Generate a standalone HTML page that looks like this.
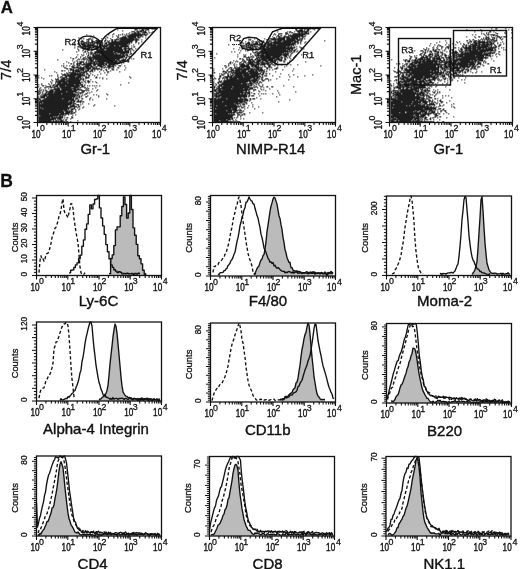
<!DOCTYPE html>
<html><head><meta charset="utf-8"><title>Figure</title>
<style>html,body{margin:0;padding:0;background:#fff;width:520px;height:569px;overflow:hidden}svg{display:block}svg text{stroke:#111;stroke-width:.3px}svg text.b{stroke-width:.4px}svg text.t{stroke-width:.4px}</style>
</head><body>
<svg width="520" height="569" viewBox="0 0 520 569" font-family="'Liberation Sans', Arial, Helvetica, sans-serif" fill="#111" stroke-linecap="butt"><text x="0.7" y="13.3" font-size="16.8" text-anchor="start" font-weight="bold">A</text>
<text x="0.2" y="187" font-size="17.5" text-anchor="start" font-weight="bold">B</text>
<path d="M135 28h1m1 0h1m4 0h1m1 0h1m2 0h1m0 0h1m2 0h1m0 0h1m0 0h1m0 0h1m1 0h1m-40 1h1m16 0h1m0 0h1m0 0h1m2 0h1m1 0h1m0 0h1m0 0h1m1 0h1m0 0h1m0 0h1m0 0h1m-27 1h1m14 0h1m2 0h1m0 0h1m0 0h1m0 0h1m1 0h1m-15 1h1m0 0h1m0 0h1m0 0h1m1 0h1m0 0h1m0 0h1m0 0h1m0 0h1m0 0h1m1 0h1m0 0h1m0 0h1m2 0h1m3 0h1m-24 1h1m4 0h1m0 0h1m1 0h1m0 0h1m3 0h1m0 0h1m0 0h1m0 0h1m0 0h1m2 0h1m1 0h1m-44 1h1m4 0h1m8 0h1m3 0h1m1 0h1m2 0h1m0 0h1m0 0h1m0 0h1m0 0h1m0 0h1m0 0h1m0 0h1m0 0h1m0 0h1m1 0h1m1 0h1m2 0h1m-62 1h1m21 0h1m3 0h1m5 0h1m1 0h1m1 0h1m1 0h1m1 0h1m2 0h1m0 0h1m0 0h1m0 0h1m0 0h1m0 0h1m0 0h1m0 0h1m0 0h1m0 0h1m0 0h1m0 0h1m0 0h1m0 0h1m0 0h1m0 0h1m0 0h1m0 0h1m-54 1h1m22 0h1m1 0h1m6 0h1m1 0h1m0 0h1m0 0h1m0 0h1m0 0h1m0 0h1m0 0h1m0 0h1m0 0h1m0 0h1m0 0h1m0 0h1m0 0h1m0 0h1m0 0h1m3 0h1m-56 1h1m13 0h1m1 0h1m5 0h1m4 0h1m4 0h1m0 0h1m0 0h1m0 0h1m1 0h1m0 0h1m0 0h1m0 0h1m0 0h1m0 0h1m0 0h1m0 0h1m0 0h1m1 0h1m0 0h1m1 0h1m1 0h1m-65 1h1m25 0h1m2 0h1m9 0h1m0 0h1m1 0h1m0 0h1m0 0h1m0 0h1m0 0h1m0 0h1m0 0h1m1 0h1m0 0h1m0 0h1m0 0h1m0 0h1m0 0h1m0 0h1m0 0h1m1 0h1m0 0h1m0 0h1m5 0h1m-65 1h1m1 0h1m4 0h1m0 0h1m0 0h1m1 0h1m8 0h1m3 0h1m4 0h1m5 0h1m2 0h1m0 0h1m0 0h1m0 0h1m0 0h1m0 0h1m0 0h1m0 0h1m0 0h1m0 0h1m0 0h1m0 0h1m0 0h1m0 0h1m0 0h1m1 0h1m0 0h1m-51 1h1m0 0h1m0 0h1m2 0h1m4 0h1m8 0h1m5 0h1m0 0h1m1 0h1m0 0h1m0 0h1m0 0h1m0 0h1m1 0h1m0 0h1m0 0h1m0 0h1m0 0h1m0 0h1m0 0h1m0 0h1m0 0h1m0 0h1m0 0h1m0 0h1m0 0h1m0 0h1m0 0h1m0 0h1m0 0h1m0 0h1m0 0h1m2 0h1m-65 1h1m3 0h1m0 0h1m5 0h1m2 0h1m0 0h1m2 0h1m0 0h1m0 0h1m0 0h1m0 0h1m0 0h1m0 0h1m2 0h1m0 0h1m1 0h1m1 0h1m1 0h1m0 0h1m1 0h1m0 0h1m3 0h1m0 0h1m0 0h1m0 0h1m0 0h1m0 0h1m0 0h1m0 0h1m0 0h1m0 0h1m0 0h1m0 0h1m0 0h1m0 0h1m2 0h1m0 0h1m-57 1h1m0 0h1m0 0h1m0 0h1m2 0h1m0 0h1m0 0h1m2 0h1m0 0h1m0 0h1m0 0h1m1 0h1m0 0h1m0 0h1m0 0h1m1 0h1m2 0h1m2 0h1m0 0h1m2 0h1m0 0h1m0 0h1m0 0h1m0 0h1m0 0h1m0 0h1m0 0h1m0 0h1m0 0h1m0 0h1m0 0h1m0 0h1m0 0h1m0 0h1m0 0h1m0 0h1m0 0h1m0 0h1m0 0h1m0 0h1m3 0h1m0 0h1m4 0h1m-68 1h1m3 0h1m2 0h1m1 0h1m0 0h1m0 0h1m0 0h1m1 0h1m0 0h1m0 0h1m0 0h1m0 0h1m1 0h1m0 0h1m0 0h1m0 0h1m0 0h1m1 0h1m0 0h1m0 0h1m2 0h1m0 0h1m1 0h1m0 0h1m0 0h1m0 0h1m0 0h1m0 0h1m0 0h1m0 0h1m0 0h1m0 0h1m0 0h1m0 0h1m0 0h1m0 0h1m0 0h1m0 0h1m0 0h1m0 0h1m0 0h1m0 0h1m0 0h1m0 0h1m1 0h1m3 0h1m2 0h1m-65 1h1m2 0h1m0 0h1m1 0h1m0 0h1m0 0h1m0 0h1m0 0h1m1 0h1m0 0h1m0 0h1m1 0h1m1 0h1m0 0h1m0 0h1m1 0h1m0 0h1m0 0h1m0 0h1m2 0h1m1 0h1m0 0h1m0 0h1m1 0h1m0 0h1m0 0h1m0 0h1m0 0h1m0 0h1m0 0h1m0 0h1m0 0h1m0 0h1m0 0h1m0 0h1m0 0h1m0 0h1m0 0h1m0 0h1m0 0h1m0 0h1m0 0h1m0 0h1m1 0h1m8 0h1m-61 1h1m2 0h1m0 0h1m0 0h1m0 0h1m0 0h1m1 0h1m0 0h1m0 0h1m0 0h1m0 0h1m0 0h1m0 0h1m3 0h1m1 0h1m0 0h1m0 0h1m0 0h1m1 0h1m1 0h1m0 0h1m0 0h1m0 0h1m0 0h1m0 0h1m0 0h1m0 0h1m0 0h1m0 0h1m0 0h1m0 0h1m0 0h1m0 0h1m0 0h1m0 0h1m0 0h1m0 0h1m0 0h1m0 0h1m0 0h1m1 0h1m4 0h1m-60 1h1m7 0h1m0 0h1m0 0h1m0 0h1m0 0h1m0 0h1m0 0h1m0 0h1m0 0h1m0 0h1m0 0h1m0 0h1m0 0h1m0 0h1m0 0h1m0 0h1m1 0h1m0 0h1m0 0h1m0 0h1m0 0h1m0 0h1m0 0h1m0 0h1m0 0h1m1 0h1m0 0h1m0 0h1m0 0h1m0 0h1m1 0h1m0 0h1m0 0h1m0 0h1m1 0h1m0 0h1m0 0h1m0 0h1m0 0h1m0 0h1m0 0h1m0 0h1m3 0h1m-55 1h1m0 0h1m0 0h1m2 0h1m0 0h1m0 0h1m0 0h1m0 0h1m0 0h1m0 0h1m0 0h1m0 0h1m1 0h1m0 0h1m0 0h1m0 0h1m0 0h1m0 0h1m0 0h1m0 0h1m0 0h1m1 0h1m0 0h1m0 0h1m0 0h1m0 0h1m1 0h1m0 0h1m0 0h1m0 0h1m0 0h1m0 0h1m0 0h1m0 0h1m0 0h1m0 0h1m0 0h1m0 0h1m0 0h1m0 0h1m0 0h1m0 0h1m0 0h1m0 0h1m0 0h1m0 0h1m0 0h1m4 0h1m0 0h1m-61 1h1m5 0h1m0 0h1m0 0h1m1 0h1m0 0h1m1 0h1m0 0h1m0 0h1m0 0h1m0 0h1m0 0h1m0 0h1m1 0h1m0 0h1m0 0h1m1 0h1m0 0h1m0 0h1m1 0h1m0 0h1m1 0h1m0 0h1m0 0h1m0 0h1m0 0h1m0 0h1m0 0h1m0 0h1m0 0h1m0 0h1m0 0h1m0 0h1m0 0h1m0 0h1m0 0h1m0 0h1m2 0h1m0 0h1m2 0h1m2 0h1m-55 1h1m4 0h1m0 0h1m0 0h1m0 0h1m0 0h1m0 0h1m0 0h1m0 0h1m1 0h1m2 0h1m0 0h1m0 0h1m0 0h1m1 0h1m0 0h1m0 0h1m0 0h1m0 0h1m0 0h1m0 0h1m0 0h1m0 0h1m0 0h1m0 0h1m0 0h1m0 0h1m0 0h1m0 0h1m0 0h1m0 0h1m0 0h1m0 0h1m0 0h1m0 0h1m0 0h1m0 0h1m1 0h1m0 0h1m0 0h1m0 0h1m0 0h1m0 0h1m0 0h1m0 0h1m0 0h1m3 0h1m-74 1h1m15 0h1m4 0h1m3 0h1m0 0h1m2 0h1m0 0h1m3 0h1m0 0h1m0 0h1m0 0h1m1 0h1m0 0h1m0 0h1m2 0h1m0 0h1m0 0h1m0 0h1m0 0h1m0 0h1m0 0h1m0 0h1m0 0h1m0 0h1m0 0h1m0 0h1m0 0h1m0 0h1m0 0h1m0 0h1m0 0h1m1 0h1m0 0h1m2 0h1m0 0h1m2 0h1m-55 1h1m3 0h1m2 0h1m1 0h1m3 0h1m4 0h1m0 0h1m0 0h1m0 0h1m0 0h1m0 0h1m0 0h1m0 0h1m0 0h1m0 0h1m0 0h1m0 0h1m0 0h1m0 0h1m0 0h1m0 0h1m0 0h1m0 0h1m0 0h1m0 0h1m0 0h1m0 0h1m0 0h1m0 0h1m0 0h1m0 0h1m0 0h1m1 0h1m0 0h1m0 0h1m0 0h1m0 0h1m1 0h1m2 0h1m-58 1h1m7 0h1m0 0h1m1 0h1m2 0h1m3 0h1m0 0h1m0 0h1m0 0h1m0 0h1m0 0h1m0 0h1m0 0h1m0 0h1m0 0h1m0 0h1m0 0h1m0 0h1m0 0h1m0 0h1m0 0h1m0 0h1m0 0h1m0 0h1m1 0h1m0 0h1m0 0h1m0 0h1m0 0h1m0 0h1m0 0h1m0 0h1m0 0h1m0 0h1m0 0h1m0 0h1m0 0h1m0 0h1m0 0h1m1 0h1m-48 1h1m4 0h1m1 0h1m0 0h1m0 0h1m1 0h1m0 0h1m0 0h1m0 0h1m0 0h1m0 0h1m0 0h1m0 0h1m0 0h1m0 0h1m0 0h1m0 0h1m0 0h1m0 0h1m0 0h1m0 0h1m0 0h1m0 0h1m0 0h1m0 0h1m0 0h1m0 0h1m1 0h1m0 0h1m0 0h1m0 0h1m0 0h1m0 0h1m0 0h1m0 0h1m0 0h1m0 0h1m0 0h1m0 0h1m1 0h1m3 0h1m-49 1h1m1 0h1m1 0h1m0 0h1m1 0h1m0 0h1m0 0h1m1 0h1m1 0h1m0 0h1m0 0h1m0 0h1m0 0h1m0 0h1m0 0h1m0 0h1m0 0h1m0 0h1m0 0h1m0 0h1m0 0h1m0 0h1m0 0h1m1 0h1m0 0h1m3 0h1m0 0h1m0 0h1m0 0h1m0 0h1m1 0h1m3 0h1m0 0h1m1 0h1m-57 1h1m3 0h1m1 0h1m4 0h1m1 0h1m1 0h1m0 0h1m1 0h1m0 0h1m0 0h1m0 0h1m0 0h1m1 0h1m0 0h1m0 0h1m0 0h1m0 0h1m0 0h1m0 0h1m0 0h1m0 0h1m0 0h1m0 0h1m0 0h1m0 0h1m0 0h1m0 0h1m0 0h1m0 0h1m0 0h1m0 0h1m0 0h1m1 0h1m0 0h1m1 0h1m0 0h1m0 0h1m1 0h1m-48 1h1m4 0h1m0 0h1m3 0h1m0 0h1m0 0h1m0 0h1m0 0h1m0 0h1m0 0h1m0 0h1m0 0h1m0 0h1m0 0h1m0 0h1m0 0h1m0 0h1m0 0h1m0 0h1m0 0h1m0 0h1m0 0h1m0 0h1m0 0h1m0 0h1m0 0h1m0 0h1m0 0h1m0 0h1m0 0h1m0 0h1m0 0h1m0 0h1m0 0h1m0 0h1m0 0h1m1 0h1m0 0h1m-52 1h1m3 0h1m4 0h1m1 0h1m1 0h1m0 0h1m1 0h1m0 0h1m0 0h1m0 0h1m0 0h1m0 0h1m0 0h1m0 0h1m0 0h1m0 0h1m0 0h1m0 0h1m0 0h1m0 0h1m0 0h1m0 0h1m0 0h1m0 0h1m0 0h1m0 0h1m0 0h1m0 0h1m0 0h1m0 0h1m0 0h1m0 0h1m0 0h1m0 0h1m0 0h1m0 0h1m0 0h1m0 0h1m0 0h1m1 0h1m1 0h1m0 0h1m0 0h1m-61 1h1m4 0h1m4 0h1m2 0h1m0 0h1m2 0h1m0 0h1m0 0h1m0 0h1m0 0h1m0 0h1m0 0h1m0 0h1m0 0h1m0 0h1m0 0h1m0 0h1m0 0h1m0 0h1m0 0h1m0 0h1m0 0h1m0 0h1m0 0h1m0 0h1m0 0h1m0 0h1m0 0h1m0 0h1m0 0h1m0 0h1m0 0h1m0 0h1m0 0h1m0 0h1m0 0h1m0 0h1m0 0h1m0 0h1m0 0h1m0 0h1m2 0h1m0 0h1m-55 1h1m0 0h1m4 0h1m3 0h1m0 0h1m1 0h1m0 0h1m1 0h1m0 0h1m0 0h1m0 0h1m1 0h1m0 0h1m0 0h1m0 0h1m0 0h1m0 0h1m0 0h1m0 0h1m0 0h1m0 0h1m0 0h1m0 0h1m0 0h1m0 0h1m0 0h1m0 0h1m0 0h1m0 0h1m0 0h1m0 0h1m0 0h1m0 0h1m0 0h1m0 0h1m0 0h1m0 0h1m0 0h1m3 0h1m1 0h1m5 0h1m1 0h1m-77 1h1m19 0h1m1 0h1m1 0h1m1 0h1m0 0h1m2 0h1m1 0h1m0 0h1m0 0h1m0 0h1m0 0h1m1 0h1m0 0h1m0 0h1m0 0h1m0 0h1m0 0h1m0 0h1m0 0h1m0 0h1m0 0h1m0 0h1m0 0h1m0 0h1m0 0h1m0 0h1m0 0h1m0 0h1m0 0h1m0 0h1m0 0h1m1 0h1m0 0h1m0 0h1m2 0h1m0 0h1m0 0h1m0 0h1m0 0h1m1 0h1m-56 1h1m3 0h1m9 0h1m1 0h1m0 0h1m0 0h1m0 0h1m0 0h1m2 0h1m1 0h1m0 0h1m0 0h1m0 0h1m0 0h1m0 0h1m0 0h1m0 0h1m0 0h1m0 0h1m0 0h1m0 0h1m0 0h1m0 0h1m0 0h1m0 0h1m0 0h1m0 0h1m0 0h1m0 0h1m1 0h1m0 0h1m0 0h1m0 0h1m0 0h1m0 0h1m0 0h1m3 0h1m-63 1h1m7 0h1m2 0h1m1 0h1m0 0h1m0 0h1m0 0h1m0 0h1m2 0h1m1 0h1m1 0h1m0 0h1m0 0h1m0 0h1m0 0h1m0 0h1m0 0h1m0 0h1m0 0h1m0 0h1m0 0h1m0 0h1m0 0h1m0 0h1m0 0h1m0 0h1m0 0h1m0 0h1m0 0h1m0 0h1m0 0h1m0 0h1m0 0h1m1 0h1m0 0h1m0 0h1m0 0h1m1 0h1m0 0h1m6 0h1m0 0h1m-61 1h1m4 0h1m3 0h1m1 0h1m0 0h1m0 0h1m1 0h1m1 0h1m0 0h1m1 0h1m0 0h1m0 0h1m0 0h1m1 0h1m0 0h1m1 0h1m1 0h1m0 0h1m0 0h1m0 0h1m0 0h1m0 0h1m2 0h1m0 0h1m0 0h1m0 0h1m0 0h1m0 0h1m0 0h1m0 0h1m0 0h1m0 0h1m0 0h1m1 0h1m0 0h1m3 0h1m-61 1h1m6 0h1m0 0h1m1 0h1m2 0h1m0 0h1m0 0h1m0 0h1m0 0h1m2 0h1m0 0h1m1 0h1m0 0h1m0 0h1m0 0h1m0 0h1m0 0h1m0 0h1m0 0h1m0 0h1m0 0h1m0 0h1m0 0h1m0 0h1m0 0h1m0 0h1m0 0h1m0 0h1m0 0h1m0 0h1m0 0h1m0 0h1m1 0h1m0 0h1m0 0h1m0 0h1m0 0h1m0 0h1m0 0h1m0 0h1m0 0h1m0 0h1m3 0h1m-49 1h1m2 0h1m0 0h1m1 0h1m1 0h1m0 0h1m0 0h1m0 0h1m0 0h1m0 0h1m0 0h1m0 0h1m0 0h1m0 0h1m2 0h1m0 0h1m0 0h1m1 0h1m0 0h1m0 0h1m0 0h1m0 0h1m0 0h1m0 0h1m1 0h1m0 0h1m1 0h1m0 0h1m0 0h1m0 0h1m0 0h1m0 0h1m0 0h1m-54 1h1m1 0h1m2 0h1m2 0h1m2 0h1m1 0h1m2 0h1m0 0h1m0 0h1m5 0h1m0 0h1m0 0h1m0 0h1m0 0h1m0 0h1m0 0h1m1 0h1m0 0h1m2 0h1m0 0h1m0 0h1m0 0h1m0 0h1m1 0h1m0 0h1m2 0h1m0 0h1m0 0h1m0 0h1m1 0h1m0 0h1m1 0h1m2 0h1m0 0h1m0 0h1m3 0h1m-62 1h1m7 0h1m0 0h1m0 0h1m2 0h1m0 0h1m2 0h1m2 0h1m0 0h1m0 0h1m0 0h1m0 0h1m0 0h1m1 0h1m0 0h1m0 0h1m2 0h1m0 0h1m2 0h1m0 0h1m0 0h1m0 0h1m2 0h1m1 0h1m0 0h1m0 0h1m0 0h1m0 0h1m0 0h1m0 0h1m-50 1h1m0 0h1m6 0h1m0 0h1m0 0h1m0 0h1m0 0h1m0 0h1m0 0h1m0 0h1m0 0h1m0 0h1m0 0h1m0 0h1m1 0h1m0 0h1m0 0h1m0 0h1m0 0h1m0 0h1m1 0h1m0 0h1m0 0h1m1 0h1m4 0h1m1 0h1m0 0h1m1 0h1m1 0h1m0 0h1m3 0h1m3 0h1m0 0h1m6 0h1m-60 1h1m0 0h1m1 0h1m0 0h1m0 0h1m1 0h1m4 0h1m0 0h1m0 0h1m0 0h1m0 0h1m0 0h1m0 0h1m1 0h1m0 0h1m0 0h1m0 0h1m0 0h1m1 0h1m0 0h1m0 0h1m0 0h1m0 0h1m0 0h1m0 0h1m0 0h1m1 0h1m6 0h1m2 0h1m0 0h1m-69 1h1m25 0h1m0 0h1m0 0h1m0 0h1m1 0h1m0 0h1m0 0h1m0 0h1m1 0h1m0 0h1m0 0h1m0 0h1m1 0h1m1 0h1m0 0h1m2 0h1m0 0h1m1 0h1m2 0h1m2 0h1m0 0h1m3 0h1m0 0h1m5 0h1m0 0h1m2 0h1m7 0h1m-64 1h1m0 0h1m1 0h1m3 0h1m1 0h1m1 0h1m0 0h1m0 0h1m0 0h1m0 0h1m0 0h1m0 0h1m0 0h1m0 0h1m1 0h1m0 0h1m1 0h1m0 0h1m0 0h1m0 0h1m1 0h1m0 0h1m0 0h1m1 0h1m8 0h1m2 0h1m3 0h1m-57 1h1m17 0h1m0 0h1m1 0h1m0 0h1m0 0h1m0 0h1m0 0h1m1 0h1m1 0h1m0 0h1m0 0h1m0 0h1m2 0h1m0 0h1m1 0h1m6 0h1m7 0h1m0 0h1m10 0h1m-64 1h1m9 0h1m1 0h1m0 0h1m0 0h1m0 0h1m0 0h1m0 0h1m0 0h1m0 0h1m1 0h1m1 0h1m0 0h1m0 0h1m0 0h1m0 0h1m0 0h1m1 0h1m17 0h1m2 0h1m-47 1h1m2 0h1m1 0h1m0 0h1m2 0h1m0 0h1m0 0h1m0 0h1m0 0h1m0 0h1m0 0h1m0 0h1m0 0h1m0 0h1m0 0h1m1 0h1m0 0h1m2 0h1m0 0h1m2 0h1m9 0h1m-44 1h1m4 0h1m0 0h1m0 0h1m0 0h1m1 0h1m0 0h1m0 0h1m0 0h1m0 0h1m0 0h1m0 0h1m0 0h1m0 0h1m0 0h1m0 0h1m0 0h1m0 0h1m0 0h1m0 0h1m0 0h1m1 0h1m1 0h1m1 0h1m3 0h1m4 0h1m8 0h1m-69 1h1m10 0h1m1 0h1m5 0h1m4 0h1m1 0h1m0 0h1m0 0h1m0 0h1m0 0h1m0 0h1m0 0h1m0 0h1m0 0h1m0 0h1m0 0h1m0 0h1m1 0h1m0 0h1m0 0h1m0 0h1m0 0h1m0 0h1m0 0h1m0 0h1m3 0h1m0 0h1m4 0h1m-38 1h1m2 0h1m0 0h1m3 0h1m0 0h1m1 0h1m0 0h1m0 0h1m0 0h1m0 0h1m0 0h1m0 0h1m1 0h1m0 0h1m0 0h1m0 0h1m0 0h1m4 0h1m0 0h1m1 0h1m7 0h1m32 0h1m-92 1h1m2 0h1m16 0h1m1 0h1m1 0h1m0 0h1m0 0h1m0 0h1m0 0h1m2 0h1m0 0h1m0 0h1m0 0h1m0 0h1m0 0h1m0 0h1m0 0h1m0 0h1m0 0h1m0 0h1m0 0h1m1 0h1m2 0h1m0 0h1m0 0h1m0 0h1m6 0h1m0 0h1m2 0h1m2 0h1m27 0h1m-88 1h1m11 0h1m1 0h1m3 0h1m0 0h1m0 0h1m0 0h1m1 0h1m0 0h1m0 0h1m0 0h1m0 0h1m0 0h1m0 0h1m0 0h1m0 0h1m0 0h1m0 0h1m0 0h1m0 0h1m1 0h1m0 0h1m1 0h1m1 0h1m16 0h1m3 0h1m-56 1h1m3 0h1m0 0h1m0 0h1m0 0h1m1 0h1m0 0h1m0 0h1m0 0h1m0 0h1m0 0h1m0 0h1m1 0h1m0 0h1m0 0h1m0 0h1m0 0h1m0 0h1m0 0h1m0 0h1m0 0h1m0 0h1m0 0h1m0 0h1m0 0h1m1 0h1m0 0h1m6 0h1m-39 1h1m3 0h1m1 0h1m0 0h1m0 0h1m0 0h1m0 0h1m0 0h1m0 0h1m1 0h1m0 0h1m0 0h1m0 0h1m0 0h1m0 0h1m0 0h1m0 0h1m0 0h1m0 0h1m0 0h1m0 0h1m0 0h1m0 0h1m3 0h1m1 0h1m1 0h1m0 0h1m-39 1h1m4 0h1m0 0h1m0 0h1m0 0h1m0 0h1m0 0h1m0 0h1m0 0h1m0 0h1m0 0h1m0 0h1m0 0h1m0 0h1m0 0h1m0 0h1m0 0h1m0 0h1m0 0h1m0 0h1m0 0h1m0 0h1m0 0h1m0 0h1m0 0h1m0 0h1m1 0h1m2 0h1m2 0h1m0 0h1m0 0h1m2 0h1m2 0h1m-45 1h1m3 0h1m1 0h1m0 0h1m0 0h1m0 0h1m1 0h1m0 0h1m0 0h1m0 0h1m0 0h1m1 0h1m0 0h1m0 0h1m0 0h1m0 0h1m0 0h1m0 0h1m0 0h1m0 0h1m0 0h1m0 0h1m0 0h1m0 0h1m1 0h1m2 0h1m2 0h1m7 0h1m31 0h1m-88 1h1m6 0h1m2 0h1m3 0h1m1 0h1m0 0h1m0 0h1m0 0h1m0 0h1m0 0h1m0 0h1m0 0h1m0 0h1m0 0h1m0 0h1m0 0h1m0 0h1m0 0h1m0 0h1m0 0h1m0 0h1m0 0h1m0 0h1m0 0h1m0 0h1m0 0h1m0 0h1m0 0h1m-43 1h1m2 0h1m7 0h1m3 0h1m0 0h1m1 0h1m0 0h1m0 0h1m0 0h1m0 0h1m0 0h1m0 0h1m0 0h1m0 0h1m0 0h1m0 0h1m0 0h1m0 0h1m0 0h1m0 0h1m0 0h1m0 0h1m0 0h1m1 0h1m0 0h1m0 0h1m0 0h1m1 0h1m0 0h1m0 0h1m1 0h1m35 0h1m-79 1h1m0 0h1m1 0h1m4 0h1m1 0h1m0 0h1m1 0h1m0 0h1m0 0h1m1 0h1m0 0h1m0 0h1m0 0h1m0 0h1m0 0h1m1 0h1m0 0h1m0 0h1m0 0h1m0 0h1m0 0h1m0 0h1m0 0h1m0 0h1m0 0h1m0 0h1m0 0h1m0 0h1m0 0h1m1 0h1m0 0h1m1 0h1m2 0h1m1 0h1m2 0h1m1 0h1m1 0h1m2 0h1m-62 1h1m7 0h1m0 0h1m0 0h1m0 0h1m0 0h1m1 0h1m1 0h1m0 0h1m0 0h1m0 0h1m1 0h1m0 0h1m0 0h1m0 0h1m0 0h1m0 0h1m0 0h1m0 0h1m0 0h1m0 0h1m0 0h1m0 0h1m0 0h1m0 0h1m0 0h1m0 0h1m0 0h1m0 0h1m0 0h1m0 0h1m2 0h1m0 0h1m0 0h1m-44 1h1m3 0h1m0 0h1m4 0h1m0 0h1m1 0h1m0 0h1m2 0h1m0 0h1m1 0h1m0 0h1m0 0h1m0 0h1m0 0h1m0 0h1m0 0h1m0 0h1m0 0h1m0 0h1m0 0h1m2 0h1m0 0h1m0 0h1m0 0h1m0 0h1m1 0h1m0 0h1m3 0h1m0 0h1m1 0h1m7 0h1m-57 1h1m8 0h1m5 0h1m0 0h1m0 0h1m0 0h1m0 0h1m0 0h1m1 0h1m0 0h1m0 0h1m0 0h1m0 0h1m0 0h1m0 0h1m0 0h1m0 0h1m0 0h1m0 0h1m0 0h1m0 0h1m0 0h1m0 0h1m1 0h1m0 0h1m7 0h1m1 0h1m3 0h1m-54 1h1m1 0h1m1 0h1m1 0h1m4 0h1m0 0h1m0 0h1m0 0h1m0 0h1m0 0h1m0 0h1m0 0h1m0 0h1m0 0h1m1 0h1m0 0h1m0 0h1m0 0h1m0 0h1m0 0h1m0 0h1m0 0h1m0 0h1m0 0h1m0 0h1m1 0h1m0 0h1m0 0h1m0 0h1m0 0h1m0 0h1m0 0h1m0 0h1m0 0h1m3 0h1m1 0h1m9 0h1m-60 1h1m1 0h1m2 0h1m1 0h1m0 0h1m2 0h1m0 0h1m0 0h1m0 0h1m2 0h1m0 0h1m0 0h1m0 0h1m0 0h1m0 0h1m0 0h1m0 0h1m0 0h1m0 0h1m0 0h1m0 0h1m0 0h1m0 0h1m0 0h1m0 0h1m0 0h1m0 0h1m0 0h1m0 0h1m0 0h1m0 0h1m4 0h1m0 0h1m0 0h1m0 0h1m1 0h1m1 0h1m7 0h1m-59 1h1m0 0h1m2 0h1m3 0h1m0 0h1m0 0h1m0 0h1m0 0h1m0 0h1m0 0h1m0 0h1m0 0h1m0 0h1m0 0h1m0 0h1m0 0h1m0 0h1m0 0h1m0 0h1m0 0h1m0 0h1m0 0h1m0 0h1m1 0h1m0 0h1m0 0h1m0 0h1m0 0h1m0 0h1m0 0h1m0 0h1m0 0h1m2 0h1m3 0h1m0 0h1m7 0h1m-54 1h1m1 0h1m1 0h1m2 0h1m0 0h1m1 0h1m0 0h1m0 0h1m0 0h1m0 0h1m1 0h1m0 0h1m0 0h1m0 0h1m0 0h1m0 0h1m0 0h1m0 0h1m0 0h1m0 0h1m0 0h1m0 0h1m0 0h1m0 0h1m0 0h1m0 0h1m0 0h1m0 0h1m0 0h1m2 0h1m0 0h1m0 0h1m1 0h1m0 0h1m0 0h1m0 0h1m4 0h1m1 0h1m-52 1h1m0 0h1m2 0h1m1 0h1m0 0h1m1 0h1m0 0h1m0 0h1m0 0h1m0 0h1m0 0h1m0 0h1m0 0h1m0 0h1m0 0h1m0 0h1m0 0h1m0 0h1m0 0h1m1 0h1m0 0h1m0 0h1m0 0h1m0 0h1m0 0h1m0 0h1m0 0h1m0 0h1m0 0h1m0 0h1m0 0h1m0 0h1m3 0h1m1 0h1m4 0h1m0 0h1m19 0h1m-69 1h1m2 0h1m1 0h1m0 0h1m0 0h1m0 0h1m0 0h1m0 0h1m0 0h1m0 0h1m0 0h1m0 0h1m0 0h1m0 0h1m0 0h1m0 0h1m0 0h1m0 0h1m0 0h1m0 0h1m0 0h1m0 0h1m0 0h1m0 0h1m0 0h1m0 0h1m0 0h1m0 0h1m0 0h1m0 0h1m0 0h1m0 0h1m0 0h1m0 0h1m0 0h1m0 0h1m0 0h1m0 0h1m3 0h1m1 0h1m8 0h1m2 0h1m10 0h1m-68 1h1m1 0h1m0 0h1m0 0h1m0 0h1m0 0h1m1 0h1m0 0h1m0 0h1m0 0h1m0 0h1m0 0h1m0 0h1m0 0h1m0 0h1m0 0h1m0 0h1m0 0h1m0 0h1m0 0h1m0 0h1m0 0h1m0 0h1m0 0h1m0 0h1m0 0h1m0 0h1m0 0h1m0 0h1m0 0h1m0 0h1m0 0h1m0 0h1m0 0h1m1 0h1m1 0h1m1 0h1m5 0h1m10 0h1m-61 1h1m1 0h1m0 0h1m0 0h1m0 0h1m0 0h1m1 0h1m0 0h1m0 0h1m0 0h1m0 0h1m0 0h1m0 0h1m0 0h1m0 0h1m0 0h1m0 0h1m0 0h1m0 0h1m0 0h1m0 0h1m0 0h1m0 0h1m0 0h1m0 0h1m0 0h1m0 0h1m0 0h1m0 0h1m0 0h1m0 0h1m0 0h1m0 0h1m0 0h1m0 0h1m1 0h1m1 0h1m0 0h1m1 0h1m3 0h1m0 0h1m11 0h1m-61 1h1m1 0h1m0 0h1m0 0h1m0 0h1m0 0h1m1 0h1m0 0h1m0 0h1m0 0h1m0 0h1m0 0h1m0 0h1m0 0h1m0 0h1m0 0h1m0 0h1m0 0h1m0 0h1m0 0h1m0 0h1m0 0h1m0 0h1m0 0h1m0 0h1m0 0h1m0 0h1m0 0h1m0 0h1m0 0h1m0 0h1m0 0h1m1 0h1m1 0h1m1 0h1m1 0h1m10 0h1m-53 1h1m0 0h1m4 0h1m0 0h1m0 0h1m0 0h1m0 0h1m0 0h1m0 0h1m0 0h1m0 0h1m0 0h1m0 0h1m0 0h1m0 0h1m0 0h1m0 0h1m0 0h1m0 0h1m0 0h1m1 0h1m0 0h1m0 0h1m0 0h1m0 0h1m0 0h1m0 0h1m0 0h1m0 0h1m0 0h1m0 0h1m1 0h1m0 0h1m0 0h1m3 0h1m0 0h1m6 0h1m16 0h1m-69 1h1m0 0h1m0 0h1m1 0h1m0 0h1m0 0h1m0 0h1m0 0h1m0 0h1m0 0h1m0 0h1m0 0h1m0 0h1m0 0h1m0 0h1m0 0h1m0 0h1m0 0h1m0 0h1m0 0h1m0 0h1m0 0h1m0 0h1m0 0h1m0 0h1m0 0h1m0 0h1m0 0h1m0 0h1m0 0h1m0 0h1m0 0h1m0 0h1m0 0h1m0 0h1m1 0h1m2 0h1m10 0h1m2 0h1m-55 1h1m1 0h1m0 0h1m0 0h1m0 0h1m0 0h1m0 0h1m0 0h1m0 0h1m0 0h1m0 0h1m0 0h1m0 0h1m0 0h1m0 0h1m0 0h1m0 0h1m0 0h1m0 0h1m0 0h1m0 0h1m0 0h1m0 0h1m0 0h1m0 0h1m0 0h1m0 0h1m0 0h1m0 0h1m0 0h1m1 0h1m0 0h1m0 0h1m0 0h1m0 0h1m2 0h1m0 0h1m1 0h1m0 0h1m-44 1h1m0 0h1m0 0h1m0 0h1m0 0h1m0 0h1m0 0h1m0 0h1m0 0h1m0 0h1m0 0h1m0 0h1m0 0h1m0 0h1m0 0h1m0 0h1m0 0h1m0 0h1m0 0h1m0 0h1m0 0h1m0 0h1m0 0h1m0 0h1m0 0h1m0 0h1m0 0h1m0 0h1m0 0h1m0 0h1m1 0h1m0 0h1m0 0h1m1 0h1m0 0h1m1 0h1m0 0h1m0 0h1m0 0h1m0 0h1m1 0h1m0 0h1m-46 1h1m0 0h1m0 0h1m0 0h1m1 0h1m0 0h1m0 0h1m0 0h1m0 0h1m0 0h1m0 0h1m0 0h1m0 0h1m0 0h1m0 0h1m0 0h1m0 0h1m0 0h1m0 0h1m0 0h1m0 0h1m0 0h1m0 0h1m0 0h1m0 0h1m0 0h1m0 0h1m0 0h1m0 0h1m0 0h1m0 0h1m0 0h1m0 0h1m0 0h1m0 0h1m6 0h1m-43 1h1m0 0h1m1 0h1m0 0h1m0 0h1m0 0h1m0 0h1m0 0h1m0 0h1m0 0h1m0 0h1m0 0h1m0 0h1m0 0h1m0 0h1m0 0h1m0 0h1m0 0h1m0 0h1m0 0h1m0 0h1m0 0h1m0 0h1m0 0h1m0 0h1m0 0h1m0 0h1m0 0h1m0 0h1m0 0h1m0 0h1m0 0h1m0 0h1m1 0h1m0 0h1m0 0h1m6 0h1m5 0h1m-51 1h1m0 0h1m0 0h1m0 0h1m0 0h1m0 0h1m0 0h1m0 0h1m0 0h1m0 0h1m0 0h1m0 0h1m0 0h1m0 0h1m0 0h1m0 0h1m0 0h1m0 0h1m0 0h1m0 0h1m0 0h1m0 0h1m0 0h1m0 0h1m0 0h1m0 0h1m0 0h1m0 0h1m0 0h1m0 0h1m0 0h1m0 0h1m0 0h1m1 0h1m0 0h1m2 0h1m0 0h1m0 0h1m1 0h1m13 0h1m-57 1h1m0 0h1m0 0h1m0 0h1m0 0h1m0 0h1m0 0h1m0 0h1m0 0h1m0 0h1m0 0h1m0 0h1m0 0h1m0 0h1m0 0h1m0 0h1m0 0h1m0 0h1m0 0h1m0 0h1m0 0h1m0 0h1m0 0h1m0 0h1m0 0h1m0 0h1m0 0h1m0 0h1m0 0h1m0 0h1m2 0h1m0 0h1m0 0h1m0 0h1m0 0h1m3 0h1m14 0h1m20 0h1m-77 1h1m0 0h1m0 0h1m0 0h1m0 0h1m0 0h1m0 0h1m0 0h1m0 0h1m0 0h1m0 0h1m0 0h1m0 0h1m0 0h1m0 0h1m0 0h1m0 0h1m0 0h1m0 0h1m0 0h1m0 0h1m0 0h1m0 0h1m0 0h1m0 0h1m0 0h1m0 0h1m0 0h1m0 0h1m0 0h1m1 0h1m0 0h1m0 0h1m0 0h1m0 0h1m0 0h1m0 0h1m0 0h1m1 0h1m0 0h1m3 0h1m-46 1h1m0 0h1m1 0h1m0 0h1m0 0h1m0 0h1m0 0h1m0 0h1m0 0h1m0 0h1m0 0h1m0 0h1m0 0h1m0 0h1m0 0h1m0 0h1m0 0h1m0 0h1m0 0h1m0 0h1m0 0h1m0 0h1m0 0h1m0 0h1m0 0h1m0 0h1m0 0h1m0 0h1m0 0h1m0 0h1m0 0h1m0 0h1m3 0h1m2 0h1m4 0h1m-45 1h1m0 0h1m0 0h1m0 0h1m1 0h1m0 0h1m0 0h1m0 0h1m0 0h1m0 0h1m0 0h1m0 0h1m0 0h1m0 0h1m0 0h1m0 0h1m0 0h1m0 0h1m0 0h1m0 0h1m0 0h1m0 0h1m0 0h1m0 0h1m0 0h1m0 0h1m0 0h1m0 0h1m0 0h1m0 0h1m2 0h1m0 0h1m0 0h1m0 0h1m4 0h1m-42 1h1m0 0h1m0 0h1m0 0h1m0 0h1m0 0h1m0 0h1m0 0h1m0 0h1m0 0h1m0 0h1m0 0h1m0 0h1m0 0h1m0 0h1m0 0h1m0 0h1m0 0h1m0 0h1m0 0h1m0 0h1m0 0h1m0 0h1m0 0h1m0 0h1m0 0h1m0 0h1m0 0h1m0 0h1m1 0h1m1 0h1m0 0h1m0 0h1m2 0h1m2 0h1m-41 1h1m0 0h1m0 0h1m0 0h1m0 0h1m0 0h1m0 0h1m0 0h1m0 0h1m0 0h1m0 0h1m0 0h1m0 0h1m0 0h1m0 0h1m0 0h1m0 0h1m0 0h1m0 0h1m0 0h1m0 0h1m0 0h1m0 0h1m0 0h1m0 0h1m1 0h1m0 0h1m0 0h1m0 0h1m1 0h1m1 0h1m3 0h1m-38 1h1m0 0h1m0 0h1m0 0h1m0 0h1m0 0h1m0 0h1m0 0h1m0 0h1m0 0h1m0 0h1m0 0h1m0 0h1m0 0h1m0 0h1m0 0h1m0 0h1m0 0h1m0 0h1m0 0h1m0 0h1m0 0h1m0 0h1m0 0h1m0 0h1m0 0h1m1 0h1m0 0h1m0 0h1m0 0h1m0 0h1m0 0h1m0 0h1m0 0h1m2 0h1m-38 1h1m0 0h1m0 0h1m0 0h1m0 0h1m0 0h1m0 0h1m0 0h1m0 0h1m0 0h1m0 0h1m0 0h1m0 0h1m0 0h1m0 0h1m0 0h1m0 0h1m0 0h1m0 0h1m0 0h1m0 0h1m0 0h1m0 0h1m0 0h1m0 0h1m0 0h1m1 0h1m0 0h1m0 0h1m0 0h1m0 0h1m1 0h1m1 0h1m0 0h1m-37 1h1m0 0h1m0 0h1m0 0h1m0 0h1m0 0h1m0 0h1m0 0h1m0 0h1m0 0h1m0 0h1m1 0h1m0 0h1m0 0h1m0 0h1m0 0h1m0 0h1m0 0h1m0 0h1m0 0h1m1 0h1m0 0h1m0 0h1m0 0h1m0 0h1m0 0h1m0 0h1m0 0h1m0 0h1m1 0h1m0 0h1m0 0h1m-35 1h1m0 0h1m0 0h1m0 0h1m0 0h1m0 0h1m0 0h1m0 0h1m0 0h1m0 0h1m0 0h1m0 0h1m0 0h1m0 0h1m0 0h1m0 0h1m0 0h1m0 0h1m0 0h1m0 0h1m0 0h1m0 0h1m0 0h1m0 0h1m0 0h1m0 0h1m1 0h1m2 0h1m6 0h1m-38 1h1m1 0h1m0 0h1m0 0h1m0 0h1m0 0h1m0 0h1m0 0h1m0 0h1m0 0h1m0 0h1m0 0h1m0 0h1m0 0h1m0 0h1m0 0h1m0 0h1m0 0h1m0 0h1m1 0h1m0 0h1m1 0h1m1 0h1m7 0h1m-35 1h1m0 0h1m0 0h1m0 0h1m0 0h1m0 0h1m0 0h1m0 0h1m0 0h1m0 0h1m0 0h1m0 0h1m0 0h1m0 0h1m0 0h1m1 0h1m1 0h1m1 0h1m0 0h1m0 0h1m0 0h1m0 0h1m8 0h1m-34 1h1m0 0h1m0 0h1m0 0h1m0 0h1m0 0h1m0 0h1m0 0h1m0 0h1m0 0h1m0 0h1m0 0h1m1 0h1m0 0h1m0 0h1m0 0h1m0 0h1m0 0h1m0 0h1m0 0h1m0 0h1m0 0h1m0 0h1m0 0h1m1 0h1m1 0h1m0 0h1m3 0h1m0 0h1m-35 1h1m0 0h1m0 0h1m0 0h1m0 0h1m0 0h1m0 0h1m0 0h1m0 0h1m0 0h1m0 0h1m0 0h1m0 0h1m0 0h1m0 0h1m0 0h1m0 0h1m0 0h1m1 0h1m0 0h1m0 0h1m0 0h1m9 0h1m-33 1h1m0 0h1m0 0h1m0 0h1m0 0h1m0 0h1m0 0h1m0 0h1m0 0h1m0 0h1m0 0h1m0 0h1m0 0h1m0 0h1m0 0h1m0 0h1m1 0h1m1 0h1m1 0h1m0 0h1m0 0h1m1 0h1m1 0h1m0 0h1m-29 1h1m0 0h1m0 0h1m0 0h1m0 0h1m0 0h1m0 0h1m0 0h1m0 0h1m0 0h1m0 0h1m0 0h1m0 0h1m2 0h1m1 0h1m0 0h1m1 0h1m1 0h1m0 0h1m0 0h1m2 0h1m11 0h1m-40 1h1m0 0h1m0 0h1m0 0h1m0 0h1m0 0h1m0 0h1m0 0h1m0 0h1m0 0h1m0 0h1m0 0h1m0 0h1m0 0h1m0 0h1m0 0h1m0 0h1m0 0h1m0 0h1m0 0h1m0 0h1m0 0h1m0 0h1m0 0h1m0 0h1m0 0h1m0 0h1m1 0h1m0 0h1m2 0h1" stroke="#1e1e1e" stroke-width="1.3" transform="translate(.3 .8)" fill="none"/>
<rect x="37.5" y="27.5" width="123" height="95" fill="none" stroke="#111" stroke-width="1.3"/>
<path d="M37.5 122.5v4M46.8 122.5v2.6M52.2 122.5v2.6M56 122.5v2.6M59 122.5v2.6M61.4 122.5v2.6M63.5 122.5v2.6M65.3 122.5v2.6M66.8 122.5v2.6M68.2 122.5v4M77.5 122.5v2.6M82.9 122.5v2.6M86.8 122.5v2.6M89.7 122.5v2.6M92.2 122.5v2.6M94.2 122.5v2.6M96 122.5v2.6M97.6 122.5v2.6M99 122.5v4M108.3 122.5v2.6M113.7 122.5v2.6M117.5 122.5v2.6M120.5 122.5v2.6M122.9 122.5v2.6M125 122.5v2.6M126.8 122.5v2.6M128.3 122.5v2.6M129.8 122.5v4M139 122.5v2.6M144.4 122.5v2.6M148.3 122.5v2.6M151.2 122.5v2.6M153.7 122.5v2.6M155.7 122.5v2.6M157.5 122.5v2.6M159.1 122.5v2.6M160.5 122.5v4" stroke="#111" stroke-width="1.1" fill="none"/>
<path d="M37.5 122.5h-4M37.5 115.4h-2.6M37.5 111.2h-2.6M37.5 108.2h-2.6M37.5 105.9h-2.6M37.5 104h-2.6M37.5 102.4h-2.6M37.5 101.1h-2.6M37.5 99.8h-2.6M37.5 98.8h-4M37.5 91.6h-2.6M37.5 87.4h-2.6M37.5 84.5h-2.6M37.5 82.1h-2.6M37.5 80.3h-2.6M37.5 78.7h-2.6M37.5 77.3h-2.6M37.5 76.1h-2.6M37.5 75h-4M37.5 67.9h-2.6M37.5 63.7h-2.6M37.5 60.7h-2.6M37.5 58.4h-2.6M37.5 56.5h-2.6M37.5 54.9h-2.6M37.5 53.6h-2.6M37.5 52.3h-2.6M37.5 51.2h-4M37.5 44.1h-2.6M37.5 39.9h-2.6M37.5 37h-2.6M37.5 34.6h-2.6M37.5 32.8h-2.6M37.5 31.2h-2.6M37.5 29.8h-2.6M37.5 28.6h-2.6M37.5 27.5h-4" stroke="#111" stroke-width="1.1" fill="none"/>
<text transform="translate(31.4 137.7) scale(.8 1)" font-size="10.2" class="t">10</text>
<text transform="translate(40 131.4) scale(.95 1)" font-size="9.3">0</text>
<text transform="translate(62.1 137.7) scale(.8 1)" font-size="10.2" class="t">10</text>
<text transform="translate(70.8 131.4) scale(.95 1)" font-size="9.3">1</text>
<text transform="translate(92.9 137.7) scale(.8 1)" font-size="10.2" class="t">10</text>
<text transform="translate(101.5 131.4) scale(.95 1)" font-size="9.3">2</text>
<text transform="translate(123.7 137.7) scale(.8 1)" font-size="10.2" class="t">10</text>
<text transform="translate(132.2 131.4) scale(.95 1)" font-size="9.3">3</text>
<text transform="translate(152.1 137.7) scale(.8 1)" font-size="10.2" class="t">10</text>
<text transform="translate(161.8 131.4) scale(.95 1)" font-size="9.3">4</text>
<text transform="translate(29.6 129.4) rotate(-90) scale(.8 1)" font-size="10.2" class="t">10</text>
<text transform="translate(22.7 120.5) rotate(-90) scale(.95 1)" font-size="9.3">0</text>
<text transform="translate(29.6 105.7) rotate(-90) scale(.8 1)" font-size="10.2" class="t">10</text>
<text transform="translate(22.7 96.8) rotate(-90) scale(.95 1)" font-size="9.3">1</text>
<text transform="translate(29.6 81.9) rotate(-90) scale(.8 1)" font-size="10.2" class="t">10</text>
<text transform="translate(22.7 73) rotate(-90) scale(.95 1)" font-size="9.3">2</text>
<text transform="translate(29.6 58.1) rotate(-90) scale(.8 1)" font-size="10.2" class="t">10</text>
<text transform="translate(22.7 49.2) rotate(-90) scale(.95 1)" font-size="9.3">3</text>
<text transform="translate(29.6 35.4) rotate(-90) scale(.8 1)" font-size="10.2" class="t">10</text>
<text transform="translate(22.7 26.5) rotate(-90) scale(.95 1)" font-size="9.3">4</text>
<path d="M280 28h1m14 0h1m0 0h1m4 0h1m2 0h1m0 0h1m0 0h1m0 0h1m0 0h1m0 0h1m0 0h1m1 0h1m0 0h1m3 0h1m-23 1h1m0 0h1m2 0h1m0 0h1m0 0h1m0 0h1m1 0h1m2 0h1m0 0h1m5 0h1m-19 1h1m0 0h1m0 0h1m0 0h1m0 0h1m0 0h1m0 0h1m1 0h1m1 0h1m0 0h1m0 0h1m-32 1h1m9 0h1m1 0h1m0 0h1m3 0h1m2 0h1m0 0h1m0 0h1m0 0h1m0 0h1m0 0h1m0 0h1m0 0h1m0 0h1m0 0h1m0 0h1m2 0h1m-26 1h1m0 0h1m2 0h1m1 0h1m0 0h1m5 0h1m0 0h1m1 0h1m0 0h1m1 0h1m0 0h1m0 0h1m1 0h1m-35 1h1m3 0h1m0 0h1m0 0h1m0 0h1m3 0h1m0 0h1m0 0h1m5 0h1m0 0h1m0 0h1m0 0h1m0 0h1m0 0h1m0 0h1m0 0h1m0 0h1m0 0h1m0 0h1m0 0h1m0 0h1m0 0h1m0 0h1m0 0h1m-36 1h1m1 0h1m2 0h1m6 0h1m2 0h1m1 0h1m1 0h1m0 0h1m0 0h1m0 0h1m0 0h1m0 0h1m0 0h1m0 0h1m0 0h1m0 0h1m0 0h1m0 0h1m0 0h1m-28 1h1m0 0h1m1 0h1m0 0h1m2 0h1m3 0h1m0 0h1m0 0h1m0 0h1m0 0h1m0 0h1m0 0h1m0 0h1m0 0h1m0 0h1m0 0h1m0 0h1m0 0h1m0 0h1m0 0h1m2 0h1m-37 1h1m2 0h1m3 0h1m1 0h1m0 0h1m3 0h1m0 0h1m0 0h1m0 0h1m0 0h1m0 0h1m1 0h1m0 0h1m0 0h1m0 0h1m0 0h1m0 0h1m0 0h1m0 0h1m0 0h1m0 0h1m1 0h1m0 0h1m0 0h1m0 0h1m-57 1h1m24 0h1m0 0h1m1 0h1m1 0h1m0 0h1m0 0h1m0 0h1m0 0h1m0 0h1m0 0h1m1 0h1m0 0h1m0 0h1m0 0h1m1 0h1m0 0h1m0 0h1m0 0h1m0 0h1m0 0h1m0 0h1m1 0h1m2 0h1m-49 1h1m9 0h1m4 0h1m0 0h1m0 0h1m0 0h1m0 0h1m0 0h1m0 0h1m1 0h1m0 0h1m0 0h1m0 0h1m0 0h1m0 0h1m0 0h1m0 0h1m1 0h1m0 0h1m0 0h1m0 0h1m0 0h1m0 0h1m0 0h1m0 0h1m0 0h1m0 0h1m0 0h1m0 0h1m1 0h1m0 0h1m0 0h1m0 0h1m1 0h1m-57 1h1m0 0h1m0 0h1m6 0h1m8 0h1m0 0h1m0 0h1m2 0h1m0 0h1m0 0h1m0 0h1m0 0h1m0 0h1m0 0h1m0 0h1m0 0h1m0 0h1m0 0h1m0 0h1m0 0h1m0 0h1m1 0h1m0 0h1m0 0h1m0 0h1m0 0h1m0 0h1m0 0h1m0 0h1m0 0h1m1 0h1m0 0h1m0 0h1m0 0h1m1 0h1m-50 1h1m4 0h1m3 0h1m1 0h1m5 0h1m0 0h1m3 0h1m0 0h1m1 0h1m0 0h1m0 0h1m0 0h1m0 0h1m1 0h1m0 0h1m0 0h1m0 0h1m0 0h1m0 0h1m0 0h1m0 0h1m0 0h1m0 0h1m0 0h1m0 0h1m0 0h1m1 0h1m0 0h1m1 0h1m0 0h1m22 0h1m-86 1h1m5 0h1m2 0h1m2 0h1m1 0h1m1 0h1m0 0h1m1 0h1m0 0h1m1 0h1m0 0h1m0 0h1m3 0h1m0 0h1m0 0h1m1 0h1m1 0h1m0 0h1m0 0h1m0 0h1m0 0h1m0 0h1m0 0h1m0 0h1m1 0h1m0 0h1m0 0h1m0 0h1m0 0h1m0 0h1m0 0h1m0 0h1m0 0h1m0 0h1m0 0h1m1 0h1m0 0h1m0 0h1m0 0h1m2 0h1m4 0h1m-66 1h1m0 0h1m0 0h1m4 0h1m0 0h1m0 0h1m2 0h1m2 0h1m0 0h1m0 0h1m1 0h1m2 0h1m1 0h1m1 0h1m0 0h1m0 0h1m1 0h1m0 0h1m0 0h1m0 0h1m0 0h1m0 0h1m0 0h1m0 0h1m0 0h1m0 0h1m0 0h1m0 0h1m0 0h1m0 0h1m0 0h1m0 0h1m0 0h1m0 0h1m0 0h1m0 0h1m0 0h1m1 0h1m0 0h1m0 0h1m0 0h1m1 0h1m0 0h1m1 0h1m3 0h1m-62 1h1m1 0h1m0 0h1m0 0h1m0 0h1m0 0h1m1 0h1m1 0h1m0 0h1m0 0h1m0 0h1m0 0h1m1 0h1m0 0h1m0 0h1m0 0h1m1 0h1m0 0h1m1 0h1m0 0h1m0 0h1m0 0h1m0 0h1m1 0h1m0 0h1m0 0h1m0 0h1m0 0h1m0 0h1m0 0h1m0 0h1m0 0h1m0 0h1m0 0h1m0 0h1m0 0h1m0 0h1m0 0h1m0 0h1m0 0h1m0 0h1m0 0h1m0 0h1m0 0h1m0 0h1m2 0h1m2 0h1m-73 1h1m4 0h1m7 0h1m3 0h1m0 0h1m1 0h1m0 0h1m0 0h1m0 0h1m0 0h1m0 0h1m0 0h1m0 0h1m0 0h1m0 0h1m0 0h1m0 0h1m0 0h1m0 0h1m1 0h1m0 0h1m1 0h1m0 0h1m0 0h1m0 0h1m0 0h1m0 0h1m0 0h1m0 0h1m0 0h1m0 0h1m1 0h1m0 0h1m0 0h1m0 0h1m0 0h1m0 0h1m0 0h1m0 0h1m0 0h1m0 0h1m0 0h1m0 0h1m0 0h1m0 0h1m0 0h1m0 0h1m0 0h1m1 0h1m-55 1h1m0 0h1m0 0h1m0 0h1m1 0h1m0 0h1m0 0h1m1 0h1m0 0h1m0 0h1m1 0h1m4 0h1m1 0h1m0 0h1m0 0h1m0 0h1m0 0h1m1 0h1m0 0h1m0 0h1m0 0h1m0 0h1m0 0h1m0 0h1m0 0h1m0 0h1m0 0h1m0 0h1m0 0h1m0 0h1m0 0h1m0 0h1m0 0h1m0 0h1m0 0h1m0 0h1m0 0h1m0 0h1m0 0h1m0 0h1m1 0h1m1 0h1m-53 1h1m1 0h1m1 0h1m0 0h1m1 0h1m0 0h1m0 0h1m1 0h1m0 0h1m0 0h1m0 0h1m0 0h1m0 0h1m2 0h1m0 0h1m0 0h1m0 0h1m1 0h1m0 0h1m0 0h1m0 0h1m1 0h1m0 0h1m0 0h1m0 0h1m0 0h1m0 0h1m0 0h1m0 0h1m0 0h1m0 0h1m0 0h1m0 0h1m0 0h1m0 0h1m0 0h1m0 0h1m1 0h1m0 0h1m1 0h1m0 0h1m2 0h1m1 0h1m2 0h1m-61 1h1m2 0h1m1 0h1m1 0h1m0 0h1m0 0h1m0 0h1m0 0h1m0 0h1m0 0h1m2 0h1m2 0h1m0 0h1m1 0h1m0 0h1m0 0h1m0 0h1m1 0h1m0 0h1m0 0h1m0 0h1m0 0h1m0 0h1m0 0h1m0 0h1m0 0h1m0 0h1m0 0h1m0 0h1m0 0h1m0 0h1m0 0h1m0 0h1m0 0h1m0 0h1m0 0h1m0 0h1m0 0h1m0 0h1m0 0h1m0 0h1m0 0h1m0 0h1m0 0h1m0 0h1m0 0h1m5 0h1m0 0h1m-69 1h1m7 0h1m0 0h1m3 0h1m2 0h1m0 0h1m0 0h1m0 0h1m0 0h1m1 0h1m0 0h1m2 0h1m0 0h1m0 0h1m0 0h1m0 0h1m0 0h1m0 0h1m0 0h1m0 0h1m0 0h1m0 0h1m0 0h1m0 0h1m0 0h1m0 0h1m0 0h1m0 0h1m0 0h1m0 0h1m0 0h1m0 0h1m0 0h1m0 0h1m0 0h1m0 0h1m0 0h1m0 0h1m0 0h1m0 0h1m0 0h1m0 0h1m0 0h1m0 0h1m0 0h1m3 0h1m4 0h1m1 0h1m-66 1h1m8 0h1m0 0h1m2 0h1m1 0h1m1 0h1m0 0h1m0 0h1m0 0h1m2 0h1m0 0h1m0 0h1m0 0h1m0 0h1m0 0h1m0 0h1m0 0h1m0 0h1m0 0h1m0 0h1m0 0h1m0 0h1m0 0h1m0 0h1m0 0h1m0 0h1m0 0h1m0 0h1m0 0h1m0 0h1m0 0h1m0 0h1m0 0h1m0 0h1m1 0h1m0 0h1m0 0h1m1 0h1m0 0h1m1 0h1m0 0h1m5 0h1m-62 1h1m4 0h1m1 0h1m4 0h1m7 0h1m0 0h1m0 0h1m0 0h1m0 0h1m1 0h1m0 0h1m0 0h1m0 0h1m0 0h1m0 0h1m0 0h1m0 0h1m0 0h1m0 0h1m0 0h1m0 0h1m0 0h1m0 0h1m0 0h1m0 0h1m0 0h1m0 0h1m0 0h1m0 0h1m0 0h1m0 0h1m1 0h1m0 0h1m0 0h1m1 0h1m0 0h1m2 0h1m-67 1h1m2 0h1m17 0h1m2 0h1m0 0h1m0 0h1m1 0h1m0 0h1m0 0h1m0 0h1m0 0h1m0 0h1m0 0h1m0 0h1m0 0h1m0 0h1m0 0h1m0 0h1m0 0h1m0 0h1m0 0h1m0 0h1m0 0h1m0 0h1m0 0h1m0 0h1m0 0h1m0 0h1m0 0h1m0 0h1m0 0h1m0 0h1m0 0h1m0 0h1m0 0h1m0 0h1m0 0h1m1 0h1m1 0h1m0 0h1m1 0h1m-58 1h1m13 0h1m0 0h1m0 0h1m1 0h1m0 0h1m0 0h1m0 0h1m0 0h1m0 0h1m0 0h1m0 0h1m0 0h1m0 0h1m0 0h1m0 0h1m0 0h1m0 0h1m0 0h1m0 0h1m0 0h1m0 0h1m0 0h1m0 0h1m0 0h1m0 0h1m0 0h1m0 0h1m0 0h1m0 0h1m0 0h1m1 0h1m1 0h1m2 0h1m1 0h1m-77 1h1m33 0h1m5 0h1m0 0h1m0 0h1m0 0h1m1 0h1m0 0h1m0 0h1m0 0h1m0 0h1m0 0h1m0 0h1m0 0h1m0 0h1m0 0h1m0 0h1m0 0h1m0 0h1m0 0h1m0 0h1m0 0h1m0 0h1m0 0h1m0 0h1m0 0h1m0 0h1m1 0h1m0 0h1m0 0h1m0 0h1m0 0h1m0 0h1m2 0h1m-55 1h1m5 0h1m1 0h1m4 0h1m3 0h1m0 0h1m1 0h1m0 0h1m1 0h1m0 0h1m0 0h1m0 0h1m1 0h1m0 0h1m0 0h1m0 0h1m0 0h1m0 0h1m0 0h1m0 0h1m0 0h1m0 0h1m0 0h1m0 0h1m0 0h1m0 0h1m0 0h1m0 0h1m0 0h1m0 0h1m0 0h1m0 0h1m0 0h1m0 0h1m0 0h1m2 0h1m10 0h1m-58 1h1m7 0h1m2 0h1m0 0h1m0 0h1m0 0h1m0 0h1m0 0h1m0 0h1m0 0h1m0 0h1m0 0h1m0 0h1m0 0h1m0 0h1m0 0h1m0 0h1m0 0h1m0 0h1m0 0h1m0 0h1m0 0h1m0 0h1m0 0h1m0 0h1m0 0h1m0 0h1m0 0h1m2 0h1m0 0h1m0 0h1m0 0h1m1 0h1m1 0h1m4 0h1m-59 1h1m5 0h1m0 0h1m0 0h1m2 0h1m1 0h1m0 0h1m1 0h1m2 0h1m1 0h1m1 0h1m0 0h1m0 0h1m0 0h1m0 0h1m0 0h1m0 0h1m0 0h1m0 0h1m0 0h1m0 0h1m1 0h1m0 0h1m0 0h1m0 0h1m0 0h1m0 0h1m0 0h1m0 0h1m1 0h1m2 0h1m0 0h1m0 0h1m2 0h1m4 0h1m-81 1h1m31 0h1m0 0h1m0 0h1m0 0h1m2 0h1m3 0h1m0 0h1m0 0h1m0 0h1m0 0h1m0 0h1m0 0h1m0 0h1m0 0h1m0 0h1m0 0h1m0 0h1m0 0h1m0 0h1m0 0h1m0 0h1m0 0h1m0 0h1m0 0h1m0 0h1m0 0h1m0 0h1m0 0h1m1 0h1m0 0h1m0 0h1m1 0h1m2 0h1m1 0h1m3 0h1m11 0h1m3 0h1m-71 1h1m0 0h1m1 0h1m3 0h1m2 0h1m1 0h1m3 0h1m0 0h1m0 0h1m1 0h1m1 0h1m0 0h1m0 0h1m0 0h1m0 0h1m0 0h1m0 0h1m0 0h1m0 0h1m0 0h1m0 0h1m0 0h1m0 0h1m0 0h1m1 0h1m0 0h1m0 0h1m0 0h1m1 0h1m2 0h1m0 0h1m4 0h1m-49 1h1m0 0h1m2 0h1m0 0h1m0 0h1m0 0h1m0 0h1m0 0h1m0 0h1m1 0h1m0 0h1m1 0h1m0 0h1m0 0h1m0 0h1m0 0h1m0 0h1m0 0h1m0 0h1m0 0h1m0 0h1m1 0h1m0 0h1m0 0h1m0 0h1m0 0h1m1 0h1m0 0h1m0 0h1m0 0h1m0 0h1m0 0h1m0 0h1m0 0h1m2 0h1m0 0h1m6 0h1m-60 1h1m2 0h1m5 0h1m1 0h1m3 0h1m0 0h1m0 0h1m1 0h1m0 0h1m2 0h1m0 0h1m0 0h1m0 0h1m0 0h1m1 0h1m0 0h1m0 0h1m0 0h1m0 0h1m0 0h1m0 0h1m0 0h1m0 0h1m0 0h1m0 0h1m0 0h1m0 0h1m0 0h1m3 0h1m0 0h1m0 0h1m1 0h1m5 0h1m-60 1h1m4 0h1m1 0h1m3 0h1m1 0h1m0 0h1m0 0h1m2 0h1m0 0h1m0 0h1m0 0h1m0 0h1m0 0h1m0 0h1m1 0h1m0 0h1m0 0h1m0 0h1m1 0h1m0 0h1m2 0h1m0 0h1m0 0h1m2 0h1m3 0h1m0 0h1m1 0h1m5 0h1m0 0h1m20 0h1m-77 1h1m0 0h1m1 0h1m6 0h1m0 0h1m2 0h1m1 0h1m1 0h1m0 0h1m0 0h1m0 0h1m0 0h1m0 0h1m1 0h1m0 0h1m0 0h1m0 0h1m0 0h1m1 0h1m0 0h1m0 0h1m0 0h1m0 0h1m1 0h1m0 0h1m0 0h1m0 0h1m0 0h1m0 0h1m0 0h1m1 0h1m2 0h1m9 0h1m-60 1h1m1 0h1m3 0h1m4 0h1m1 0h1m0 0h1m0 0h1m2 0h1m1 0h1m0 0h1m0 0h1m0 0h1m0 0h1m0 0h1m2 0h1m0 0h1m0 0h1m0 0h1m1 0h1m0 0h1m0 0h1m0 0h1m0 0h1m0 0h1m0 0h1m0 0h1m2 0h1m2 0h1m0 0h1m0 0h1m11 0h1m-61 1h1m4 0h1m2 0h1m2 0h1m0 0h1m0 0h1m0 0h1m0 0h1m0 0h1m1 0h1m0 0h1m0 0h1m1 0h1m0 0h1m0 0h1m0 0h1m0 0h1m0 0h1m0 0h1m0 0h1m0 0h1m1 0h1m0 0h1m0 0h1m0 0h1m0 0h1m2 0h1m0 0h1m0 0h1m0 0h1m1 0h1m0 0h1m1 0h1m5 0h1m8 0h1m6 0h1m-74 1h1m0 0h1m2 0h1m5 0h1m5 0h1m0 0h1m0 0h1m0 0h1m0 0h1m0 0h1m0 0h1m0 0h1m0 0h1m2 0h1m0 0h1m0 0h1m0 0h1m0 0h1m0 0h1m1 0h1m1 0h1m3 0h1m3 0h1m0 0h1m4 0h1m2 0h1m8 0h1m33 0h1m-95 1h1m7 0h1m1 0h1m2 0h1m0 0h1m0 0h1m0 0h1m0 0h1m0 0h1m0 0h1m0 0h1m0 0h1m0 0h1m0 0h1m1 0h1m0 0h1m1 0h1m0 0h1m0 0h1m0 0h1m0 0h1m3 0h1m1 0h1m0 0h1m2 0h1m0 0h1m0 0h1m13 0h1m-60 1h1m3 0h1m0 0h1m0 0h1m2 0h1m0 0h1m1 0h1m0 0h1m0 0h1m1 0h1m0 0h1m0 0h1m2 0h1m0 0h1m0 0h1m0 0h1m3 0h1m1 0h1m0 0h1m0 0h1m0 0h1m0 0h1m0 0h1m0 0h1m4 0h1m0 0h1m1 0h1m1 0h1m4 0h1m0 0h1m-65 1h1m8 0h1m5 0h1m2 0h1m1 0h1m1 0h1m0 0h1m0 0h1m0 0h1m0 0h1m0 0h1m0 0h1m1 0h1m0 0h1m0 0h1m0 0h1m0 0h1m0 0h1m0 0h1m0 0h1m0 0h1m0 0h1m1 0h1m1 0h1m0 0h1m0 0h1m1 0h1m0 0h1m4 0h1m0 0h1m6 0h1m0 0h1m0 0h1m16 0h1m-67 1h1m2 0h1m0 0h1m0 0h1m2 0h1m0 0h1m0 0h1m0 0h1m0 0h1m0 0h1m0 0h1m0 0h1m0 0h1m0 0h1m0 0h1m0 0h1m0 0h1m0 0h1m1 0h1m0 0h1m0 0h1m0 0h1m0 0h1m0 0h1m0 0h1m0 0h1m0 0h1m0 0h1m0 0h1m0 0h1m0 0h1m1 0h1m4 0h1m2 0h1m9 0h1m-70 1h1m9 0h1m2 0h1m0 0h1m3 0h1m0 0h1m0 0h1m0 0h1m0 0h1m0 0h1m0 0h1m0 0h1m0 0h1m1 0h1m0 0h1m0 0h1m0 0h1m0 0h1m2 0h1m0 0h1m0 0h1m0 0h1m0 0h1m0 0h1m1 0h1m0 0h1m1 0h1m0 0h1m0 0h1m0 0h1m0 0h1m0 0h1m2 0h1m25 0h1m-71 1h1m0 0h1m0 0h1m0 0h1m2 0h1m0 0h1m0 0h1m0 0h1m1 0h1m1 0h1m0 0h1m0 0h1m0 0h1m0 0h1m0 0h1m0 0h1m0 0h1m0 0h1m0 0h1m0 0h1m1 0h1m0 0h1m0 0h1m0 0h1m0 0h1m0 0h1m0 0h1m0 0h1m0 0h1m0 0h1m0 0h1m1 0h1m1 0h1m1 0h1m0 0h1m1 0h1m8 0h1m-63 1h1m0 0h1m10 0h1m0 0h1m1 0h1m2 0h1m0 0h1m0 0h1m0 0h1m0 0h1m0 0h1m0 0h1m0 0h1m0 0h1m0 0h1m0 0h1m0 0h1m0 0h1m0 0h1m0 0h1m0 0h1m0 0h1m1 0h1m0 0h1m0 0h1m0 0h1m0 0h1m0 0h1m0 0h1m0 0h1m0 0h1m2 0h1m1 0h1m0 0h1m-45 1h1m1 0h1m1 0h1m0 0h1m2 0h1m2 0h1m1 0h1m1 0h1m0 0h1m0 0h1m0 0h1m0 0h1m0 0h1m0 0h1m0 0h1m0 0h1m0 0h1m0 0h1m0 0h1m0 0h1m0 0h1m0 0h1m0 0h1m0 0h1m0 0h1m0 0h1m0 0h1m0 0h1m0 0h1m0 0h1m0 0h1m0 0h1m0 0h1m0 0h1m1 0h1m0 0h1m1 0h1m0 0h1m2 0h1m10 0h1m-60 1h1m0 0h1m4 0h1m0 0h1m1 0h1m1 0h1m0 0h1m1 0h1m0 0h1m0 0h1m0 0h1m0 0h1m0 0h1m0 0h1m1 0h1m0 0h1m0 0h1m0 0h1m0 0h1m0 0h1m1 0h1m0 0h1m0 0h1m0 0h1m0 0h1m0 0h1m0 0h1m0 0h1m0 0h1m2 0h1m0 0h1m25 0h1m4 0h1m18 0h1m-100 1h1m5 0h1m0 0h1m2 0h1m3 0h1m0 0h1m1 0h1m0 0h1m0 0h1m1 0h1m0 0h1m0 0h1m0 0h1m0 0h1m0 0h1m0 0h1m0 0h1m0 0h1m0 0h1m0 0h1m0 0h1m0 0h1m0 0h1m0 0h1m0 0h1m0 0h1m0 0h1m0 0h1m0 0h1m0 0h1m0 0h1m0 0h1m0 0h1m1 0h1m2 0h1m1 0h1m0 0h1m0 0h1m5 0h1m31 0h1m-86 1h1m0 0h1m3 0h1m0 0h1m0 0h1m0 0h1m0 0h1m0 0h1m0 0h1m0 0h1m1 0h1m0 0h1m0 0h1m0 0h1m0 0h1m0 0h1m0 0h1m0 0h1m0 0h1m0 0h1m1 0h1m0 0h1m0 0h1m0 0h1m0 0h1m0 0h1m0 0h1m0 0h1m0 0h1m0 0h1m0 0h1m0 0h1m0 0h1m0 0h1m0 0h1m0 0h1m0 0h1m1 0h1m16 0h1m9 0h1m7 0h1m-84 1h1m4 0h1m2 0h1m0 0h1m1 0h1m0 0h1m0 0h1m1 0h1m0 0h1m0 0h1m0 0h1m0 0h1m0 0h1m0 0h1m0 0h1m0 0h1m0 0h1m0 0h1m0 0h1m0 0h1m0 0h1m0 0h1m0 0h1m0 0h1m0 0h1m0 0h1m0 0h1m0 0h1m0 0h1m0 0h1m0 0h1m0 0h1m0 0h1m1 0h1m0 0h1m0 0h1m2 0h1m0 0h1m-50 1h1m1 0h1m2 0h1m0 0h1m2 0h1m1 0h1m1 0h1m0 0h1m1 0h1m0 0h1m0 0h1m0 0h1m0 0h1m0 0h1m0 0h1m0 0h1m1 0h1m0 0h1m0 0h1m0 0h1m0 0h1m0 0h1m0 0h1m0 0h1m0 0h1m0 0h1m0 0h1m0 0h1m0 0h1m2 0h1m0 0h1m0 0h1m0 0h1m0 0h1m1 0h1m1 0h1m3 0h1m0 0h1m0 0h1m8 0h1m-64 1h1m4 0h1m5 0h1m1 0h1m0 0h1m0 0h1m0 0h1m0 0h1m0 0h1m0 0h1m0 0h1m0 0h1m0 0h1m0 0h1m0 0h1m0 0h1m0 0h1m0 0h1m0 0h1m0 0h1m0 0h1m0 0h1m0 0h1m0 0h1m0 0h1m0 0h1m0 0h1m1 0h1m0 0h1m0 0h1m0 0h1m0 0h1m0 0h1m1 0h1m2 0h1m0 0h1m1 0h1m3 0h1m1 0h1m17 0h1m-70 1h1m1 0h1m1 0h1m0 0h1m0 0h1m0 0h1m0 0h1m0 0h1m0 0h1m0 0h1m0 0h1m0 0h1m0 0h1m0 0h1m0 0h1m0 0h1m0 0h1m0 0h1m0 0h1m0 0h1m0 0h1m0 0h1m0 0h1m0 0h1m0 0h1m0 0h1m0 0h1m0 0h1m0 0h1m0 0h1m0 0h1m0 0h1m0 0h1m0 0h1m0 0h1m0 0h1m0 0h1m4 0h1m0 0h1m4 0h1m-56 1h1m4 0h1m0 0h1m0 0h1m0 0h1m1 0h1m0 0h1m0 0h1m0 0h1m0 0h1m0 0h1m0 0h1m0 0h1m0 0h1m0 0h1m0 0h1m0 0h1m0 0h1m0 0h1m0 0h1m0 0h1m0 0h1m0 0h1m0 0h1m0 0h1m0 0h1m0 0h1m0 0h1m0 0h1m0 0h1m1 0h1m0 0h1m1 0h1m0 0h1m0 0h1m0 0h1m1 0h1m1 0h1m0 0h1m-48 1h1m3 0h1m0 0h1m1 0h1m1 0h1m0 0h1m0 0h1m0 0h1m0 0h1m0 0h1m0 0h1m0 0h1m0 0h1m0 0h1m0 0h1m0 0h1m0 0h1m0 0h1m0 0h1m0 0h1m0 0h1m0 0h1m0 0h1m0 0h1m0 0h1m0 0h1m0 0h1m0 0h1m3 0h1m0 0h1m0 0h1m1 0h1m0 0h1m1 0h1m0 0h1m1 0h1m1 0h1m-49 1h1m1 0h1m2 0h1m2 0h1m0 0h1m0 0h1m0 0h1m0 0h1m0 0h1m0 0h1m0 0h1m0 0h1m0 0h1m0 0h1m0 0h1m0 0h1m0 0h1m0 0h1m0 0h1m0 0h1m0 0h1m0 0h1m0 0h1m1 0h1m0 0h1m0 0h1m0 0h1m0 0h1m0 0h1m0 0h1m0 0h1m0 0h1m0 0h1m0 0h1m2 0h1m2 0h1m-46 1h1m2 0h1m2 0h1m0 0h1m0 0h1m0 0h1m0 0h1m0 0h1m0 0h1m0 0h1m0 0h1m0 0h1m0 0h1m0 0h1m0 0h1m0 0h1m0 0h1m0 0h1m0 0h1m0 0h1m0 0h1m0 0h1m0 0h1m0 0h1m0 0h1m0 0h1m0 0h1m0 0h1m0 0h1m0 0h1m1 0h1m1 0h1m0 0h1m1 0h1m2 0h1m1 0h1m3 0h1m-50 1h1m1 0h1m2 0h1m0 0h1m0 0h1m0 0h1m1 0h1m0 0h1m0 0h1m0 0h1m0 0h1m0 0h1m0 0h1m0 0h1m0 0h1m0 0h1m0 0h1m0 0h1m0 0h1m0 0h1m0 0h1m0 0h1m0 0h1m0 0h1m0 0h1m0 0h1m0 0h1m0 0h1m0 0h1m0 0h1m0 0h1m0 0h1m0 0h1m0 0h1m0 0h1m2 0h1m4 0h1m2 0h1m20 0h1m-71 1h1m0 0h1m2 0h1m0 0h1m0 0h1m1 0h1m0 0h1m0 0h1m0 0h1m0 0h1m0 0h1m0 0h1m0 0h1m0 0h1m0 0h1m0 0h1m1 0h1m0 0h1m0 0h1m0 0h1m0 0h1m0 0h1m0 0h1m0 0h1m0 0h1m0 0h1m0 0h1m0 0h1m0 0h1m0 0h1m0 0h1m0 0h1m4 0h1m1 0h1m0 0h1m3 0h1m0 0h1m4 0h1m0 0h1m3 0h1m0 0h1m20 0h1m-81 1h1m0 0h1m1 0h1m1 0h1m0 0h1m1 0h1m0 0h1m0 0h1m0 0h1m0 0h1m0 0h1m0 0h1m0 0h1m0 0h1m0 0h1m0 0h1m0 0h1m0 0h1m0 0h1m0 0h1m0 0h1m0 0h1m0 0h1m0 0h1m0 0h1m0 0h1m0 0h1m0 0h1m0 0h1m0 0h1m0 0h1m0 0h1m0 0h1m0 0h1m0 0h1m0 0h1m0 0h1m1 0h1m2 0h1m5 0h1m-51 1h1m2 0h1m0 0h1m0 0h1m0 0h1m0 0h1m0 0h1m0 0h1m0 0h1m0 0h1m0 0h1m0 0h1m0 0h1m0 0h1m0 0h1m0 0h1m1 0h1m0 0h1m0 0h1m0 0h1m0 0h1m0 0h1m0 0h1m0 0h1m0 0h1m0 0h1m0 0h1m1 0h1m0 0h1m0 0h1m0 0h1m1 0h1m0 0h1m0 0h1m0 0h1m7 0h1m8 0h1m-57 1h1m0 0h1m0 0h1m0 0h1m1 0h1m0 0h1m0 0h1m1 0h1m0 0h1m0 0h1m0 0h1m0 0h1m0 0h1m0 0h1m0 0h1m0 0h1m0 0h1m0 0h1m0 0h1m0 0h1m0 0h1m0 0h1m0 0h1m0 0h1m0 0h1m0 0h1m0 0h1m0 0h1m0 0h1m0 0h1m0 0h1m0 0h1m0 0h1m0 0h1m0 0h1m3 0h1m0 0h1m0 0h1m5 0h1m1 0h1m-51 1h1m0 0h1m0 0h1m1 0h1m0 0h1m0 0h1m0 0h1m0 0h1m0 0h1m0 0h1m0 0h1m0 0h1m0 0h1m0 0h1m0 0h1m0 0h1m0 0h1m0 0h1m0 0h1m0 0h1m0 0h1m0 0h1m0 0h1m0 0h1m0 0h1m0 0h1m0 0h1m0 0h1m0 0h1m0 0h1m0 0h1m0 0h1m0 0h1m1 0h1m4 0h1m4 0h1m6 0h1m11 0h1m-65 1h1m1 0h1m0 0h1m1 0h1m0 0h1m0 0h1m0 0h1m0 0h1m0 0h1m0 0h1m0 0h1m0 0h1m0 0h1m0 0h1m0 0h1m0 0h1m0 0h1m0 0h1m0 0h1m0 0h1m0 0h1m0 0h1m0 0h1m0 0h1m0 0h1m0 0h1m0 0h1m0 0h1m2 0h1m0 0h1m1 0h1m0 0h1m9 0h1m35 0h1m-83 1h1m2 0h1m0 0h1m0 0h1m0 0h1m0 0h1m0 0h1m0 0h1m0 0h1m0 0h1m0 0h1m0 0h1m0 0h1m0 0h1m0 0h1m0 0h1m0 0h1m0 0h1m0 0h1m0 0h1m0 0h1m0 0h1m0 0h1m0 0h1m0 0h1m0 0h1m0 0h1m0 0h1m0 0h1m0 0h1m0 0h1m0 0h1m0 0h1m0 0h1m0 0h1m1 0h1m26 0h1m-66 1h1m0 0h1m0 0h1m0 0h1m0 0h1m0 0h1m1 0h1m0 0h1m0 0h1m0 0h1m0 0h1m0 0h1m0 0h1m0 0h1m0 0h1m0 0h1m0 0h1m0 0h1m0 0h1m0 0h1m0 0h1m0 0h1m0 0h1m0 0h1m0 0h1m0 0h1m1 0h1m0 0h1m1 0h1m0 0h1m1 0h1m0 0h1m0 0h1m3 0h1m0 0h1m3 0h1m2 0h1m1 0h1m1 0h1m6 0h1m-60 1h1m1 0h1m0 0h1m1 0h1m0 0h1m0 0h1m0 0h1m0 0h1m0 0h1m0 0h1m0 0h1m0 0h1m0 0h1m0 0h1m0 0h1m0 0h1m0 0h1m0 0h1m0 0h1m0 0h1m0 0h1m0 0h1m0 0h1m0 0h1m0 0h1m0 0h1m0 0h1m0 0h1m0 0h1m0 0h1m0 0h1m0 0h1m2 0h1m29 0h1m-67 1h1m0 0h1m0 0h1m0 0h1m0 0h1m0 0h1m0 0h1m0 0h1m0 0h1m0 0h1m0 0h1m0 0h1m0 0h1m0 0h1m0 0h1m0 0h1m0 0h1m0 0h1m0 0h1m0 0h1m0 0h1m0 0h1m0 0h1m0 0h1m0 0h1m0 0h1m0 0h1m0 0h1m0 0h1m0 0h1m0 0h1m0 0h1m0 0h1m0 0h1m1 0h1m0 0h1m1 0h1m0 0h1m0 0h1m5 0h1m-47 1h1m1 0h1m0 0h1m0 0h1m0 0h1m0 0h1m1 0h1m0 0h1m0 0h1m0 0h1m0 0h1m0 0h1m0 0h1m0 0h1m0 0h1m0 0h1m0 0h1m0 0h1m0 0h1m0 0h1m0 0h1m0 0h1m0 0h1m0 0h1m0 0h1m0 0h1m0 0h1m0 0h1m0 0h1m0 0h1m0 0h1m0 0h1m1 0h1m27 0h1m-64 1h1m1 0h1m0 0h1m1 0h1m1 0h1m0 0h1m0 0h1m0 0h1m0 0h1m0 0h1m0 0h1m0 0h1m0 0h1m0 0h1m0 0h1m0 0h1m0 0h1m0 0h1m0 0h1m0 0h1m0 0h1m0 0h1m1 0h1m0 0h1m2 0h1m0 0h1m11 0h1m-44 1h1m0 0h1m0 0h1m1 0h1m0 0h1m0 0h1m0 0h1m0 0h1m0 0h1m0 0h1m0 0h1m0 0h1m1 0h1m0 0h1m0 0h1m0 0h1m0 0h1m0 0h1m0 0h1m0 0h1m0 0h1m0 0h1m0 0h1m1 0h1m0 0h1m0 0h1m0 0h1m1 0h1m0 0h1m0 0h1m2 0h1m0 0h1m1 0h1m0 0h1m0 0h1m5 0h1m-48 1h1m0 0h1m0 0h1m0 0h1m0 0h1m0 0h1m0 0h1m0 0h1m0 0h1m0 0h1m0 0h1m0 0h1m0 0h1m0 0h1m0 0h1m0 0h1m0 0h1m0 0h1m0 0h1m0 0h1m0 0h1m0 0h1m0 0h1m0 0h1m0 0h1m0 0h1m0 0h1m0 0h1m0 0h1m0 0h1m0 0h1m0 0h1m0 0h1m0 0h1m0 0h1m2 0h1m38 0h1m-77 1h1m0 0h1m0 0h1m0 0h1m0 0h1m0 0h1m0 0h1m0 0h1m0 0h1m0 0h1m0 0h1m0 0h1m0 0h1m0 0h1m0 0h1m0 0h1m0 0h1m0 0h1m0 0h1m0 0h1m0 0h1m0 0h1m0 0h1m0 0h1m0 0h1m0 0h1m0 0h1m0 0h1m0 0h1m0 0h1m1 0h1m0 0h1m0 0h1m0 0h1m1 0h1m-37 1h1m0 0h1m0 0h1m0 0h1m0 0h1m0 0h1m0 0h1m0 0h1m0 0h1m1 0h1m0 0h1m0 0h1m0 0h1m0 0h1m0 0h1m0 0h1m0 0h1m0 0h1m0 0h1m0 0h1m0 0h1m0 0h1m0 0h1m0 0h1m0 0h1m0 0h1m0 0h1m0 0h1m0 0h1m0 0h1m0 0h1m33 0h1m-66 1h1m0 0h1m0 0h1m0 0h1m0 0h1m0 0h1m0 0h1m0 0h1m0 0h1m0 0h1m0 0h1m0 0h1m0 0h1m0 0h1m0 0h1m0 0h1m0 0h1m0 0h1m0 0h1m0 0h1m0 0h1m0 0h1m0 0h1m0 0h1m0 0h1m1 0h1m0 0h1m0 0h1m2 0h1m0 0h1m0 0h1m4 0h1m-39 1h1m0 0h1m0 0h1m0 0h1m0 0h1m0 0h1m0 0h1m0 0h1m0 0h1m0 0h1m0 0h1m0 0h1m0 0h1m0 0h1m0 0h1m0 0h1m0 0h1m0 0h1m0 0h1m0 0h1m0 0h1m1 0h1m0 0h1m0 0h1m0 0h1m0 0h1m2 0h1m0 0h1m2 0h1m-34 1h1m0 0h1m0 0h1m0 0h1m0 0h1m0 0h1m0 0h1m0 0h1m0 0h1m0 0h1m0 0h1m0 0h1m0 0h1m0 0h1m0 0h1m0 0h1m0 0h1m0 0h1m0 0h1m0 0h1m0 0h1m0 0h1m0 0h1m1 0h1m2 0h1m1 0h1m0 0h1m0 0h1m7 0h1m-40 1h1m0 0h1m0 0h1m1 0h1m0 0h1m0 0h1m0 0h1m0 0h1m0 0h1m0 0h1m0 0h1m1 0h1m0 0h1m0 0h1m0 0h1m0 0h1m0 0h1m0 0h1m0 0h1m0 0h1m0 0h1m0 0h1m1 0h1m1 0h1m7 0h1m-36 1h1m0 0h1m0 0h1m0 0h1m0 0h1m0 0h1m0 0h1m0 0h1m0 0h1m0 0h1m0 0h1m0 0h1m0 0h1m0 0h1m0 0h1m0 0h1m0 0h1m0 0h1m0 0h1m0 0h1m0 0h1m0 0h1m0 0h1m0 0h1m0 0h1m0 0h1m0 0h1m1 0h1m1 0h1m0 0h1m7 0h1m5 0h1m-46 1h1m0 0h1m0 0h1m0 0h1m0 0h1m0 0h1m0 0h1m0 0h1m0 0h1m0 0h1m0 0h1m0 0h1m0 0h1m0 0h1m0 0h1m0 0h1m0 0h1m0 0h1m0 0h1m0 0h1m0 0h1m0 0h1m0 0h1m0 0h1m4 0h1m0 0h1m4 0h1m-35 1h1m0 0h1m1 0h1m0 0h1m0 0h1m0 0h1m0 0h1m0 0h1m0 0h1m0 0h1m0 0h1m0 0h1m0 0h1m0 0h1m0 0h1m0 0h1m0 0h1m1 0h1m0 0h1m0 0h1m0 0h1m0 0h1m2 0h1m4 0h1m9 0h1m-42 1h1m0 0h1m0 0h1m0 0h1m0 0h1m0 0h1m0 0h1m0 0h1m0 0h1m0 0h1m0 0h1m0 0h1m0 0h1m0 0h1m0 0h1m0 0h1m0 0h1m0 0h1m0 0h1m0 0h1m0 0h1m0 0h1m0 0h1m0 0h1m1 0h1m1 0h1m-28 1h1m0 0h1m0 0h1m0 0h1m0 0h1m0 0h1m0 0h1m0 0h1m0 0h1m0 0h1m0 0h1m0 0h1m0 0h1m1 0h1m0 0h1m0 0h1m0 0h1m0 0h1m1 0h1m0 0h1m0 0h1m0 0h1m0 0h1m1 0h1m0 0h1m0 0h1m1 0h1m-31 1h1m0 0h1m0 0h1m0 0h1m0 0h1m0 0h1m0 0h1m0 0h1m0 0h1m0 0h1m0 0h1m0 0h1m0 0h1m0 0h1m0 0h1m0 0h1m0 0h1m0 0h1m0 0h1m1 0h1m0 0h1m0 0h1m3 0h1m2 0h1m-30 1h1m0 0h1m0 0h1m0 0h1m0 0h1m0 0h1m0 0h1m0 0h1m0 0h1m0 0h1m0 0h1m0 0h1m0 0h1m0 0h1m0 0h1m0 0h1m0 0h1m0 0h1m0 0h1m0 0h1m0 0h1m0 0h1m1 0h1m0 0h1m0 0h1m0 0h1m0 0h1m0 0h1m7 0h1m12 0h1m-50 1h1m0 0h1m1 0h1m0 0h1m0 0h1m0 0h1m0 0h1m0 0h1m0 0h1m0 0h1m0 0h1m0 0h1m0 0h1m0 0h1m1 0h1m1 0h1m1 0h1m3 0h1m5 0h1m0 0h1m-32 1h1m0 0h1m0 0h1m0 0h1m0 0h1m0 0h1m0 0h1m0 0h1m0 0h1m0 0h1m0 0h1m0 0h1m0 0h1m0 0h1m0 0h1m0 0h1m0 0h1m0 0h1m0 0h1m0 0h1m0 0h1m0 0h1m2 0h1m0 0h1m0 0h1m1 0h1m0 0h1m1 0h1m-32 1h1m0 0h1m0 0h1m0 0h1m0 0h1m0 0h1m0 0h1m0 0h1m0 0h1m0 0h1m0 0h1m0 0h1m0 0h1m0 0h1m0 0h1m0 0h1m0 0h1m0 0h1m0 0h1m0 0h1m4 0h1m2 0h1m-28 1h1m0 0h1m0 0h1m0 0h1m0 0h1m0 0h1m0 0h1m0 0h1m0 0h1m0 0h1m0 0h1m0 0h1m0 0h1m0 0h1m0 0h1m0 0h1m0 0h1m0 0h1m0 0h1m5 0h1m2 0h1m-28 1h1m0 0h1m0 0h1m0 0h1m0 0h1m0 0h1m0 0h1m0 0h1m0 0h1m0 0h1m0 0h1m0 0h1m0 0h1m0 0h1m0 0h1m0 0h1m0 0h1m0 0h1m0 0h1m0 0h1m1 0h1m1 0h1m-24 1h1m0 0h1m0 0h1m0 0h1m0 0h1m0 0h1m0 0h1m0 0h1m0 0h1m0 0h1m0 0h1m0 0h1m0 0h1m0 0h1m0 0h1m0 0h1m0 0h1m1 0h1m0 0h1m7 0h1m2 0h1m-31 1h1m0 0h1m0 0h1m0 0h1m0 0h1m0 0h1m0 0h1m0 0h1m0 0h1m0 0h1m0 0h1m0 0h1m0 0h1m1 0h1m0 0h1m0 0h1m0 0h1m1 0h1m2 0h1m-23 1h1m0 0h1m0 0h1m0 0h1m0 0h1m0 0h1m1 0h1m0 0h1m0 0h1m0 0h1m0 0h1m0 0h1m0 0h1m0 0h1m5 0h1m2 0h1m-24 1h1m0 0h1m0 0h1m0 0h1m0 0h1m0 0h1m0 0h1m0 0h1m0 0h1m0 0h1m0 0h1m0 0h1m0 0h1m0 0h1m0 0h1m0 0h1m0 0h1m0 0h1m0 0h1m0 0h1m1 0h1m0 0h1m1 0h1m0 0h1m0 0h1" stroke="#1e1e1e" stroke-width="1.3" transform="translate(.3 .8)" fill="none"/>
<rect x="212.5" y="27.5" width="123" height="95" fill="none" stroke="#111" stroke-width="1.3"/>
<path d="M212.5 122.5v4M221.8 122.5v2.6M227.2 122.5v2.6M231 122.5v2.6M234 122.5v2.6M236.4 122.5v2.6M238.5 122.5v2.6M240.3 122.5v2.6M241.8 122.5v2.6M243.2 122.5v4M252.5 122.5v2.6M257.9 122.5v2.6M261.8 122.5v2.6M264.7 122.5v2.6M267.2 122.5v2.6M269.2 122.5v2.6M271 122.5v2.6M272.6 122.5v2.6M274 122.5v4M283.3 122.5v2.6M288.7 122.5v2.6M292.5 122.5v2.6M295.5 122.5v2.6M297.9 122.5v2.6M300 122.5v2.6M301.8 122.5v2.6M303.3 122.5v2.6M304.8 122.5v4M314 122.5v2.6M319.4 122.5v2.6M323.3 122.5v2.6M326.2 122.5v2.6M328.7 122.5v2.6M330.7 122.5v2.6M332.5 122.5v2.6M334.1 122.5v2.6M335.5 122.5v4" stroke="#111" stroke-width="1.1" fill="none"/>
<path d="M212.5 122.5h-4M212.5 115.4h-2.6M212.5 111.2h-2.6M212.5 108.2h-2.6M212.5 105.9h-2.6M212.5 104h-2.6M212.5 102.4h-2.6M212.5 101.1h-2.6M212.5 99.8h-2.6M212.5 98.8h-4M212.5 91.6h-2.6M212.5 87.4h-2.6M212.5 84.5h-2.6M212.5 82.1h-2.6M212.5 80.3h-2.6M212.5 78.7h-2.6M212.5 77.3h-2.6M212.5 76.1h-2.6M212.5 75h-4M212.5 67.9h-2.6M212.5 63.7h-2.6M212.5 60.7h-2.6M212.5 58.4h-2.6M212.5 56.5h-2.6M212.5 54.9h-2.6M212.5 53.6h-2.6M212.5 52.3h-2.6M212.5 51.2h-4M212.5 44.1h-2.6M212.5 39.9h-2.6M212.5 37h-2.6M212.5 34.6h-2.6M212.5 32.8h-2.6M212.5 31.2h-2.6M212.5 29.8h-2.6M212.5 28.6h-2.6M212.5 27.5h-4" stroke="#111" stroke-width="1.1" fill="none"/>
<text transform="translate(206.4 137.7) scale(.8 1)" font-size="10.2" class="t">10</text>
<text transform="translate(215 131.4) scale(.95 1)" font-size="9.3">0</text>
<text transform="translate(237.2 137.7) scale(.8 1)" font-size="10.2" class="t">10</text>
<text transform="translate(245.8 131.4) scale(.95 1)" font-size="9.3">1</text>
<text transform="translate(267.9 137.7) scale(.8 1)" font-size="10.2" class="t">10</text>
<text transform="translate(276.5 131.4) scale(.95 1)" font-size="9.3">2</text>
<text transform="translate(298.6 137.7) scale(.8 1)" font-size="10.2" class="t">10</text>
<text transform="translate(307.2 131.4) scale(.95 1)" font-size="9.3">3</text>
<text transform="translate(327.1 137.7) scale(.8 1)" font-size="10.2" class="t">10</text>
<text transform="translate(336.9 131.4) scale(.95 1)" font-size="9.3">4</text>
<text transform="translate(204.6 129.4) rotate(-90) scale(.8 1)" font-size="10.2" class="t">10</text>
<text transform="translate(197.7 120.5) rotate(-90) scale(.95 1)" font-size="9.3">0</text>
<text transform="translate(204.6 105.7) rotate(-90) scale(.8 1)" font-size="10.2" class="t">10</text>
<text transform="translate(197.7 96.8) rotate(-90) scale(.95 1)" font-size="9.3">1</text>
<text transform="translate(204.6 81.9) rotate(-90) scale(.8 1)" font-size="10.2" class="t">10</text>
<text transform="translate(197.7 73) rotate(-90) scale(.95 1)" font-size="9.3">2</text>
<text transform="translate(204.6 58.1) rotate(-90) scale(.8 1)" font-size="10.2" class="t">10</text>
<text transform="translate(197.7 49.2) rotate(-90) scale(.95 1)" font-size="9.3">3</text>
<text transform="translate(204.6 35.4) rotate(-90) scale(.8 1)" font-size="10.2" class="t">10</text>
<text transform="translate(197.7 26.5) rotate(-90) scale(.95 1)" font-size="9.3">4</text>
<path d="M491 28h1m3 0h1m0 0h1m8 0h1m-40 1h1m13 0h1m27 0h1m2 0h1m-23 1h1m-16 1h1m6 0h1m7 0h1m0 0h1m2 0h1m11 0h1m-20 1h1m1 0h1m6 0h1m8 0h1m6 0h1m-31 1h1m1 0h1m2 0h1m1 0h1m7 0h1m0 0h1m7 0h1m-34 1h1m2 0h1m8 0h1m2 0h1m0 0h1m1 0h1m0 0h1m0 0h1m0 0h1m0 0h1m-10 1h1m7 0h1m1 0h1m0 0h1m0 0h1m-32 1h1m7 0h1m3 0h1m0 0h1m6 0h1m1 0h1m2 0h1m5 0h1m0 0h1m0 0h1m1 0h1m1 0h1m0 0h1m0 0h1m-31 1h1m7 0h1m1 0h1m0 0h1m0 0h1m0 0h1m3 0h1m0 0h1m0 0h1m1 0h1m2 0h1m0 0h1m10 0h1m-31 1h1m1 0h1m1 0h1m0 0h1m1 0h1m0 0h1m2 0h1m1 0h1m1 0h1m3 0h1m1 0h1m-34 1h1m2 0h1m0 0h1m4 0h1m1 0h1m1 0h1m1 0h1m1 0h1m0 0h1m0 0h1m1 0h1m0 0h1m0 0h1m0 0h1m2 0h1m4 0h1m-57 1h1m20 0h1m0 0h1m2 0h1m3 0h1m0 0h1m0 0h1m1 0h1m0 0h1m2 0h1m1 0h1m2 0h1m1 0h1m1 0h1m1 0h1m0 0h1m0 0h1m0 0h1m-58 1h1m16 0h1m2 0h1m9 0h1m0 0h1m0 0h1m1 0h1m0 0h1m0 0h1m1 0h1m0 0h1m0 0h1m0 0h1m0 0h1m0 0h1m0 0h1m0 0h1m1 0h1m0 0h1m0 0h1m0 0h1m0 0h1m1 0h1m1 0h1m7 0h1m-67 1h1m9 0h1m10 0h1m9 0h1m0 0h1m4 0h1m0 0h1m0 0h1m0 0h1m1 0h1m0 0h1m0 0h1m0 0h1m0 0h1m0 0h1m0 0h1m0 0h1m0 0h1m0 0h1m1 0h1m0 0h1m0 0h1m1 0h1m3 0h1m2 0h1m-71 1h1m21 0h1m7 0h1m2 0h1m4 0h1m1 0h1m1 0h1m1 0h1m0 0h1m0 0h1m0 0h1m0 0h1m0 0h1m2 0h1m0 0h1m0 0h1m1 0h1m0 0h1m0 0h1m1 0h1m0 0h1m0 0h1m0 0h1m3 0h1m5 0h1m-70 1h1m3 0h1m6 0h1m2 0h1m6 0h1m7 0h1m0 0h1m1 0h1m3 0h1m0 0h1m0 0h1m0 0h1m0 0h1m0 0h1m0 0h1m1 0h1m0 0h1m0 0h1m0 0h1m0 0h1m0 0h1m0 0h1m0 0h1m0 0h1m0 0h1m0 0h1m0 0h1m0 0h1m0 0h1m2 0h1m4 0h1m0 0h1m-72 1h1m7 0h1m1 0h1m0 0h1m8 0h1m12 0h1m2 0h1m0 0h1m1 0h1m0 0h1m0 0h1m1 0h1m0 0h1m0 0h1m0 0h1m0 0h1m0 0h1m0 0h1m0 0h1m1 0h1m0 0h1m0 0h1m0 0h1m0 0h1m0 0h1m0 0h1m1 0h1m1 0h1m2 0h1m0 0h1m2 0h1m0 0h1m-67 1h1m3 0h1m3 0h1m0 0h1m3 0h1m0 0h1m0 0h1m13 0h1m0 0h1m1 0h1m0 0h1m1 0h1m0 0h1m0 0h1m0 0h1m0 0h1m0 0h1m0 0h1m0 0h1m1 0h1m0 0h1m0 0h1m0 0h1m0 0h1m0 0h1m0 0h1m0 0h1m0 0h1m0 0h1m0 0h1m0 0h1m1 0h1m0 0h1m1 0h1m1 0h1m0 0h1m1 0h1m-73 1h1m5 0h1m3 0h1m4 0h1m3 0h1m1 0h1m0 0h1m5 0h1m0 0h1m2 0h1m2 0h1m1 0h1m0 0h1m0 0h1m0 0h1m0 0h1m0 0h1m0 0h1m0 0h1m1 0h1m0 0h1m0 0h1m0 0h1m0 0h1m0 0h1m0 0h1m0 0h1m0 0h1m0 0h1m0 0h1m0 0h1m0 0h1m0 0h1m0 0h1m1 0h1m0 0h1m0 0h1m0 0h1m0 0h1m0 0h1m0 0h1m0 0h1m5 0h1m1 0h1m-81 1h1m2 0h1m1 0h1m4 0h1m3 0h1m3 0h1m3 0h1m2 0h1m11 0h1m0 0h1m2 0h1m0 0h1m0 0h1m0 0h1m0 0h1m0 0h1m0 0h1m0 0h1m0 0h1m0 0h1m0 0h1m0 0h1m1 0h1m0 0h1m0 0h1m0 0h1m1 0h1m0 0h1m1 0h1m0 0h1m0 0h1m0 0h1m0 0h1m0 0h1m0 0h1m0 0h1m1 0h1m3 0h1m-75 1h1m0 0h1m2 0h1m3 0h1m0 0h1m1 0h1m0 0h1m1 0h1m0 0h1m4 0h1m6 0h1m0 0h1m5 0h1m1 0h1m0 0h1m0 0h1m2 0h1m0 0h1m1 0h1m0 0h1m0 0h1m1 0h1m0 0h1m0 0h1m0 0h1m0 0h1m0 0h1m0 0h1m0 0h1m0 0h1m0 0h1m0 0h1m0 0h1m0 0h1m0 0h1m0 0h1m0 0h1m0 0h1m0 0h1m0 0h1m0 0h1m0 0h1m1 0h1m0 0h1m7 0h1m1 0h1m-94 1h1m1 0h1m5 0h1m0 0h1m0 0h1m2 0h1m1 0h1m2 0h1m2 0h1m0 0h1m0 0h1m6 0h1m1 0h1m4 0h1m2 0h1m2 0h1m3 0h1m1 0h1m2 0h1m0 0h1m0 0h1m0 0h1m0 0h1m0 0h1m0 0h1m0 0h1m0 0h1m0 0h1m0 0h1m0 0h1m0 0h1m0 0h1m1 0h1m0 0h1m0 0h1m0 0h1m0 0h1m0 0h1m0 0h1m0 0h1m0 0h1m0 0h1m0 0h1m0 0h1m0 0h1m0 0h1m0 0h1m1 0h1m-73 1h1m1 0h1m1 0h1m1 0h1m0 0h1m0 0h1m2 0h1m0 0h1m0 0h1m0 0h1m0 0h1m1 0h1m5 0h1m2 0h1m2 0h1m1 0h1m0 0h1m0 0h1m2 0h1m0 0h1m0 0h1m0 0h1m0 0h1m1 0h1m1 0h1m1 0h1m0 0h1m0 0h1m0 0h1m0 0h1m0 0h1m0 0h1m0 0h1m0 0h1m0 0h1m0 0h1m0 0h1m0 0h1m0 0h1m0 0h1m0 0h1m0 0h1m1 0h1m2 0h1m3 0h1m3 0h1m0 0h1m-97 1h1m5 0h1m2 0h1m9 0h1m1 0h1m0 0h1m5 0h1m5 0h1m0 0h1m1 0h1m0 0h1m0 0h1m8 0h1m0 0h1m0 0h1m0 0h1m0 0h1m0 0h1m0 0h1m3 0h1m0 0h1m1 0h1m0 0h1m0 0h1m0 0h1m0 0h1m0 0h1m0 0h1m0 0h1m0 0h1m0 0h1m0 0h1m0 0h1m0 0h1m0 0h1m0 0h1m0 0h1m0 0h1m0 0h1m0 0h1m1 0h1m1 0h1m1 0h1m0 0h1m0 0h1m0 0h1m0 0h1m0 0h1m0 0h1m-75 1h1m0 0h1m2 0h1m4 0h1m0 0h1m1 0h1m1 0h1m0 0h1m0 0h1m0 0h1m4 0h1m1 0h1m4 0h1m2 0h1m1 0h1m0 0h1m0 0h1m1 0h1m1 0h1m0 0h1m0 0h1m0 0h1m0 0h1m0 0h1m0 0h1m0 0h1m0 0h1m0 0h1m0 0h1m0 0h1m0 0h1m0 0h1m0 0h1m0 0h1m0 0h1m0 0h1m0 0h1m0 0h1m0 0h1m0 0h1m1 0h1m0 0h1m0 0h1m0 0h1m0 0h1m0 0h1m0 0h1m0 0h1m1 0h1m3 0h1m1 0h1m-80 1h1m0 0h1m2 0h1m0 0h1m3 0h1m0 0h1m0 0h1m0 0h1m0 0h1m2 0h1m1 0h1m0 0h1m2 0h1m0 0h1m1 0h1m0 0h1m3 0h1m2 0h1m0 0h1m0 0h1m1 0h1m0 0h1m0 0h1m0 0h1m0 0h1m0 0h1m0 0h1m0 0h1m0 0h1m0 0h1m0 0h1m0 0h1m0 0h1m0 0h1m0 0h1m0 0h1m0 0h1m0 0h1m0 0h1m0 0h1m0 0h1m0 0h1m0 0h1m0 0h1m0 0h1m0 0h1m0 0h1m0 0h1m0 0h1m0 0h1m0 0h1m0 0h1m1 0h1m5 0h1m3 0h1m-91 1h1m4 0h1m1 0h1m4 0h1m1 0h1m1 0h1m0 0h1m1 0h1m0 0h1m2 0h1m1 0h1m0 0h1m0 0h1m0 0h1m0 0h1m1 0h1m3 0h1m0 0h1m0 0h1m1 0h1m1 0h1m1 0h1m1 0h1m0 0h1m0 0h1m1 0h1m0 0h1m0 0h1m0 0h1m0 0h1m1 0h1m0 0h1m0 0h1m0 0h1m0 0h1m0 0h1m0 0h1m0 0h1m0 0h1m0 0h1m0 0h1m1 0h1m0 0h1m0 0h1m0 0h1m0 0h1m0 0h1m0 0h1m0 0h1m1 0h1m0 0h1m0 0h1m0 0h1m0 0h1m0 0h1m1 0h1m-83 1h1m0 0h1m2 0h1m6 0h1m0 0h1m0 0h1m1 0h1m0 0h1m0 0h1m1 0h1m0 0h1m0 0h1m2 0h1m0 0h1m0 0h1m1 0h1m0 0h1m1 0h1m3 0h1m2 0h1m0 0h1m1 0h1m1 0h1m0 0h1m1 0h1m0 0h1m0 0h1m0 0h1m0 0h1m0 0h1m0 0h1m0 0h1m0 0h1m0 0h1m0 0h1m0 0h1m0 0h1m0 0h1m0 0h1m0 0h1m0 0h1m0 0h1m0 0h1m0 0h1m0 0h1m0 0h1m0 0h1m0 0h1m0 0h1m0 0h1m0 0h1m0 0h1m1 0h1m4 0h1m5 0h1m-87 1h1m4 0h1m0 0h1m3 0h1m0 0h1m0 0h1m0 0h1m0 0h1m0 0h1m0 0h1m0 0h1m1 0h1m0 0h1m1 0h1m0 0h1m0 0h1m1 0h1m0 0h1m0 0h1m0 0h1m1 0h1m0 0h1m0 0h1m1 0h1m0 0h1m0 0h1m0 0h1m0 0h1m2 0h1m1 0h1m0 0h1m0 0h1m2 0h1m1 0h1m0 0h1m0 0h1m0 0h1m0 0h1m0 0h1m0 0h1m0 0h1m0 0h1m0 0h1m0 0h1m0 0h1m0 0h1m0 0h1m0 0h1m0 0h1m0 0h1m0 0h1m0 0h1m0 0h1m0 0h1m0 0h1m0 0h1m0 0h1m0 0h1m0 0h1m0 0h1m-79 1h1m0 0h1m4 0h1m0 0h1m1 0h1m0 0h1m0 0h1m0 0h1m0 0h1m1 0h1m1 0h1m0 0h1m0 0h1m0 0h1m2 0h1m0 0h1m0 0h1m0 0h1m0 0h1m0 0h1m0 0h1m0 0h1m0 0h1m2 0h1m2 0h1m1 0h1m0 0h1m0 0h1m0 0h1m1 0h1m2 0h1m0 0h1m0 0h1m0 0h1m0 0h1m0 0h1m0 0h1m0 0h1m0 0h1m0 0h1m0 0h1m0 0h1m0 0h1m0 0h1m0 0h1m0 0h1m0 0h1m0 0h1m0 0h1m0 0h1m1 0h1m0 0h1m0 0h1m0 0h1m0 0h1m0 0h1m2 0h1m5 0h1m-101 1h1m11 0h1m1 0h1m0 0h1m2 0h1m2 0h1m1 0h1m0 0h1m1 0h1m0 0h1m0 0h1m0 0h1m0 0h1m0 0h1m0 0h1m0 0h1m0 0h1m0 0h1m0 0h1m0 0h1m0 0h1m0 0h1m1 0h1m0 0h1m0 0h1m1 0h1m0 0h1m0 0h1m0 0h1m0 0h1m2 0h1m0 0h1m1 0h1m0 0h1m1 0h1m0 0h1m1 0h1m0 0h1m0 0h1m0 0h1m0 0h1m0 0h1m0 0h1m0 0h1m0 0h1m0 0h1m0 0h1m0 0h1m0 0h1m0 0h1m0 0h1m0 0h1m0 0h1m0 0h1m0 0h1m0 0h1m0 0h1m0 0h1m0 0h1m0 0h1m0 0h1m0 0h1m0 0h1m0 0h1m0 0h1m0 0h1m0 0h1m-79 1h1m0 0h1m1 0h1m0 0h1m0 0h1m1 0h1m1 0h1m0 0h1m0 0h1m0 0h1m0 0h1m1 0h1m0 0h1m1 0h1m0 0h1m0 0h1m1 0h1m0 0h1m0 0h1m0 0h1m0 0h1m0 0h1m0 0h1m0 0h1m0 0h1m0 0h1m0 0h1m2 0h1m0 0h1m0 0h1m0 0h1m0 0h1m0 0h1m1 0h1m1 0h1m0 0h1m0 0h1m0 0h1m1 0h1m0 0h1m0 0h1m0 0h1m0 0h1m1 0h1m0 0h1m0 0h1m0 0h1m0 0h1m0 0h1m0 0h1m0 0h1m0 0h1m0 0h1m0 0h1m1 0h1m0 0h1m1 0h1m0 0h1m0 0h1m1 0h1m0 0h1m0 0h1m0 0h1m0 0h1m1 0h1m8 0h1m-96 1h1m6 0h1m1 0h1m0 0h1m0 0h1m2 0h1m1 0h1m0 0h1m0 0h1m0 0h1m0 0h1m0 0h1m0 0h1m0 0h1m0 0h1m0 0h1m0 0h1m0 0h1m0 0h1m0 0h1m0 0h1m0 0h1m0 0h1m0 0h1m0 0h1m0 0h1m0 0h1m0 0h1m0 0h1m0 0h1m0 0h1m0 0h1m1 0h1m0 0h1m1 0h1m0 0h1m0 0h1m0 0h1m0 0h1m0 0h1m0 0h1m0 0h1m1 0h1m0 0h1m0 0h1m0 0h1m1 0h1m1 0h1m0 0h1m0 0h1m0 0h1m0 0h1m0 0h1m0 0h1m0 0h1m0 0h1m0 0h1m0 0h1m0 0h1m0 0h1m0 0h1m0 0h1m0 0h1m1 0h1m0 0h1m4 0h1m1 0h1m-75 1h1m0 0h1m0 0h1m0 0h1m0 0h1m0 0h1m0 0h1m0 0h1m0 0h1m0 0h1m1 0h1m0 0h1m0 0h1m0 0h1m0 0h1m0 0h1m0 0h1m0 0h1m0 0h1m0 0h1m0 0h1m1 0h1m0 0h1m0 0h1m2 0h1m0 0h1m0 0h1m1 0h1m0 0h1m0 0h1m0 0h1m0 0h1m0 0h1m0 0h1m0 0h1m0 0h1m0 0h1m0 0h1m0 0h1m0 0h1m1 0h1m0 0h1m0 0h1m0 0h1m0 0h1m0 0h1m0 0h1m0 0h1m0 0h1m0 0h1m0 0h1m0 0h1m0 0h1m0 0h1m0 0h1m0 0h1m0 0h1m1 0h1m1 0h1m0 0h1m0 0h1m0 0h1m2 0h1m1 0h1m-90 1h1m1 0h1m0 0h1m2 0h1m2 0h1m0 0h1m0 0h1m1 0h1m0 0h1m0 0h1m0 0h1m1 0h1m0 0h1m0 0h1m1 0h1m0 0h1m0 0h1m0 0h1m0 0h1m0 0h1m0 0h1m0 0h1m0 0h1m0 0h1m0 0h1m0 0h1m0 0h1m0 0h1m0 0h1m0 0h1m0 0h1m0 0h1m0 0h1m0 0h1m0 0h1m0 0h1m4 0h1m0 0h1m0 0h1m1 0h1m0 0h1m0 0h1m0 0h1m0 0h1m0 0h1m0 0h1m0 0h1m0 0h1m0 0h1m0 0h1m0 0h1m0 0h1m0 0h1m0 0h1m0 0h1m0 0h1m0 0h1m0 0h1m0 0h1m1 0h1m0 0h1m0 0h1m0 0h1m0 0h1m0 0h1m2 0h1m0 0h1m0 0h1m0 0h1m6 0h1m0 0h1m-85 1h1m1 0h1m2 0h1m0 0h1m0 0h1m0 0h1m0 0h1m0 0h1m2 0h1m0 0h1m0 0h1m0 0h1m0 0h1m0 0h1m0 0h1m0 0h1m0 0h1m0 0h1m0 0h1m0 0h1m0 0h1m0 0h1m0 0h1m0 0h1m0 0h1m0 0h1m0 0h1m0 0h1m0 0h1m0 0h1m0 0h1m0 0h1m0 0h1m0 0h1m0 0h1m0 0h1m0 0h1m1 0h1m0 0h1m0 0h1m1 0h1m0 0h1m0 0h1m0 0h1m0 0h1m0 0h1m0 0h1m0 0h1m0 0h1m0 0h1m0 0h1m0 0h1m0 0h1m0 0h1m0 0h1m0 0h1m0 0h1m0 0h1m0 0h1m0 0h1m0 0h1m0 0h1m0 0h1m0 0h1m1 0h1m0 0h1m2 0h1m1 0h1m-81 1h1m0 0h1m2 0h1m1 0h1m0 0h1m1 0h1m0 0h1m0 0h1m0 0h1m0 0h1m0 0h1m0 0h1m0 0h1m0 0h1m0 0h1m0 0h1m0 0h1m0 0h1m0 0h1m0 0h1m0 0h1m0 0h1m0 0h1m0 0h1m0 0h1m0 0h1m0 0h1m0 0h1m0 0h1m0 0h1m1 0h1m0 0h1m1 0h1m0 0h1m2 0h1m0 0h1m0 0h1m1 0h1m0 0h1m1 0h1m0 0h1m0 0h1m0 0h1m1 0h1m0 0h1m1 0h1m0 0h1m0 0h1m0 0h1m0 0h1m0 0h1m0 0h1m0 0h1m0 0h1m1 0h1m0 0h1m1 0h1m0 0h1m1 0h1m7 0h1m-84 1h1m1 0h1m1 0h1m2 0h1m0 0h1m0 0h1m0 0h1m0 0h1m0 0h1m0 0h1m0 0h1m0 0h1m1 0h1m0 0h1m0 0h1m0 0h1m0 0h1m0 0h1m0 0h1m0 0h1m0 0h1m0 0h1m0 0h1m0 0h1m0 0h1m0 0h1m0 0h1m0 0h1m0 0h1m0 0h1m0 0h1m1 0h1m0 0h1m0 0h1m0 0h1m0 0h1m1 0h1m0 0h1m0 0h1m0 0h1m0 0h1m0 0h1m0 0h1m0 0h1m0 0h1m1 0h1m0 0h1m0 0h1m0 0h1m0 0h1m1 0h1m0 0h1m0 0h1m0 0h1m0 0h1m0 0h1m0 0h1m0 0h1m0 0h1m0 0h1m0 0h1m1 0h1m0 0h1m0 0h1m0 0h1m0 0h1m1 0h1m0 0h1m0 0h1m-86 1h1m5 0h1m0 0h1m0 0h1m3 0h1m1 0h1m0 0h1m0 0h1m0 0h1m0 0h1m1 0h1m0 0h1m0 0h1m0 0h1m0 0h1m0 0h1m0 0h1m0 0h1m0 0h1m0 0h1m0 0h1m0 0h1m0 0h1m0 0h1m0 0h1m0 0h1m0 0h1m0 0h1m0 0h1m0 0h1m0 0h1m0 0h1m0 0h1m0 0h1m0 0h1m1 0h1m0 0h1m0 0h1m1 0h1m0 0h1m0 0h1m0 0h1m1 0h1m1 0h1m0 0h1m0 0h1m0 0h1m0 0h1m0 0h1m0 0h1m0 0h1m0 0h1m0 0h1m1 0h1m0 0h1m0 0h1m2 0h1m0 0h1m2 0h1m0 0h1m1 0h1m2 0h1m-77 1h1m0 0h1m1 0h1m0 0h1m0 0h1m2 0h1m0 0h1m0 0h1m0 0h1m0 0h1m0 0h1m0 0h1m0 0h1m0 0h1m0 0h1m0 0h1m0 0h1m0 0h1m0 0h1m0 0h1m0 0h1m0 0h1m0 0h1m0 0h1m0 0h1m0 0h1m0 0h1m0 0h1m0 0h1m0 0h1m0 0h1m0 0h1m0 0h1m0 0h1m0 0h1m2 0h1m0 0h1m0 0h1m0 0h1m1 0h1m1 0h1m1 0h1m0 0h1m0 0h1m0 0h1m0 0h1m0 0h1m0 0h1m0 0h1m0 0h1m0 0h1m1 0h1m1 0h1m0 0h1m1 0h1m3 0h1m0 0h1m1 0h1m0 0h1m0 0h1m-79 1h1m3 0h1m2 0h1m0 0h1m0 0h1m0 0h1m0 0h1m0 0h1m0 0h1m0 0h1m0 0h1m0 0h1m0 0h1m0 0h1m0 0h1m0 0h1m0 0h1m0 0h1m0 0h1m0 0h1m0 0h1m0 0h1m0 0h1m0 0h1m0 0h1m0 0h1m0 0h1m0 0h1m0 0h1m0 0h1m0 0h1m0 0h1m0 0h1m0 0h1m0 0h1m0 0h1m0 0h1m1 0h1m1 0h1m1 0h1m0 0h1m1 0h1m1 0h1m1 0h1m0 0h1m3 0h1m0 0h1m0 0h1m2 0h1m0 0h1m0 0h1m1 0h1m0 0h1m0 0h1m0 0h1m1 0h1m5 0h1m-84 1h1m5 0h1m3 0h1m1 0h1m0 0h1m0 0h1m0 0h1m0 0h1m0 0h1m0 0h1m0 0h1m0 0h1m0 0h1m0 0h1m0 0h1m0 0h1m0 0h1m0 0h1m0 0h1m0 0h1m0 0h1m0 0h1m0 0h1m0 0h1m0 0h1m0 0h1m0 0h1m0 0h1m1 0h1m0 0h1m0 0h1m0 0h1m0 0h1m1 0h1m0 0h1m1 0h1m2 0h1m0 0h1m0 0h1m4 0h1m0 0h1m0 0h1m0 0h1m0 0h1m0 0h1m0 0h1m0 0h1m0 0h1m0 0h1m0 0h1m0 0h1m0 0h1m4 0h1m0 0h1m-75 1h1m0 0h1m1 0h1m0 0h1m0 0h1m0 0h1m3 0h1m1 0h1m0 0h1m0 0h1m0 0h1m1 0h1m0 0h1m0 0h1m0 0h1m0 0h1m0 0h1m0 0h1m0 0h1m0 0h1m0 0h1m0 0h1m0 0h1m0 0h1m0 0h1m0 0h1m0 0h1m0 0h1m0 0h1m0 0h1m0 0h1m0 0h1m0 0h1m1 0h1m0 0h1m0 0h1m0 0h1m0 0h1m1 0h1m0 0h1m1 0h1m2 0h1m0 0h1m0 0h1m0 0h1m2 0h1m2 0h1m1 0h1m1 0h1m0 0h1m1 0h1m1 0h1m0 0h1m1 0h1m2 0h1m5 0h1m4 0h1m-86 1h1m0 0h1m2 0h1m0 0h1m0 0h1m0 0h1m0 0h1m0 0h1m0 0h1m0 0h1m0 0h1m0 0h1m0 0h1m0 0h1m0 0h1m0 0h1m0 0h1m0 0h1m0 0h1m0 0h1m0 0h1m0 0h1m0 0h1m0 0h1m0 0h1m0 0h1m0 0h1m0 0h1m0 0h1m0 0h1m0 0h1m0 0h1m0 0h1m0 0h1m0 0h1m0 0h1m0 0h1m0 0h1m0 0h1m0 0h1m0 0h1m0 0h1m0 0h1m0 0h1m0 0h1m0 0h1m1 0h1m1 0h1m1 0h1m3 0h1m0 0h1m0 0h1m0 0h1m1 0h1m0 0h1m2 0h1m1 0h1m0 0h1m6 0h1m2 0h1m-76 1h1m1 0h1m3 0h1m2 0h1m0 0h1m0 0h1m0 0h1m0 0h1m0 0h1m0 0h1m0 0h1m0 0h1m0 0h1m0 0h1m0 0h1m0 0h1m0 0h1m0 0h1m0 0h1m0 0h1m0 0h1m0 0h1m0 0h1m0 0h1m1 0h1m0 0h1m0 0h1m0 0h1m0 0h1m0 0h1m0 0h1m1 0h1m0 0h1m0 0h1m1 0h1m1 0h1m0 0h1m1 0h1m2 0h1m1 0h1m0 0h1m0 0h1m0 0h1m-59 1h1m0 0h1m2 0h1m0 0h1m1 0h1m0 0h1m0 0h1m0 0h1m0 0h1m0 0h1m0 0h1m1 0h1m0 0h1m0 0h1m0 0h1m0 0h1m0 0h1m0 0h1m0 0h1m0 0h1m0 0h1m0 0h1m0 0h1m0 0h1m0 0h1m0 0h1m0 0h1m0 0h1m0 0h1m0 0h1m0 0h1m2 0h1m0 0h1m0 0h1m0 0h1m0 0h1m0 0h1m1 0h1m1 0h1m1 0h1m0 0h1m0 0h1m1 0h1m0 0h1m0 0h1m3 0h1m0 0h1m0 0h1m1 0h1m1 0h1m-66 1h1m0 0h1m2 0h1m0 0h1m0 0h1m2 0h1m1 0h1m0 0h1m1 0h1m0 0h1m0 0h1m0 0h1m0 0h1m0 0h1m0 0h1m0 0h1m0 0h1m0 0h1m0 0h1m0 0h1m0 0h1m0 0h1m0 0h1m0 0h1m0 0h1m0 0h1m0 0h1m0 0h1m0 0h1m1 0h1m0 0h1m0 0h1m1 0h1m3 0h1m0 0h1m0 0h1m0 0h1m3 0h1m5 0h1m4 0h1m2 0h1m-69 1h1m0 0h1m0 0h1m2 0h1m1 0h1m0 0h1m0 0h1m0 0h1m0 0h1m1 0h1m0 0h1m0 0h1m1 0h1m0 0h1m0 0h1m0 0h1m0 0h1m0 0h1m0 0h1m0 0h1m0 0h1m0 0h1m0 0h1m0 0h1m1 0h1m0 0h1m0 0h1m0 0h1m0 0h1m0 0h1m0 0h1m0 0h1m0 0h1m0 0h1m0 0h1m1 0h1m0 0h1m0 0h1m1 0h1m1 0h1m0 0h1m0 0h1m3 0h1m0 0h1m1 0h1m1 0h1m-54 1h1m1 0h1m0 0h1m0 0h1m0 0h1m0 0h1m0 0h1m2 0h1m0 0h1m0 0h1m0 0h1m0 0h1m0 0h1m0 0h1m0 0h1m0 0h1m0 0h1m0 0h1m0 0h1m0 0h1m0 0h1m0 0h1m0 0h1m0 0h1m0 0h1m0 0h1m0 0h1m1 0h1m0 0h1m0 0h1m0 0h1m0 0h1m0 0h1m5 0h1m2 0h1m5 0h1m1 0h1m0 0h1m3 0h1m6 0h1m-67 1h1m0 0h1m0 0h1m0 0h1m0 0h1m1 0h1m0 0h1m0 0h1m0 0h1m0 0h1m0 0h1m0 0h1m0 0h1m0 0h1m1 0h1m0 0h1m0 0h1m0 0h1m0 0h1m0 0h1m0 0h1m1 0h1m0 0h1m0 0h1m1 0h1m1 0h1m2 0h1m0 0h1m0 0h1m0 0h1m1 0h1m0 0h1m4 0h1m0 0h1m0 0h1m1 0h1m1 0h1m1 0h1m-57 1h1m0 0h1m4 0h1m0 0h1m0 0h1m0 0h1m1 0h1m0 0h1m0 0h1m0 0h1m0 0h1m0 0h1m0 0h1m0 0h1m1 0h1m0 0h1m0 0h1m0 0h1m0 0h1m0 0h1m1 0h1m0 0h1m0 0h1m0 0h1m2 0h1m0 0h1m0 0h1m0 0h1m0 0h1m0 0h1m0 0h1m2 0h1m1 0h1m1 0h1m2 0h1m5 0h1m1 0h1m8 0h1m2 0h1m-75 1h1m3 0h1m1 0h1m1 0h1m1 0h1m2 0h1m0 0h1m0 0h1m0 0h1m0 0h1m0 0h1m0 0h1m0 0h1m0 0h1m0 0h1m0 0h1m0 0h1m0 0h1m0 0h1m2 0h1m0 0h1m0 0h1m0 0h1m0 0h1m1 0h1m0 0h1m0 0h1m0 0h1m0 0h1m0 0h1m3 0h1m3 0h1m1 0h1m6 0h1m3 0h1m5 0h1m-60 1h1m0 0h1m0 0h1m0 0h1m0 0h1m0 0h1m0 0h1m0 0h1m0 0h1m0 0h1m0 0h1m0 0h1m1 0h1m0 0h1m0 0h1m0 0h1m0 0h1m0 0h1m0 0h1m0 0h1m0 0h1m0 0h1m0 0h1m0 0h1m0 0h1m0 0h1m1 0h1m2 0h1m0 0h1m0 0h1m12 0h1m-49 1h1m1 0h1m0 0h1m1 0h1m0 0h1m1 0h1m0 0h1m0 0h1m1 0h1m1 0h1m0 0h1m0 0h1m0 0h1m0 0h1m0 0h1m0 0h1m1 0h1m0 0h1m0 0h1m0 0h1m1 0h1m0 0h1m0 0h1m1 0h1m0 0h1m0 0h1m0 0h1m0 0h1m0 0h1m0 0h1m3 0h1m9 0h1m16 0h1m-75 1h1m2 0h1m3 0h1m0 0h1m0 0h1m0 0h1m2 0h1m0 0h1m0 0h1m0 0h1m0 0h1m0 0h1m0 0h1m0 0h1m0 0h1m0 0h1m0 0h1m0 0h1m0 0h1m0 0h1m0 0h1m1 0h1m0 0h1m0 0h1m1 0h1m0 0h1m0 0h1m0 0h1m0 0h1m0 0h1m3 0h1m2 0h1m6 0h1m3 0h1m-57 1h1m7 0h1m1 0h1m1 0h1m1 0h1m0 0h1m0 0h1m0 0h1m0 0h1m1 0h1m1 0h1m0 0h1m0 0h1m0 0h1m0 0h1m0 0h1m0 0h1m0 0h1m0 0h1m0 0h1m0 0h1m0 0h1m0 0h1m1 0h1m0 0h1m0 0h1m0 0h1m1 0h1m17 0h1m-60 1h1m0 0h1m1 0h1m3 0h1m1 0h1m0 0h1m1 0h1m1 0h1m0 0h1m0 0h1m0 0h1m0 0h1m0 0h1m1 0h1m1 0h1m0 0h1m1 0h1m1 0h1m0 0h1m0 0h1m0 0h1m0 0h1m0 0h1m0 0h1m0 0h1m4 0h1m5 0h1m-42 1h1m0 0h1m0 0h1m0 0h1m0 0h1m0 0h1m0 0h1m0 0h1m0 0h1m0 0h1m0 0h1m0 0h1m0 0h1m0 0h1m1 0h1m0 0h1m0 0h1m0 0h1m0 0h1m0 0h1m0 0h1m0 0h1m0 0h1m0 0h1m0 0h1m0 0h1m0 0h1m0 0h1m0 0h1m2 0h1m1 0h1m1 0h1m3 0h1m9 0h1m-56 1h1m2 0h1m0 0h1m1 0h1m0 0h1m0 0h1m0 0h1m0 0h1m1 0h1m0 0h1m2 0h1m0 0h1m0 0h1m0 0h1m0 0h1m0 0h1m1 0h1m0 0h1m0 0h1m0 0h1m0 0h1m0 0h1m0 0h1m0 0h1m0 0h1m0 0h1m0 0h1m0 0h1m0 0h1m2 0h1m-39 1h1m3 0h1m3 0h1m0 0h1m0 0h1m1 0h1m0 0h1m1 0h1m0 0h1m0 0h1m2 0h1m0 0h1m0 0h1m0 0h1m0 0h1m0 0h1m0 0h1m0 0h1m0 0h1m1 0h1m1 0h1m3 0h1m0 0h1m1 0h1m-40 1h1m2 0h1m4 0h1m1 0h1m0 0h1m0 0h1m0 0h1m0 0h1m0 0h1m0 0h1m0 0h1m0 0h1m0 0h1m0 0h1m0 0h1m0 0h1m0 0h1m0 0h1m0 0h1m0 0h1m1 0h1m1 0h1m0 0h1m0 0h1m1 0h1m0 0h1m1 0h1m5 0h1m3 0h1m11 0h1m-60 1h1m1 0h1m0 0h1m0 0h1m0 0h1m0 0h1m0 0h1m1 0h1m0 0h1m0 0h1m0 0h1m0 0h1m0 0h1m0 0h1m0 0h1m0 0h1m0 0h1m0 0h1m0 0h1m0 0h1m0 0h1m1 0h1m0 0h1m0 0h1m0 0h1m0 0h1m2 0h1m1 0h1m0 0h1m0 0h1m0 0h1m0 0h1m0 0h1m0 0h1m5 0h1m-46 1h1m0 0h1m1 0h1m1 0h1m1 0h1m0 0h1m1 0h1m0 0h1m0 0h1m0 0h1m0 0h1m0 0h1m0 0h1m0 0h1m0 0h1m0 0h1m0 0h1m0 0h1m0 0h1m0 0h1m1 0h1m0 0h1m0 0h1m0 0h1m1 0h1m0 0h1m0 0h1m1 0h1m0 0h1m2 0h1m3 0h1m1 0h1m2 0h1m1 0h1m-50 1h1m0 0h1m1 0h1m0 0h1m0 0h1m0 0h1m0 0h1m0 0h1m0 0h1m0 0h1m0 0h1m0 0h1m0 0h1m0 0h1m0 0h1m0 0h1m0 0h1m0 0h1m0 0h1m0 0h1m0 0h1m0 0h1m0 0h1m0 0h1m0 0h1m1 0h1m1 0h1m0 0h1m0 0h1m0 0h1m0 0h1m2 0h1m0 0h1m5 0h1m0 0h1m2 0h1m1 0h1m-50 1h1m1 0h1m0 0h1m1 0h1m0 0h1m0 0h1m0 0h1m0 0h1m0 0h1m1 0h1m0 0h1m0 0h1m0 0h1m0 0h1m0 0h1m0 0h1m0 0h1m0 0h1m0 0h1m0 0h1m0 0h1m0 0h1m0 0h1m0 0h1m0 0h1m0 0h1m0 0h1m0 0h1m0 0h1m0 0h1m0 0h1m0 0h1m2 0h1m1 0h1m6 0h1m-47 1h1m2 0h1m0 0h1m0 0h1m0 0h1m0 0h1m0 0h1m0 0h1m0 0h1m0 0h1m0 0h1m0 0h1m0 0h1m0 0h1m0 0h1m0 0h1m0 0h1m0 0h1m0 0h1m0 0h1m0 0h1m0 0h1m0 0h1m1 0h1m0 0h1m0 0h1m0 0h1m0 0h1m1 0h1m0 0h1m1 0h1m0 0h1m3 0h1m1 0h1m2 0h1m-46 1h1m1 0h1m0 0h1m1 0h1m0 0h1m0 0h1m0 0h1m0 0h1m0 0h1m0 0h1m0 0h1m0 0h1m0 0h1m0 0h1m0 0h1m0 0h1m0 0h1m0 0h1m0 0h1m0 0h1m0 0h1m0 0h1m0 0h1m1 0h1m0 0h1m0 0h1m1 0h1m0 0h1m0 0h1m0 0h1m0 0h1m1 0h1m0 0h1m0 0h1m5 0h1m7 0h1m2 0h1m2 0h1m-59 1h1m0 0h1m2 0h1m0 0h1m1 0h1m0 0h1m0 0h1m0 0h1m0 0h1m0 0h1m0 0h1m0 0h1m0 0h1m0 0h1m0 0h1m0 0h1m0 0h1m0 0h1m0 0h1m0 0h1m0 0h1m0 0h1m0 0h1m0 0h1m0 0h1m0 0h1m0 0h1m3 0h1m2 0h1m1 0h1m0 0h1m4 0h1m-45 1h1m0 0h1m1 0h1m1 0h1m0 0h1m0 0h1m0 0h1m0 0h1m0 0h1m0 0h1m0 0h1m0 0h1m0 0h1m0 0h1m0 0h1m0 0h1m0 0h1m0 0h1m0 0h1m0 0h1m0 0h1m0 0h1m0 0h1m0 0h1m0 0h1m0 0h1m0 0h1m0 0h1m0 0h1m0 0h1m0 0h1m0 0h1m2 0h1m1 0h1m0 0h1m0 0h1m0 0h1m10 0h1m8 0h1m-62 1h1m0 0h1m0 0h1m0 0h1m0 0h1m0 0h1m1 0h1m0 0h1m0 0h1m0 0h1m0 0h1m0 0h1m0 0h1m0 0h1m0 0h1m0 0h1m0 0h1m0 0h1m0 0h1m0 0h1m0 0h1m0 0h1m0 0h1m0 0h1m0 0h1m0 0h1m0 0h1m0 0h1m0 0h1m1 0h1m0 0h1m0 0h1m0 0h1m1 0h1m0 0h1m6 0h1m0 0h1m1 0h1m-48 1h1m0 0h1m0 0h1m0 0h1m0 0h1m0 0h1m0 0h1m0 0h1m0 0h1m0 0h1m0 0h1m0 0h1m0 0h1m0 0h1m0 0h1m0 0h1m0 0h1m0 0h1m0 0h1m0 0h1m0 0h1m0 0h1m0 0h1m0 0h1m0 0h1m1 0h1m0 0h1m0 0h1m0 0h1m0 0h1m0 0h1m0 0h1m0 0h1m1 0h1m2 0h1m0 0h1m2 0h1m7 0h1m-51 1h1m1 0h1m0 0h1m0 0h1m0 0h1m0 0h1m0 0h1m0 0h1m0 0h1m0 0h1m0 0h1m0 0h1m0 0h1m0 0h1m0 0h1m0 0h1m0 0h1m0 0h1m0 0h1m0 0h1m0 0h1m0 0h1m0 0h1m0 0h1m0 0h1m0 0h1m0 0h1m1 0h1m0 0h1m0 0h1m0 0h1m0 0h1m0 0h1m0 0h1m2 0h1m0 0h1m0 0h1m1 0h1m4 0h1m1 0h1m0 0h1m8 0h1m-60 1h1m0 0h1m0 0h1m0 0h1m0 0h1m0 0h1m0 0h1m0 0h1m0 0h1m0 0h1m0 0h1m1 0h1m0 0h1m0 0h1m0 0h1m0 0h1m0 0h1m0 0h1m0 0h1m0 0h1m0 0h1m1 0h1m0 0h1m0 0h1m0 0h1m0 0h1m0 0h1m0 0h1m0 0h1m1 0h1m0 0h1m0 0h1m0 0h1m0 0h1m0 0h1m1 0h1m1 0h1m0 0h1m1 0h1m5 0h1m0 0h1m0 0h1m-53 1h1m0 0h1m0 0h1m0 0h1m0 0h1m0 0h1m0 0h1m0 0h1m0 0h1m0 0h1m0 0h1m0 0h1m0 0h1m0 0h1m0 0h1m0 0h1m0 0h1m0 0h1m0 0h1m0 0h1m0 0h1m0 0h1m0 0h1m0 0h1m0 0h1m0 0h1m0 0h1m0 0h1m0 0h1m0 0h1m0 0h1m1 0h1m0 0h1m0 0h1m0 0h1m0 0h1m2 0h1m1 0h1m1 0h1m1 0h1m1 0h1m3 0h1m4 0h1m-57 1h1m0 0h1m0 0h1m0 0h1m0 0h1m0 0h1m0 0h1m0 0h1m0 0h1m0 0h1m0 0h1m0 0h1m0 0h1m0 0h1m0 0h1m0 0h1m0 0h1m0 0h1m0 0h1m0 0h1m0 0h1m1 0h1m0 0h1m0 0h1m0 0h1m0 0h1m0 0h1m1 0h1m1 0h1m2 0h1m0 0h1m0 0h1m2 0h1m0 0h1m0 0h1m0 0h1m0 0h1m2 0h1m2 0h1m13 0h1m-64 1h1m0 0h1m0 0h1m1 0h1m0 0h1m0 0h1m0 0h1m0 0h1m0 0h1m0 0h1m0 0h1m0 0h1m0 0h1m0 0h1m0 0h1m0 0h1m0 0h1m0 0h1m0 0h1m0 0h1m0 0h1m0 0h1m0 0h1m0 0h1m0 0h1m0 0h1m0 0h1m0 0h1m0 0h1m0 0h1m1 0h1m0 0h1m0 0h1m1 0h1m0 0h1m0 0h1m0 0h1m0 0h1m0 0h1m0 0h1m0 0h1m0 0h1m4 0h1m3 0h1m7 0h1m-62 1h1m0 0h1m0 0h1m0 0h1m0 0h1m0 0h1m0 0h1m0 0h1m0 0h1m0 0h1m0 0h1m0 0h1m0 0h1m0 0h1m0 0h1m0 0h1m1 0h1m0 0h1m1 0h1m0 0h1m0 0h1m0 0h1m1 0h1m0 0h1m0 0h1m0 0h1m0 0h1m0 0h1m0 0h1m0 0h1m0 0h1m0 0h1m1 0h1m0 0h1m1 0h1m4 0h1m4 0h1m0 0h1m1 0h1m-53 1h1m0 0h1m0 0h1m0 0h1m0 0h1m0 0h1m0 0h1m0 0h1m0 0h1m0 0h1m0 0h1m0 0h1m0 0h1m0 0h1m0 0h1m0 0h1m0 0h1m0 0h1m0 0h1m0 0h1m0 0h1m0 0h1m0 0h1m0 0h1m0 0h1m0 0h1m0 0h1m0 0h1m0 0h1m0 0h1m0 0h1m0 0h1m0 0h1m0 0h1m0 0h1m0 0h1m0 0h1m0 0h1m0 0h1m1 0h1m0 0h1m1 0h1m2 0h1m1 0h1m12 0h1m1 0h1m-64 1h1m0 0h1m1 0h1m0 0h1m0 0h1m0 0h1m0 0h1m0 0h1m0 0h1m0 0h1m0 0h1m0 0h1m0 0h1m0 0h1m0 0h1m0 0h1m0 0h1m0 0h1m0 0h1m0 0h1m0 0h1m0 0h1m0 0h1m0 0h1m0 0h1m0 0h1m0 0h1m0 0h1m0 0h1m0 0h1m0 0h1m0 0h1m0 0h1m0 0h1m0 0h1m0 0h1m0 0h1m0 0h1m0 0h1m0 0h1m0 0h1m0 0h1m0 0h1m0 0h1m0 0h1m18 0h1m-65 1h1m0 0h1m0 0h1m0 0h1m0 0h1m0 0h1m0 0h1m0 0h1m0 0h1m0 0h1m0 0h1m0 0h1m0 0h1m0 0h1m0 0h1m0 0h1m0 0h1m0 0h1m0 0h1m0 0h1m0 0h1m0 0h1m0 0h1m0 0h1m0 0h1m0 0h1m0 0h1m0 0h1m0 0h1m0 0h1m0 0h1m0 0h1m0 0h1m1 0h1m0 0h1m0 0h1m0 0h1m0 0h1m0 0h1m0 0h1m0 0h1m0 0h1m0 0h1m0 0h1m0 0h1m2 0h1m0 0h1m0 0h1m2 0h1m-54 1h1m0 0h1m0 0h1m0 0h1m0 0h1m0 0h1m0 0h1m0 0h1m0 0h1m0 0h1m0 0h1m0 0h1m0 0h1m0 0h1m0 0h1m0 0h1m0 0h1m0 0h1m0 0h1m0 0h1m0 0h1m0 0h1m0 0h1m0 0h1m0 0h1m0 0h1m0 0h1m0 0h1m0 0h1m0 0h1m0 0h1m0 0h1m0 0h1m0 0h1m0 0h1m0 0h1m0 0h1m0 0h1m0 0h1m0 0h1m0 0h1m0 0h1m1 0h1m1 0h1m1 0h1m4 0h1m0 0h1m-54 1h1m0 0h1m0 0h1m0 0h1m0 0h1m0 0h1m0 0h1m0 0h1m0 0h1m0 0h1m0 0h1m0 0h1m0 0h1m0 0h1m0 0h1m0 0h1m0 0h1m0 0h1m0 0h1m0 0h1m0 0h1m0 0h1m0 0h1m0 0h1m0 0h1m1 0h1m0 0h1m0 0h1m1 0h1m0 0h1m0 0h1m0 0h1m0 0h1m1 0h1m2 0h1m0 0h1m0 0h1m0 0h1m1 0h1m5 0h1m0 0h1m2 0h1m0 0h1m-56 1h1m0 0h1m0 0h1m0 0h1m0 0h1m0 0h1m0 0h1m0 0h1m0 0h1m0 0h1m0 0h1m0 0h1m0 0h1m0 0h1m0 0h1m1 0h1m0 0h1m0 0h1m0 0h1m0 0h1m0 0h1m0 0h1m1 0h1m0 0h1m0 0h1m2 0h1m0 0h1m0 0h1m0 0h1m0 0h1m0 0h1m0 0h1m0 0h1m1 0h1m0 0h1m1 0h1m0 0h1m0 0h1m0 0h1m2 0h1m2 0h1m4 0h1m-56 1h1m0 0h1m0 0h1m0 0h1m0 0h1m0 0h1m0 0h1m0 0h1m0 0h1m1 0h1m0 0h1m0 0h1m0 0h1m0 0h1m1 0h1m0 0h1m0 0h1m0 0h1m0 0h1m0 0h1m0 0h1m0 0h1m0 0h1m0 0h1m0 0h1m0 0h1m0 0h1m0 0h1m0 0h1m1 0h1m1 0h1m0 0h1m0 0h1m1 0h1m1 0h1m0 0h1m0 0h1m0 0h1m0 0h1m2 0h1m8 0h1m-57 1h1m0 0h1m0 0h1m0 0h1m0 0h1m0 0h1m0 0h1m0 0h1m0 0h1m0 0h1m0 0h1m0 0h1m0 0h1m0 0h1m0 0h1m0 0h1m0 0h1m0 0h1m0 0h1m0 0h1m0 0h1m0 0h1m0 0h1m0 0h1m0 0h1m0 0h1m0 0h1m0 0h1m0 0h1m0 0h1m0 0h1m1 0h1m0 0h1m0 0h1m0 0h1m0 0h1m0 0h1m0 0h1m0 0h1m0 0h1m2 0h1m1 0h1m0 0h1m1 0h1m0 0h1m3 0h1m4 0h1m-59 1h1m1 0h1m0 0h1m0 0h1m0 0h1m0 0h1m0 0h1m0 0h1m0 0h1m0 0h1m0 0h1m0 0h1m0 0h1m0 0h1m0 0h1m0 0h1m0 0h1m0 0h1m0 0h1m0 0h1m0 0h1m0 0h1m0 0h1m1 0h1m0 0h1m0 0h1m0 0h1m1 0h1m0 0h1m0 0h1m0 0h1m0 0h1m0 0h1m1 0h1m0 0h1m5 0h1m0 0h1m0 0h1m-47 1h1m0 0h1m0 0h1m0 0h1m0 0h1m0 0h1m0 0h1m0 0h1m0 0h1m0 0h1m0 0h1m0 0h1m0 0h1m0 0h1m0 0h1m0 0h1m0 0h1m0 0h1m0 0h1m0 0h1m0 0h1m0 0h1m0 0h1m1 0h1m0 0h1m0 0h1m0 0h1m0 0h1m1 0h1m0 0h1m0 0h1m0 0h1m0 0h1m3 0h1m6 0h1m0 0h1m0 0h1m-48 1h1m0 0h1m0 0h1m0 0h1m0 0h1m0 0h1m0 0h1m0 0h1m0 0h1m0 0h1m0 0h1m0 0h1m0 0h1m0 0h1m0 0h1m0 0h1m0 0h1m0 0h1m0 0h1m0 0h1m0 0h1m0 0h1m0 0h1m0 0h1m0 0h1m1 0h1m0 0h1m0 0h1m0 0h1m0 0h1m0 0h1m0 0h1m0 0h1m1 0h1m8 0h1m0 0h1m3 0h1m0 0h1m12 0h1m-64 1h1m0 0h1m0 0h1m0 0h1m1 0h1m0 0h1m0 0h1m0 0h1m0 0h1m0 0h1m0 0h1m0 0h1m0 0h1m0 0h1m0 0h1m0 0h1m0 0h1m0 0h1m0 0h1m0 0h1m0 0h1m0 0h1m0 0h1m0 0h1m0 0h1m0 0h1m0 0h1m0 0h1m1 0h1m1 0h1m1 0h1m0 0h1m0 0h1m3 0h1m1 0h1m0 0h1m3 0h1m8 0h1m-57 1h1m1 0h1m0 0h1m0 0h1m0 0h1m1 0h1m0 0h1m0 0h1m0 0h1m0 0h1m0 0h1m0 0h1m0 0h1m0 0h1m0 0h1m0 0h1m0 0h1m0 0h1m0 0h1m0 0h1m0 0h1m1 0h1m0 0h1m0 0h1m0 0h1m0 0h1m0 0h1m1 0h1m2 0h1m0 0h1m3 0h1m0 0h1m-41 1h1m0 0h1m0 0h1m0 0h1m0 0h1m0 0h1m0 0h1m0 0h1m0 0h1m0 0h1m0 0h1m0 0h1m0 0h1m0 0h1m0 0h1m0 0h1m0 0h1m0 0h1m0 0h1m0 0h1m0 0h1m0 0h1m1 0h1m0 0h1m0 0h1m1 0h1m0 0h1m1 0h1m1 0h1m1 0h1m1 0h1m0 0h1m2 0h1m2 0h1m5 0h1m-50 1h1m0 0h1m0 0h1m0 0h1m2 0h1m0 0h1m1 0h1m0 0h1m0 0h1m0 0h1m0 0h1m0 0h1m0 0h1m0 0h1m0 0h1m0 0h1m0 0h1m0 0h1m1 0h1m0 0h1m1 0h1m0 0h1m0 0h1m0 0h1m0 0h1m1 0h1m2 0h1m-35 1h1m0 0h1m0 0h1m0 0h1m0 0h1m0 0h1m0 0h1m0 0h1m0 0h1m0 0h1m0 0h1m0 0h1m0 0h1m0 0h1m0 0h1m0 0h1m0 0h1m0 0h1m0 0h1m0 0h1m0 0h1m0 0h1m0 0h1m0 0h1m0 0h1m0 0h1m0 0h1m0 0h1m0 0h1m0 0h1m0 0h1m0 0h1m0 0h1m0 0h1m0 0h1m0 0h1m0 0h1m0 0h1m0 0h1m0 0h1m0 0h1m0 0h1m0 0h1m0 0h1m3 0h1m4 0h1m0 0h1" stroke="#1e1e1e" stroke-width="1.3" transform="translate(.3 .8)" fill="none"/>
<rect x="389.5" y="27.5" width="123" height="95" fill="none" stroke="#111" stroke-width="1.3"/>
<path d="M389.5 122.5v4M398.8 122.5v2.6M404.2 122.5v2.6M408 122.5v2.6M411 122.5v2.6M413.4 122.5v2.6M415.5 122.5v2.6M417.3 122.5v2.6M418.8 122.5v2.6M420.2 122.5v4M429.5 122.5v2.6M434.9 122.5v2.6M438.8 122.5v2.6M441.7 122.5v2.6M444.2 122.5v2.6M446.2 122.5v2.6M448 122.5v2.6M449.6 122.5v2.6M451 122.5v4M460.3 122.5v2.6M465.7 122.5v2.6M469.5 122.5v2.6M472.5 122.5v2.6M474.9 122.5v2.6M477 122.5v2.6M478.8 122.5v2.6M480.3 122.5v2.6M481.8 122.5v4M491 122.5v2.6M496.4 122.5v2.6M500.3 122.5v2.6M503.2 122.5v2.6M505.7 122.5v2.6M507.7 122.5v2.6M509.5 122.5v2.6M511.1 122.5v2.6M512.5 122.5v4" stroke="#111" stroke-width="1.1" fill="none"/>
<path d="M389.5 122.5h-4M389.5 115.4h-2.6M389.5 111.2h-2.6M389.5 108.2h-2.6M389.5 105.9h-2.6M389.5 104h-2.6M389.5 102.4h-2.6M389.5 101.1h-2.6M389.5 99.8h-2.6M389.5 98.8h-4M389.5 91.6h-2.6M389.5 87.4h-2.6M389.5 84.5h-2.6M389.5 82.1h-2.6M389.5 80.3h-2.6M389.5 78.7h-2.6M389.5 77.3h-2.6M389.5 76.1h-2.6M389.5 75h-4M389.5 67.9h-2.6M389.5 63.7h-2.6M389.5 60.7h-2.6M389.5 58.4h-2.6M389.5 56.5h-2.6M389.5 54.9h-2.6M389.5 53.6h-2.6M389.5 52.3h-2.6M389.5 51.2h-4M389.5 44.1h-2.6M389.5 39.9h-2.6M389.5 37h-2.6M389.5 34.6h-2.6M389.5 32.8h-2.6M389.5 31.2h-2.6M389.5 29.8h-2.6M389.5 28.6h-2.6M389.5 27.5h-4" stroke="#111" stroke-width="1.1" fill="none"/>
<text transform="translate(383.4 137.7) scale(.8 1)" font-size="10.2" class="t">10</text>
<text transform="translate(392 131.4) scale(.95 1)" font-size="9.3">0</text>
<text transform="translate(414.1 137.7) scale(.8 1)" font-size="10.2" class="t">10</text>
<text transform="translate(422.8 131.4) scale(.95 1)" font-size="9.3">1</text>
<text transform="translate(444.9 137.7) scale(.8 1)" font-size="10.2" class="t">10</text>
<text transform="translate(453.5 131.4) scale(.95 1)" font-size="9.3">2</text>
<text transform="translate(475.6 137.7) scale(.8 1)" font-size="10.2" class="t">10</text>
<text transform="translate(484.2 131.4) scale(.95 1)" font-size="9.3">3</text>
<text transform="translate(504.1 137.7) scale(.8 1)" font-size="10.2" class="t">10</text>
<text transform="translate(513.9 131.4) scale(.95 1)" font-size="9.3">4</text>
<text transform="translate(381.6 129.4) rotate(-90) scale(.8 1)" font-size="10.2" class="t">10</text>
<text transform="translate(374.7 120.5) rotate(-90) scale(.95 1)" font-size="9.3">0</text>
<text transform="translate(381.6 105.7) rotate(-90) scale(.8 1)" font-size="10.2" class="t">10</text>
<text transform="translate(374.7 96.8) rotate(-90) scale(.95 1)" font-size="9.3">1</text>
<text transform="translate(381.6 81.9) rotate(-90) scale(.8 1)" font-size="10.2" class="t">10</text>
<text transform="translate(374.7 73) rotate(-90) scale(.95 1)" font-size="9.3">2</text>
<text transform="translate(381.6 58.1) rotate(-90) scale(.8 1)" font-size="10.2" class="t">10</text>
<text transform="translate(374.7 49.2) rotate(-90) scale(.95 1)" font-size="9.3">3</text>
<text transform="translate(381.6 35.4) rotate(-90) scale(.8 1)" font-size="10.2" class="t">10</text>
<text transform="translate(374.7 26.5) rotate(-90) scale(.95 1)" font-size="9.3">4</text>
<ellipse cx="89.5" cy="43" rx="11" ry="6.8" transform="rotate(8 89.5 43)" fill="none" stroke="#111" stroke-width="1.4"/>
<path d="M100.4 44.4C102 40 105 36 108 34 C111 32 114 30 117 28.3 L157.5 28 L127.3 60.8 L116.7 63.7 C110 61 104 56 101.3 52Z" fill="none" stroke="#111" stroke-width="1.4"/>
<text x="64.5" y="45.3" font-size="9.4" text-anchor="start">R2</text>
<text x="140.6" y="57.8" font-size="9.4" text-anchor="start">R1</text>
<path d="M239.8 44.3L243.7 38.5 248.5 37.2 256.2 37.9 262.9 42.3 260 49 248.5 50 242.7 48.1Z" fill="none" stroke="#111" stroke-width="1.4"/>
<path d="M263.8 47.2L272.5 31.8 282.1 28.3 320.6 28 292.7 59.7 287 64.5 277.3 64.5 269.6 59.7Z" fill="none" stroke="#111" stroke-width="1.4"/>
<path d="M232 44.5h8" stroke="#111" stroke-width="1" stroke-dasharray="1 1"/>
<text x="229.3" y="40.8" font-size="9.4" text-anchor="start">R2</text>
<text x="302.2" y="57.5" font-size="9.4" text-anchor="start">R1</text>
<rect x="398.5" y="38.5" width="52" height="46.5" fill="none" stroke="#111" stroke-width="1.4"/>
<rect x="453.5" y="30.5" width="53" height="45.5" fill="none" stroke="#111" stroke-width="1.4"/>
<text x="401.3" y="52.7" font-size="9.4" text-anchor="start">R3</text>
<text x="489.8" y="73.2" font-size="9.4" text-anchor="start">R1</text>
<text x="95.3" y="154" font-size="14.8" text-anchor="middle" class="b">Gr-1</text>
<text x="270.6" y="154" font-size="14.8" text-anchor="middle" class="b">NIMP-R14</text>
<text x="448.4" y="154" font-size="14.8" text-anchor="middle" class="b">Gr-1</text>
<text transform="translate(11.2 69.8) rotate(-90)" font-size="14.6" text-anchor="middle">7/4</text>
<text transform="translate(186.6 70.3) rotate(-90)" font-size="14.6" text-anchor="middle">7/4</text>
<text transform="translate(360.6 74.8) rotate(-90)" font-size="14.6" text-anchor="middle">Mac-1</text>
<path d="M109 273.6 110.6 273.6 110.6 258.5 112.2 258.5 112.2 254.8 113.8 254.8 113.8 245.6 115.4 245.6 115.4 229.9 117 229.9 117 226.9 118.6 226.9 118.6 226.8 120.2 226.8 120.2 215.7 121.8 215.7 121.8 206.5 123.4 206.5 123.4 196.8 125 196.8 125 204.5 126.6 204.5 126.6 218.1 128.2 218.1 128.2 213 129.8 213 129.8 195.5 131.4 195.5 131.4 209.5 133 209.5 133 227.8 134.6 227.8 134.6 235.2 136.2 235.2 136.2 244.4 137.8 244.4 137.8 255.7 139.4 255.7 139.4 258.7 141 258.7 141 263.8 142.6 263.8 142.6 270.2 144.2 270.2 144.2 274.2 145.8 274.2 145.8 273.5 146 273.5 L146 275.5 L109 275.5Z" fill="#bbbbbb" stroke="none"/>
<path d="M39 272.6 40 260.6 41 255.8 42 259.5 43 258.8 44 261.3 45 259 46 254.1 47 253.5 48 253.2 49 251.7 50 247.5 51 243.3 52 237.5 53 234.7 54 231.7 55 228.1 56 227.3 57 224.3 58 221.1 59 216.2 60 214.3 61 209.7 62 203 63 198.8 64 209.9 65 213.5 66 214.3 67 215.9 68 217.6 69 212.6 70 208.7 71 203.5 72 204 73 208.4 74 218.6 75 225.3 76 232.5 77 237.2 78 243 79 255 80 266.6 81 272.8 82 274.1 83 273.5 84 274.1 85 272.6" fill="none" stroke="#111" stroke-width="1.35" stroke-linejoin="round" stroke-dasharray="3.2 2.2"/>
<path d="M69 272.8 70.6 272.8 70.6 270.2 72.2 270.2 72.2 269.9 73.8 269.9 73.8 267.5 75.4 267.5 75.4 264.9 77 264.9 77 262.8 78.6 262.8 78.6 258.7 80.2 258.7 80.2 255.1 81.8 255.1 81.8 246.2 83.4 246.2 83.4 239.9 85 239.9 85 229.2 86.6 229.2 86.6 223.9 88.2 223.9 88.2 214.4 89.8 214.4 89.8 204.8 91.4 204.8 91.4 208.8 93 208.8 93 204 94.6 204 94.6 199.5 96.2 199.5 96.2 198.9 97.8 198.9 97.8 195.5 99.4 195.5 99.4 207.9 101 207.9 101 218 102.6 218 102.6 225.9 104.2 225.9 104.2 234.3 105.8 234.3 105.8 244.6 107.4 244.6 107.4 251.7 109 251.7 109 258.7 110.6 258.7 110.6 264.8 112.2 264.8 112.2 267.3 113.8 267.3 113.8 269.7 115.4 269.7 115.4 271.1 117 271.1 117 272.5 118.6 272.5 118.6 271.6 120.2 271.6 120.2 272.3 121.8 272.3 121.8 273.8 123.4 273.8 123.4 273.5 125 273.5 125 273.7 126.6 273.7 126.6 273.2 128.2 273.2 128.2 273.7 129.8 273.7 129.8 273.9 131.4 273.9 131.4 273.5 133 273.5 133 274.2 134.6 274.2 134.6 273.5 136.2 273.5 136.2 274 137.8 274 137.8 273.2 139.4 273.2 139.4 273.7 140 273.7" fill="none" stroke="#111" stroke-width="1.35" stroke-linejoin="round"/>
<path d="M109 273.6 110.6 273.6 110.6 258.5 112.2 258.5 112.2 254.8 113.8 254.8 113.8 245.6 115.4 245.6 115.4 229.9 117 229.9 117 226.9 118.6 226.9 118.6 226.8 120.2 226.8 120.2 215.7 121.8 215.7 121.8 206.5 123.4 206.5 123.4 196.8 125 196.8 125 204.5 126.6 204.5 126.6 218.1 128.2 218.1 128.2 213 129.8 213 129.8 195.5 131.4 195.5 131.4 209.5 133 209.5 133 227.8 134.6 227.8 134.6 235.2 136.2 235.2 136.2 244.4 137.8 244.4 137.8 255.7 139.4 255.7 139.4 258.7 141 258.7 141 263.8 142.6 263.8 142.6 270.2 144.2 270.2 144.2 274.2 145.8 274.2 145.8 273.5 146 273.5" fill="none" stroke="#111" stroke-width="1.35" stroke-linejoin="round"/>
<rect x="36.5" y="195.5" width="125" height="80" fill="none" stroke="#111" stroke-width="1.3"/>
<path d="M36.5 275.5v4M45.9 275.5v2.6M51.4 275.5v2.6M55.3 275.5v2.6M58.3 275.5v2.6M60.8 275.5v2.6M62.9 275.5v2.6M64.7 275.5v2.6M66.3 275.5v2.6M67.8 275.5v4M77.2 275.5v2.6M82.7 275.5v2.6M86.6 275.5v2.6M89.6 275.5v2.6M92.1 275.5v2.6M94.2 275.5v2.6M96 275.5v2.6M97.6 275.5v2.6M99 275.5v4M108.4 275.5v2.6M113.9 275.5v2.6M117.8 275.5v2.6M120.8 275.5v2.6M123.3 275.5v2.6M125.4 275.5v2.6M127.2 275.5v2.6M128.8 275.5v2.6M130.2 275.5v4M139.7 275.5v2.6M145.2 275.5v2.6M149.1 275.5v2.6M152.1 275.5v2.6M154.6 275.5v2.6M156.7 275.5v2.6M158.5 275.5v2.6M160.1 275.5v2.6M161.5 275.5v4" stroke="#111" stroke-width="1.1" fill="none"/>
<path d="M36.5 275.5h-4.5M36.5 272.4h-2.6M36.5 269.3h-2.6M36.5 266.2h-2.6M36.5 263.1h-2.6M36.5 260h-4.5M36.5 256.9h-2.6M36.5 253.8h-2.6M36.5 250.7h-2.6M36.5 247.6h-2.6M36.5 244.5h-4.5M36.5 241.4h-2.6M36.5 238.3h-2.6M36.5 235.2h-2.6M36.5 232.1h-2.6M36.5 229h-4.5M36.5 225.9h-2.6M36.5 222.8h-2.6M36.5 219.7h-2.6M36.5 216.6h-2.6M36.5 213.5h-4.5M36.5 210.4h-2.6M36.5 207.3h-2.6M36.5 204.2h-2.6M36.5 201.1h-2.6M36.5 198h-4.5" stroke="#111" stroke-width="1" fill="none"/>
<text transform="translate(30.4 290.7) scale(.8 1)" font-size="10.2" class="t">10</text>
<text transform="translate(39 284.4) scale(.95 1)" font-size="9.3">0</text>
<text transform="translate(61.6 290.7) scale(.8 1)" font-size="10.2" class="t">10</text>
<text transform="translate(70.2 284.4) scale(.95 1)" font-size="9.3">1</text>
<text transform="translate(92.9 290.7) scale(.8 1)" font-size="10.2" class="t">10</text>
<text transform="translate(101.5 284.4) scale(.95 1)" font-size="9.3">2</text>
<text transform="translate(124.2 290.7) scale(.8 1)" font-size="10.2" class="t">10</text>
<text transform="translate(132.8 284.4) scale(.95 1)" font-size="9.3">3</text>
<text transform="translate(153.1 290.7) scale(.8 1)" font-size="10.2" class="t">10</text>
<text transform="translate(162.8 284.4) scale(.95 1)" font-size="9.3">4</text>
<text transform="translate(27.4 274.3) rotate(-90)" font-size="8.2" text-anchor="middle">0</text>
<text transform="translate(27.4 258.8) rotate(-90)" font-size="8.2" text-anchor="middle">10</text>
<text transform="translate(27.4 243.3) rotate(-90)" font-size="8.2" text-anchor="middle">20</text>
<text transform="translate(27.4 227.8) rotate(-90)" font-size="8.2" text-anchor="middle">30</text>
<text transform="translate(27.4 212.3) rotate(-90)" font-size="8.2" text-anchor="middle">40</text>
<text transform="translate(27.4 196.8) rotate(-90)" font-size="8.2" text-anchor="middle">50</text>
<text transform="translate(17.8 237.5) rotate(-90)" font-size="9.4" text-anchor="middle">Counts</text>
<text x="98.5" y="305.6" font-size="15" text-anchor="middle" class="b">Ly-6C</text>
<path d="M254 274.2 255 273.2 256 271 257 268.6 258 266.9 259 265.9 260 262.6 261 260.1 262 259.1 263 255.6 264 254.6 265 249.1 266 241.7 267 231.6 268 225.2 269 218.4 270 211.3 271 206.1 272 202.9 273 199 274 197.2 275 198 276 201.1 277 204.1 278 210 279 215.9 280 218.5 281 224.7 282 229.3 283 237.3 284 242.3 285 249.6 286 252.8 287 257.5 288 260.1 289 262.6 290 262.3 291 267.7 292 267.6 293 270 294 270.7 295 270.8 296 271.8 297 270.7 298 271.8 299 271.4 300 271.7 301 272.8 302 272.8 303 272.7 304 272.7 305 273.1 306 271.8 307 271.7 308 273.3 309 272.3 310 272.1 311 273.3 312 273.2 313 273.4 314 272.6 315 272.1 316 273.6 317 273.5 318 272.6 319 272.9 320 274 321 273.1 322 273.4 323 273.7 324 273 325 272 326 273 327 273.8 328 272.4 329 273.1 330 272.6 331 271.5 332 272.7 333 273.7 L333 276 L254 276Z" fill="#bbbbbb" stroke="none"/>
<path d="M213 272.4 214 266.5 215 266.6 216 265.3 217 264.6 218 264.7 219 262.3 220 262.1 221 260.8 222 259.6 223 258.1 224 257.5 225 254.3 226 253.5 227 249.5 228 246 229 242.4 230 236.5 231 231 232 227.3 233 220.5 234 215.7 235 212.5 236 207.1 237 205.1 238 199.7 239 196.9 240 200.3 241 205.8 242 213.6 243 221 244 227.7 245 234 246 241.5 247 247.7 248 252.8 249 257.8 250 260.1 251 262.6 252 266.2 253 271.7 254 274.1 255 273.6 256 274.1" fill="none" stroke="#111" stroke-width="1.35" stroke-linejoin="round" stroke-dasharray="3.2 2.2"/>
<path d="M218 274 219 274.7 220 272.9 221 272.6 222 272.6 223 272.4 224 270.7 225 270.6 226 268.9 227 268.3 228 265.6 229 264.7 230 263.2 231 260.6 232 259.5 233 257.4 234 254.3 235 252.3 236 246.8 237 241.7 238 237.7 239 232.4 240 225.7 241 222.3 242 217.4 243 214.7 244 209.9 245 207.8 246 202.1 247 202 248 199.9 249 196.9 250 199 251 200.6 252 201.2 253 203.8 254 203.8 255 208.3 256 211.7 257 215.6 258 218.1 259 223.1 260 227.3 261 234.4 262 237.5 263 242.3 264 247.9 265 250.4 266 252.4 267 255.4 268 258.3 269 259.7 270 262.2 271 261.8 272 263.5 273 262.4 274 265.9 275 265.2 276 267.2 277 268.3 278 267.6 279 268.4 280 269.5 281 270.4 282 271.1 283 271.3 284 271.1 285 272.9 286 272 287 272.7 288 271.9 289 271.4 290 272 291 272.4 292 273.1 293 271.7 294 273.3 295 271.9 296 272 297 272.2 298 273.4 299 272.9 300 273.1 301 272.2 302 273.6 303 273.1 304 272.9 305 272.6 306 273.1 307 273.1 308 273.8 309 273.5 310 273 311 272 312 273 313 271.7 314 272.2 315 274.2 316 272.8 317 273.3 318 273.3 319 273.4 320 272.8 321 272.7 322 272.5 323 273.8 324 273.3 325 273.9 326 273.4 327 275.5 328 274.1 329 273.2 330 273 331 273.6 332 272.2 333 273.3" fill="none" stroke="#111" stroke-width="1.35" stroke-linejoin="round"/>
<path d="M254 274.2 255 273.2 256 271 257 268.6 258 266.9 259 265.9 260 262.6 261 260.1 262 259.1 263 255.6 264 254.6 265 249.1 266 241.7 267 231.6 268 225.2 269 218.4 270 211.3 271 206.1 272 202.9 273 199 274 197.2 275 198 276 201.1 277 204.1 278 210 279 215.9 280 218.5 281 224.7 282 229.3 283 237.3 284 242.3 285 249.6 286 252.8 287 257.5 288 260.1 289 262.6 290 262.3 291 267.7 292 267.6 293 270 294 270.7 295 270.8 296 271.8 297 270.7 298 271.8 299 271.4 300 271.7 301 272.8 302 272.8 303 272.7 304 272.7 305 273.1 306 271.8 307 271.7 308 273.3 309 272.3 310 272.1 311 273.3 312 273.2 313 273.4 314 272.6 315 272.1 316 273.6 317 273.5 318 272.6 319 272.9 320 274 321 273.1 322 273.4 323 273.7 324 273 325 272 326 273 327 273.8 328 272.4 329 273.1 330 272.6 331 271.5 332 272.7 333 273.7" fill="none" stroke="#111" stroke-width="1.35" stroke-linejoin="round"/>
<rect x="210.5" y="195.5" width="125" height="80.5" fill="none" stroke="#111" stroke-width="1.3"/>
<path d="M210.5 276v4M219.9 276v2.6M225.4 276v2.6M229.3 276v2.6M232.3 276v2.6M234.8 276v2.6M236.9 276v2.6M238.7 276v2.6M240.3 276v2.6M241.8 276v4M251.2 276v2.6M256.7 276v2.6M260.6 276v2.6M263.6 276v2.6M266.1 276v2.6M268.2 276v2.6M270 276v2.6M271.6 276v2.6M273 276v4M282.4 276v2.6M287.9 276v2.6M291.8 276v2.6M294.8 276v2.6M297.3 276v2.6M299.4 276v2.6M301.2 276v2.6M302.8 276v2.6M304.2 276v4M313.7 276v2.6M319.2 276v2.6M323.1 276v2.6M326.1 276v2.6M328.6 276v2.6M330.7 276v2.6M332.5 276v2.6M334.1 276v2.6M335.5 276v4" stroke="#111" stroke-width="1.1" fill="none"/>
<path d="M210.5 276h-4.5M210.5 274.1h-2.6M210.5 272.3h-2.6M210.5 270.4h-2.6M210.5 268.6h-2.6M210.5 266.7h-4.5M210.5 264.9h-2.6M210.5 263h-2.6M210.5 261.2h-2.6M210.5 259.3h-2.6M210.5 257.5h-4.5M210.5 255.6h-2.6M210.5 253.8h-2.6M210.5 251.9h-2.6M210.5 250.1h-2.6M210.5 248.2h-4.5M210.5 246.4h-2.6M210.5 244.5h-2.6M210.5 242.7h-2.6M210.5 240.8h-2.6M210.5 239h-4.5M210.5 237.1h-2.6M210.5 235.3h-2.6M210.5 233.4h-2.6M210.5 231.6h-2.6M210.5 229.7h-4.5M210.5 227.9h-2.6M210.5 226h-2.6M210.5 224.2h-2.6M210.5 222.3h-2.6M210.5 220.5h-4.5M210.5 218.6h-2.6M210.5 216.8h-2.6M210.5 214.9h-2.6M210.5 213.1h-2.6M210.5 211.2h-4.5M210.5 209.4h-2.6M210.5 207.5h-2.6M210.5 205.7h-2.6M210.5 203.8h-2.6M210.5 202h-4.5M210.5 200.1h-2.6M210.5 198.3h-2.6M210.5 196.4h-2.6" stroke="#111" stroke-width="1" fill="none"/>
<text transform="translate(204.4 291.2) scale(.8 1)" font-size="10.2" class="t">10</text>
<text transform="translate(213 284.9) scale(.95 1)" font-size="9.3">0</text>
<text transform="translate(235.7 291.2) scale(.8 1)" font-size="10.2" class="t">10</text>
<text transform="translate(244.2 284.9) scale(.95 1)" font-size="9.3">1</text>
<text transform="translate(266.9 291.2) scale(.8 1)" font-size="10.2" class="t">10</text>
<text transform="translate(275.5 284.9) scale(.95 1)" font-size="9.3">2</text>
<text transform="translate(298.1 291.2) scale(.8 1)" font-size="10.2" class="t">10</text>
<text transform="translate(306.8 284.9) scale(.95 1)" font-size="9.3">3</text>
<text transform="translate(327.1 291.2) scale(.8 1)" font-size="10.2" class="t">10</text>
<text transform="translate(336.9 284.9) scale(.95 1)" font-size="9.3">4</text>
<text transform="translate(201.4 274.8) rotate(-90)" font-size="8.2" text-anchor="middle">0</text>
<text transform="translate(201.4 200.8) rotate(-90)" font-size="8.2" text-anchor="middle">80</text>
<text transform="translate(191.8 237.8) rotate(-90)" font-size="9.4" text-anchor="middle">Counts</text>
<text x="268" y="306.1" font-size="15" text-anchor="middle" class="b">F4/80</text>
<path d="M472 274.5 473 273 474 271.6 475 269.7 476 266 477 261.6 478 248.3 479 232.9 480 217.8 481 199.7 482 196.6 483 210.8 484 227.6 485 243 486 253.9 487 263.3 488 266.5 489 269.8 490 271.4 491 272.8 492 273.3 493 273.2 494 273.7 495 273.1 496 273.2 497 274.1 498 273.8 499 273.9 500 273.7 501 273.3 502 274.5 503 273.3 504 274.1 505 274.2 506 273.7 507 273.7 508 272.8 509 274 510 273.9 L510 275.5 L472 275.5Z" fill="#bbbbbb" stroke="none"/>
<path d="M392 274 393 273.5 394 273.2 395 270.1 396 268.7 397 266.7 398 264.3 399 262.4 400 258.8 401 255.5 402 248.4 403 243.5 404 235.9 405 227.5 406 221.2 407 214.8 408 209.5 409 204.5 410 199.2 411 196 412 200.7 413 210.1 414 222.3 415 239.8 416 251.1 417 259.4 418 266 419 269.6 420 271.1 421 272.9 422 272.6 423 273.7" fill="none" stroke="#111" stroke-width="1.35" stroke-linejoin="round" stroke-dasharray="3.2 2.2"/>
<path d="M440 274.1 441 273.4 442 274.5 443 273.4 444 273.7 445 273.6 446 274.1 447 273.3 448 272.9 449 272.9 450 273 451 272.3 452 272.5 453 273.1 454 271.9 455 270.9 456 268.6 457 265.6 458 264 459 256.6 460 246.2 461 234.5 462 219.5 463 210.6 464 199.7 465 196.5 466 197.6 467 209.6 468 221.4 469 235.6 470 244.1 471 251.6 472 256.7 473 260.1 474 261.5 475 264.5 476 265.7 477 268.6 478 269.1 479 269.8 480 271.6 481 271.3 482 272.8 483 272.9 484 273 485 273.3 486 273.9 487 274.2 488 274.3 489 274.7 490 273.3" fill="none" stroke="#111" stroke-width="1.35" stroke-linejoin="round"/>
<path d="M472 274.5 473 273 474 271.6 475 269.7 476 266 477 261.6 478 248.3 479 232.9 480 217.8 481 199.7 482 196.6 483 210.8 484 227.6 485 243 486 253.9 487 263.3 488 266.5 489 269.8 490 271.4 491 272.8 492 273.3 493 273.2 494 273.7 495 273.1 496 273.2 497 274.1 498 273.8 499 273.9 500 273.7 501 273.3 502 274.5 503 273.3 504 274.1 505 274.2 506 273.7 507 273.7 508 272.8 509 274 510 273.9" fill="none" stroke="#111" stroke-width="1.35" stroke-linejoin="round"/>
<rect x="386.5" y="196" width="125" height="79.5" fill="none" stroke="#111" stroke-width="1.3"/>
<path d="M386.5 275.5v4M395.9 275.5v2.6M401.4 275.5v2.6M405.3 275.5v2.6M408.3 275.5v2.6M410.8 275.5v2.6M412.9 275.5v2.6M414.7 275.5v2.6M416.3 275.5v2.6M417.8 275.5v4M427.2 275.5v2.6M432.7 275.5v2.6M436.6 275.5v2.6M439.6 275.5v2.6M442.1 275.5v2.6M444.2 275.5v2.6M446 275.5v2.6M447.6 275.5v2.6M449 275.5v4M458.4 275.5v2.6M463.9 275.5v2.6M467.8 275.5v2.6M470.8 275.5v2.6M473.3 275.5v2.6M475.4 275.5v2.6M477.2 275.5v2.6M478.8 275.5v2.6M480.2 275.5v4M489.7 275.5v2.6M495.2 275.5v2.6M499.1 275.5v2.6M502.1 275.5v2.6M504.6 275.5v2.6M506.7 275.5v2.6M508.5 275.5v2.6M510.1 275.5v2.6M511.5 275.5v4" stroke="#111" stroke-width="1.1" fill="none"/>
<path d="M386.5 275.5h-4.5M386.5 272.2h-2.6M386.5 268.9h-2.6M386.5 265.6h-2.6M386.5 262.3h-2.6M386.5 259h-4.5M386.5 255.7h-2.6M386.5 252.4h-2.6M386.5 249.1h-2.6M386.5 245.8h-2.6M386.5 242.5h-4.5M386.5 239.2h-2.6M386.5 235.9h-2.6M386.5 232.6h-2.6M386.5 229.3h-2.6M386.5 226h-4.5M386.5 222.7h-2.6M386.5 219.4h-2.6M386.5 216.1h-2.6M386.5 212.8h-2.6M386.5 209.5h-4.5M386.5 206.2h-2.6M386.5 202.9h-2.6M386.5 199.6h-2.6M386.5 196.3h-2.6" stroke="#111" stroke-width="1" fill="none"/>
<text transform="translate(380.4 290.7) scale(.8 1)" font-size="10.2" class="t">10</text>
<text transform="translate(389 284.4) scale(.95 1)" font-size="9.3">0</text>
<text transform="translate(411.6 290.7) scale(.8 1)" font-size="10.2" class="t">10</text>
<text transform="translate(420.2 284.4) scale(.95 1)" font-size="9.3">1</text>
<text transform="translate(442.9 290.7) scale(.8 1)" font-size="10.2" class="t">10</text>
<text transform="translate(451.5 284.4) scale(.95 1)" font-size="9.3">2</text>
<text transform="translate(474.1 290.7) scale(.8 1)" font-size="10.2" class="t">10</text>
<text transform="translate(482.8 284.4) scale(.95 1)" font-size="9.3">3</text>
<text transform="translate(503.1 290.7) scale(.8 1)" font-size="10.2" class="t">10</text>
<text transform="translate(512.9 284.4) scale(.95 1)" font-size="9.3">4</text>
<text transform="translate(377.4 274.3) rotate(-90)" font-size="8.2" text-anchor="middle">0</text>
<text transform="translate(377.4 208.3) rotate(-90)" font-size="8.2" text-anchor="middle">200</text>
<text transform="translate(367.8 237.8) rotate(-90)" font-size="9.4" text-anchor="middle">Counts</text>
<text x="444.6" y="305.6" font-size="15" text-anchor="middle" class="b">Moma-2</text>
<path d="M99 399.9 100 399 101 399 102 397.5 103 396.8 104 396.3 105 394.5 106 393.4 107 390.4 108 385.3 109 375.6 110 363.9 111 354.9 112 346.2 113 336.7 114 329.9 115 324 116 326.4 117 333.1 118 343.6 119 354.7 120 365.8 121 377.1 122 385.7 123 391.9 124 393.6 125 395.1 126 396.2 127 396.4 128 397.6 129 397.4 130 397.7 131 399 132 398.8 133 399.9 134 398.4 135 398.7 136 398.8 137 398.8 138 398.5 139 400.3 140 398.4 141 398.8 142 398.9 143 400 144 399.7 145 398.6 146 399.3 147 398.9 148 398.3 149 399.8 150 398.8 151 399.1 152 398.9 153 400.1 154 398.8 155 399.6 156 399.4 157 398.9 158 400.5 159 400.5 160 399.9 L160 401 L99 401Z" fill="#bbbbbb" stroke="none"/>
<path d="M39 398.1 40 392.7 41 389.3 42 388.5 43 388.2 44 387.9 45 384.4 46 380.5 47 379.3 48 377 49 376.6 50 374 51 371.3 52 367.9 53 363.2 54 348.9 55 346 56 342 57 341.9 58 338.8 59 336.3 60 332.8 61 329.9 62 326.7 63 326.3 64 324 65 323.9 66 322.5 67 322.9 68 325.8 69 335.9 70 349.9 71 366.5 72 379.1 73 387.5 74 396.6 75 398.1 76 398.2" fill="none" stroke="#111" stroke-width="1.35" stroke-linejoin="round" stroke-dasharray="3.2 2.2"/>
<path d="M60 400.5 61 398.7 62 399.9 63 400 64 399.3 65 399 66 398.3 67 398.7 68 396.6 69 397.4 70 396 71 394.9 72 393.5 73 393 74 390.8 75 390.6 76 387.4 77 385.2 78 382.3 79 378.3 80 372.9 81 370.2 82 361.5 83 357.3 84 351 85 343.6 86 337.8 87 333.8 88 329.4 89 325.5 90 322.2 91 322 92 326 93 337.6 94 348.2 95 356.1 96 365.2 97 371.3 98 377.1 99 382.3 100 385.3 101 389.1 102 391.3 103 394.6 104 396 105 394.5 106 397.3 107 397.2 108 397.9 109 398.2 110 399.2 111 398.4 112 399.4 113 397.5 114 399.2 115 398.7 116 398.4 117 398.4 118 399.4 119 398.5 120 398.4 121 398.5 122 398 123 398.6 124 399.6 125 398.6 126 398.3 127 399 128 399.6 129 398.7 130 398.3 131 397.8 132 398.8 133 399.3 134 398.3 135 399 136 399.2 137 399.9 138 400.4 139 398.9 140 399.7 141 400 142 397.8 143 399.9 144 398.5 145 399.5 146 398.8 147 398.2 148 400.5 149 400.1 150 398.6 151 399.8 152 400.4 153 400.1 154 398.9 155 399.8 156 399.7 157 399.7 158 399 159 399.5 160 398.8" fill="none" stroke="#111" stroke-width="1.35" stroke-linejoin="round"/>
<path d="M99 399.9 100 399 101 399 102 397.5 103 396.8 104 396.3 105 394.5 106 393.4 107 390.4 108 385.3 109 375.6 110 363.9 111 354.9 112 346.2 113 336.7 114 329.9 115 324 116 326.4 117 333.1 118 343.6 119 354.7 120 365.8 121 377.1 122 385.7 123 391.9 124 393.6 125 395.1 126 396.2 127 396.4 128 397.6 129 397.4 130 397.7 131 399 132 398.8 133 399.9 134 398.4 135 398.7 136 398.8 137 398.8 138 398.5 139 400.3 140 398.4 141 398.8 142 398.9 143 400 144 399.7 145 398.6 146 399.3 147 398.9 148 398.3 149 399.8 150 398.8 151 399.1 152 398.9 153 400.1 154 398.8 155 399.6 156 399.4 157 398.9 158 400.5 159 400.5 160 399.9" fill="none" stroke="#111" stroke-width="1.35" stroke-linejoin="round"/>
<rect x="36.5" y="322" width="125" height="79" fill="none" stroke="#111" stroke-width="1.3"/>
<path d="M36.5 401v4M45.9 401v2.6M51.4 401v2.6M55.3 401v2.6M58.3 401v2.6M60.8 401v2.6M62.9 401v2.6M64.7 401v2.6M66.3 401v2.6M67.8 401v4M77.2 401v2.6M82.7 401v2.6M86.6 401v2.6M89.6 401v2.6M92.1 401v2.6M94.2 401v2.6M96 401v2.6M97.6 401v2.6M99 401v4M108.4 401v2.6M113.9 401v2.6M117.8 401v2.6M120.8 401v2.6M123.3 401v2.6M125.4 401v2.6M127.2 401v2.6M128.8 401v2.6M130.2 401v4M139.7 401v2.6M145.2 401v2.6M149.1 401v2.6M152.1 401v2.6M154.6 401v2.6M156.7 401v2.6M158.5 401v2.6M160.1 401v2.6M161.5 401v4" stroke="#111" stroke-width="1.1" fill="none"/>
<path d="M36.5 401h-4.5M36.5 397.8h-2.6M36.5 394.7h-2.6M36.5 391.5h-2.6M36.5 388.3h-4.5M36.5 385.2h-2.6M36.5 382h-2.6M36.5 378.8h-2.6M36.5 375.7h-4.5M36.5 372.5h-2.6M36.5 369.3h-2.6M36.5 366.2h-2.6M36.5 363h-4.5M36.5 359.8h-2.6M36.5 356.7h-2.6M36.5 353.5h-2.6M36.5 350.3h-4.5M36.5 347.2h-2.6M36.5 344h-2.6M36.5 340.8h-2.6M36.5 337.6h-4.5M36.5 334.5h-2.6M36.5 331.3h-2.6M36.5 328.1h-2.6M36.5 325h-4.5" stroke="#111" stroke-width="1" fill="none"/>
<text transform="translate(30.4 416.2) scale(.8 1)" font-size="10.2" class="t">10</text>
<text transform="translate(39 409.9) scale(.95 1)" font-size="9.3">0</text>
<text transform="translate(61.6 416.2) scale(.8 1)" font-size="10.2" class="t">10</text>
<text transform="translate(70.2 409.9) scale(.95 1)" font-size="9.3">1</text>
<text transform="translate(92.9 416.2) scale(.8 1)" font-size="10.2" class="t">10</text>
<text transform="translate(101.5 409.9) scale(.95 1)" font-size="9.3">2</text>
<text transform="translate(124.2 416.2) scale(.8 1)" font-size="10.2" class="t">10</text>
<text transform="translate(132.8 409.9) scale(.95 1)" font-size="9.3">3</text>
<text transform="translate(153.1 416.2) scale(.8 1)" font-size="10.2" class="t">10</text>
<text transform="translate(162.8 409.9) scale(.95 1)" font-size="9.3">4</text>
<text transform="translate(27.4 399.8) rotate(-90)" font-size="8.2" text-anchor="middle">0</text>
<text transform="translate(27.4 323.8) rotate(-90)" font-size="8.2" text-anchor="middle">120</text>
<text transform="translate(17.8 363.5) rotate(-90)" font-size="9.4" text-anchor="middle">Counts</text>
<text x="96" y="434.1" font-size="15" text-anchor="middle" class="b">Alpha-4 Integrin</text>
<path d="M282 400.2 283 399.1 284 399.3 285 396.7 286 396.3 287 397.5 288 396.1 289 394.7 290 393.8 291 393.1 292 392.5 293 390 294 388.7 295 387.7 296 383 297 382 298 378.1 299 371.3 300 365.3 301 356.6 302 349.5 303 344.6 304 338.9 305 334.5 306 332.4 307 327 308 323.3 309 324.8 310 334.1 311 345.8 312 357 313 366.3 314 376.6 315 382.5 316 388.8 317 393.6 318 396.1 319 397 320 398.7 321 399.6 322 399.4 323 399.6 324 399.5 325 399.6 L325 402 L282 402Z" fill="#bbbbbb" stroke="none"/>
<path d="M212 400.7 213 396.9 214 393.3 215 391.7 216 389.7 217 388.4 218 388.6 219 386.2 220 384.5 221 384.3 222 383.1 223 381 224 378.8 225 376.7 226 373.7 227 370.1 228 366.1 229 359.7 230 354.7 231 348.7 232 344.3 233 341.3 234 338.8 235 335 236 331.8 237 329.2 238 326 239 323 240 325.9 241 331.1 242 340 243 342.8 244 350.4 245 357.1 246 367.1 247 374 248 380.4 249 385.2 250 387.1 251 389.8 252 392 253 395.3 254 397 255 397.9 256 399.7 257 400.2 258 400 259 399.2 260 399.7 261 399.1 262 400.1 263 399.4 264 400 265 399.8 266 399.6 267 400.6 268 400 269 400.3 270 399.8 271 399.6 272 400 273 399.7 274 399.1 275 400.3 276 400.8 277 399.8 278 399.8 279 399.8 280 399.9 281 398.8 282 399.7 283 398.6 284 400.4 285 399.4" fill="none" stroke="#111" stroke-width="1.35" stroke-linejoin="round" stroke-dasharray="3.2 2.2"/>
<path d="M280 400.4 281 398.9 282 399.9 283 399 284 398.8 285 397.7 286 397.9 287 397.5 288 397.1 289 396.8 290 395 291 395.1 292 395 293 393.8 294 392.7 295 392.4 296 391.8 297 390.3 298 386.6 299 386.2 300 383.4 301 381.7 302 380.3 303 376.8 304 373.4 305 369.9 306 367.6 307 365 308 361 309 358.5 310 355.8 311 350.2 312 343.4 313 336.6 314 328.6 315 324.2 316 324.3 317 332.2 318 340.5 319 345.8 320 351 321 355.5 322 361.1 323 365.9 324 369 325 372.4 326 375.9 327 379.6 328 383.8 329 387.2 330 389.6 331 392.4 332 394 333 398.1 334 398.7" fill="none" stroke="#111" stroke-width="1.35" stroke-linejoin="round"/>
<path d="M282 400.2 283 399.1 284 399.3 285 396.7 286 396.3 287 397.5 288 396.1 289 394.7 290 393.8 291 393.1 292 392.5 293 390 294 388.7 295 387.7 296 383 297 382 298 378.1 299 371.3 300 365.3 301 356.6 302 349.5 303 344.6 304 338.9 305 334.5 306 332.4 307 327 308 323.3 309 324.8 310 334.1 311 345.8 312 357 313 366.3 314 376.6 315 382.5 316 388.8 317 393.6 318 396.1 319 397 320 398.7 321 399.6 322 399.4 323 399.6 324 399.5 325 399.6" fill="none" stroke="#111" stroke-width="1.35" stroke-linejoin="round"/>
<rect x="210.5" y="323" width="125" height="79" fill="none" stroke="#111" stroke-width="1.3"/>
<path d="M210.5 402v4M219.9 402v2.6M225.4 402v2.6M229.3 402v2.6M232.3 402v2.6M234.8 402v2.6M236.9 402v2.6M238.7 402v2.6M240.3 402v2.6M241.8 402v4M251.2 402v2.6M256.7 402v2.6M260.6 402v2.6M263.6 402v2.6M266.1 402v2.6M268.2 402v2.6M270 402v2.6M271.6 402v2.6M273 402v4M282.4 402v2.6M287.9 402v2.6M291.8 402v2.6M294.8 402v2.6M297.3 402v2.6M299.4 402v2.6M301.2 402v2.6M302.8 402v2.6M304.2 402v4M313.7 402v2.6M319.2 402v2.6M323.1 402v2.6M326.1 402v2.6M328.6 402v2.6M330.7 402v2.6M332.5 402v2.6M334.1 402v2.6M335.5 402v4" stroke="#111" stroke-width="1.1" fill="none"/>
<path d="M210.5 402h-4.5M210.5 400.2h-2.6M210.5 398.4h-2.6M210.5 396.7h-2.6M210.5 394.9h-2.6M210.5 393.1h-4.5M210.5 391.3h-2.6M210.5 389.6h-2.6M210.5 387.8h-2.6M210.5 386h-2.6M210.5 384.2h-4.5M210.5 382.4h-2.6M210.5 380.7h-2.6M210.5 378.9h-2.6M210.5 377.1h-2.6M210.5 375.3h-4.5M210.5 373.6h-2.6M210.5 371.8h-2.6M210.5 370h-2.6M210.5 368.2h-2.6M210.5 366.5h-4.5M210.5 364.7h-2.6M210.5 362.9h-2.6M210.5 361.1h-2.6M210.5 359.3h-2.6M210.5 357.6h-4.5M210.5 355.8h-2.6M210.5 354h-2.6M210.5 352.2h-2.6M210.5 350.5h-2.6M210.5 348.7h-4.5M210.5 346.9h-2.6M210.5 345.1h-2.6M210.5 343.3h-2.6M210.5 341.6h-2.6M210.5 339.8h-4.5M210.5 338h-2.6M210.5 336.2h-2.6M210.5 334.5h-2.6M210.5 332.7h-2.6M210.5 330.9h-4.5M210.5 329.1h-2.6M210.5 327.4h-2.6M210.5 325.6h-2.6M210.5 323.8h-2.6" stroke="#111" stroke-width="1" fill="none"/>
<text transform="translate(204.4 417.2) scale(.8 1)" font-size="10.2" class="t">10</text>
<text transform="translate(213 410.9) scale(.95 1)" font-size="9.3">0</text>
<text transform="translate(235.7 417.2) scale(.8 1)" font-size="10.2" class="t">10</text>
<text transform="translate(244.2 410.9) scale(.95 1)" font-size="9.3">1</text>
<text transform="translate(266.9 417.2) scale(.8 1)" font-size="10.2" class="t">10</text>
<text transform="translate(275.5 410.9) scale(.95 1)" font-size="9.3">2</text>
<text transform="translate(298.1 417.2) scale(.8 1)" font-size="10.2" class="t">10</text>
<text transform="translate(306.8 410.9) scale(.95 1)" font-size="9.3">3</text>
<text transform="translate(327.1 417.2) scale(.8 1)" font-size="10.2" class="t">10</text>
<text transform="translate(336.9 410.9) scale(.95 1)" font-size="9.3">4</text>
<text transform="translate(201.4 400.8) rotate(-90)" font-size="8.2" text-anchor="middle">0</text>
<text transform="translate(201.4 329.7) rotate(-90)" font-size="8.2" text-anchor="middle">80</text>
<text transform="translate(191.8 364.5) rotate(-90)" font-size="9.4" text-anchor="middle">Counts</text>
<text x="267.7" y="435.1" font-size="15" text-anchor="middle" class="b">CD11b</text>
<path d="M391 401.3 392 400.9 393 401.8 394 400.8 395 399.4 396 396.7 397 395.6 398 394.8 399 391.8 400 387.9 401 385.1 402 384.2 403 381.8 404 379.1 405 375.7 406 373.4 407 369.1 408 366.8 409 362 410 360 411 356.1 412 353.5 413 348.2 414 348.3 415 349.3 416 353.5 417 359.6 418 366.6 419 373.4 420 378.6 421 383.4 422 388.1 423 390.9 424 392.9 425 394.9 426 396.5 427 398.4 428 398.3 429 400 430 401.5 431 401.8 432 402.3 433 401.1 434 402.3 435 402.5 436 401.9 437 401.3 438 400.2 439 401.3 440 400.2 441 401.5 442 401.6 443 401.4 444 401.5 445 401.9 446 401.6 447 402.5 448 402.2 449 401.5 450 402.4 451 402.1 452 401.6 453 401.6 454 401.4 455 400.6 456 401.6 457 402.3 458 401.3 459 400.8 460 401.7 461 401.9 462 401.7 463 401.3 464 401.3 465 402 466 401.8 467 401.4 468 402.1 469 401.9 470 401.7 471 402.4 472 402.5 473 402.5 474 402 475 402.5 476 402.5 477 401.7 478 402.5 479 402.5 480 401.5 481 401.8 482 402.5 483 401.2 484 402.2 485 401.5 486 401.7 487 400.4 488 402.3 489 401.8 490 401 491 401.2 492 402.5 493 400.6 494 401.5 495 402.5 496 401.9 497 401.2 498 401.6 499 402 500 402.1 501 402.2 502 401.4 503 402.5 504 402.3 505 401.7 506 402.5 507 401.9 508 402.5 509 402.4 510 401.3 L510 403 L391 403Z" fill="#bbbbbb" stroke="none"/>
<path d="M387.5 399.5 388.5 395.9 389.5 393.4 390.5 390.6 391.5 388 392.5 387.3 393.5 383.7 394.5 379.9 395.5 377.6 396.5 373.7 397.5 370.8 398.5 367.4 399.5 365.4 400.5 361.7 401.5 357.2 402.5 353.6 403.5 349.6 404.5 346 405.5 342.6 406.5 337.7 407.5 335.2 408.5 330 409.5 327.4 410.5 324.8 411.5 324.1 412.5 326.7 413.5 326.4 414.5 329.2 415.5 336.5 416.5 345.1 417.5 352.6 418.5 359.6 419.5 366.3 420.5 370.8 421.5 376.7 422.5 379.1 423.5 384.2 424.5 386.4 425.5 387.3 426.5 391.2 427.5 391.6 428.5 392.4 429.5 392.8 430.5 393.7 431.5 395.3 432.5 396.1 433.5 396.6 434.5 396 435.5 395.1 436.5 397.8 437.5 396.1 438.5 397.1 439.5 397 440.5 397.2 441.5 397.8 442.5 398.1 443.5 397 444.5 399.9 445.5 396.9 446.5 397.4 447.5 397.8 448.5 397.5 449.5 399.7 450.5 397.4 451.5 399.5 452.5 396.9 453.5 397.9 454.5 398.1 455.5 399.2 456.5 399.4 457.5 399.8 458.5 399.2 459.5 398.8 460.5 397.7 461.5 400.1 462.5 397.9 463.5 399 464.5 398.9 465.5 399.3 466.5 399.7 467.5 398.4 468.5 399.4 469.5 399.7 470.5 398.9 471.5 399.4 472.5 399.2 473.5 399.1 474.5 399.7 475.5 399 476.5 400.3 477.5 399.5 478.5 400.5 479.5 399.6 480.5 399.2 481.5 399.1 482.5 400.7 483.5 400 484.5 401 485.5 399.5 486.5 398.9 487.5 400.1 488.5 400.5 489.5 400.7 490.5 401.3 491.5 401 492.5 401.3 493.5 400.9 494.5 401.8 495.5 399.8 496.5 401.2 497.5 401.3 498.5 401 499.5 401.1" fill="none" stroke="#111" stroke-width="1.35" stroke-linejoin="round" stroke-dasharray="3.2 2.2"/>
<path d="M386.3 400.2 387.3 396.8 388.3 394.6 389.3 390 390.3 385.8 391.3 382.1 392.3 377.9 393.3 373.6 394.3 370.6 395.3 366.9 396.3 363.7 397.3 361.1 398.3 360.3 399.3 355.9 400.3 353.6 401.3 351.5 402.3 348 403.3 343.9 404.3 339.4 405.3 336.9 406.3 333.9 407.3 328.8 408.3 324.6 409.3 324.6 410.3 323.5 411.3 323.7 412.3 325 413.3 323.9 414.3 324 415.3 323.5 416.3 324.5 417.3 332.5 418.3 343.3 419.3 355.7 420.3 362.3 421.3 370.9 422.3 376.8 423.3 380 424.3 386.6 425.3 387 426.3 390.2 427.3 391.8 428.3 393.9 429.3 394 430.3 395.7 431.3 395.4 432.3 395.6 433.3 396.3 434.3 396.3 435.3 397.9 436.3 397.8 437.3 398.6 438.3 396.1 439.3 396.9 440.3 397.3 441.3 397.1 442.3 397.4 443.3 396.2 444.3 396.9 445.3 397.9 446.3 397.1 447.3 397.4 448.3 397.6 449.3 397.2 450.3 397.6 451.3 397.7 452.3 398.4 453.3 398.9 454.3 398.1 455.3 399.4 456.3 397.7 457.3 398.7 458.3 398.5 459.3 398.2 460.3 399.2 461.3 397.5 462.3 399 463.3 398.9 464.3 398.1 465.3 399 466.3 398.9 467.3 400.1 468.3 400.8 469.3 400 470.3 399.8 471.3 399.6 472.3 400.7 473.3 400.9 474.3 400.5 475.3 400.1 476.3 400.9 477.3 398.7 478.3 400.3 479.3 399.7 480.3 399.9 481.3 400.6 482.3 401.4 483.3 401 484.3 399.9 485.3 400.3 486.3 402.1 487.3 399.6 488.3 400.7 489.3 400.2 490.3 402.5 491.3 401 492.3 400.3 493.3 401.5 494.3 399.2 495.3 399.8 496.3 402.1 497.3 401.6 498.3 400.6 499.3 399.9 500.3 401 501.3 401.5 502.3 399.8 503.3 402.5 504.3 402.1 505.3 401.9 506.3 402.3 507.3 401.6 508.3 401.2 509.3 402.5" fill="none" stroke="#111" stroke-width="1.35" stroke-linejoin="round"/>
<path d="M391 401.3 392 400.9 393 401.8 394 400.8 395 399.4 396 396.7 397 395.6 398 394.8 399 391.8 400 387.9 401 385.1 402 384.2 403 381.8 404 379.1 405 375.7 406 373.4 407 369.1 408 366.8 409 362 410 360 411 356.1 412 353.5 413 348.2 414 348.3 415 349.3 416 353.5 417 359.6 418 366.6 419 373.4 420 378.6 421 383.4 422 388.1 423 390.9 424 392.9 425 394.9 426 396.5 427 398.4 428 398.3 429 400 430 401.5 431 401.8 432 402.3 433 401.1 434 402.3 435 402.5 436 401.9 437 401.3 438 400.2 439 401.3 440 400.2 441 401.5 442 401.6 443 401.4 444 401.5 445 401.9 446 401.6 447 402.5 448 402.2 449 401.5 450 402.4 451 402.1 452 401.6 453 401.6 454 401.4 455 400.6 456 401.6 457 402.3 458 401.3 459 400.8 460 401.7 461 401.9 462 401.7 463 401.3 464 401.3 465 402 466 401.8 467 401.4 468 402.1 469 401.9 470 401.7 471 402.4 472 402.5 473 402.5 474 402 475 402.5 476 402.5 477 401.7 478 402.5 479 402.5 480 401.5 481 401.8 482 402.5 483 401.2 484 402.2 485 401.5 486 401.7 487 400.4 488 402.3 489 401.8 490 401 491 401.2 492 402.5 493 400.6 494 401.5 495 402.5 496 401.9 497 401.2 498 401.6 499 402 500 402.1 501 402.2 502 401.4 503 402.5 504 402.3 505 401.7 506 402.5 507 401.9 508 402.5 509 402.4 510 401.3" fill="none" stroke="#111" stroke-width="1.35" stroke-linejoin="round"/>
<rect x="386.5" y="323.5" width="125" height="79.5" fill="none" stroke="#111" stroke-width="1.3"/>
<path d="M386.5 403v4M395.9 403v2.6M401.4 403v2.6M405.3 403v2.6M408.3 403v2.6M410.8 403v2.6M412.9 403v2.6M414.7 403v2.6M416.3 403v2.6M417.8 403v4M427.2 403v2.6M432.7 403v2.6M436.6 403v2.6M439.6 403v2.6M442.1 403v2.6M444.2 403v2.6M446 403v2.6M447.6 403v2.6M449 403v4M458.4 403v2.6M463.9 403v2.6M467.8 403v2.6M470.8 403v2.6M473.3 403v2.6M475.4 403v2.6M477.2 403v2.6M478.8 403v2.6M480.2 403v4M489.7 403v2.6M495.2 403v2.6M499.1 403v2.6M502.1 403v2.6M504.6 403v2.6M506.7 403v2.6M508.5 403v2.6M510.1 403v2.6M511.5 403v4" stroke="#111" stroke-width="1.1" fill="none"/>
<path d="M386.5 403h-4.5M386.5 401.1h-2.6M386.5 399.2h-2.6M386.5 397.3h-2.6M386.5 395.4h-2.6M386.5 393.5h-4.5M386.5 391.6h-2.6M386.5 389.7h-2.6M386.5 387.8h-2.6M386.5 385.9h-2.6M386.5 384h-4.5M386.5 382.1h-2.6M386.5 380.2h-2.6M386.5 378.3h-2.6M386.5 376.4h-2.6M386.5 374.5h-4.5M386.5 372.6h-2.6M386.5 370.7h-2.6M386.5 368.8h-2.6M386.5 366.9h-2.6M386.5 365h-4.5M386.5 363.1h-2.6M386.5 361.2h-2.6M386.5 359.3h-2.6M386.5 357.4h-2.6M386.5 355.5h-4.5M386.5 353.6h-2.6M386.5 351.6h-2.6M386.5 349.7h-2.6M386.5 347.8h-2.6M386.5 345.9h-4.5M386.5 344h-2.6M386.5 342.1h-2.6M386.5 340.2h-2.6M386.5 338.3h-2.6M386.5 336.4h-4.5M386.5 334.5h-2.6M386.5 332.6h-2.6M386.5 330.7h-2.6M386.5 328.8h-2.6M386.5 326.9h-4.5M386.5 325h-2.6" stroke="#111" stroke-width="1" fill="none"/>
<text transform="translate(380.4 418.2) scale(.8 1)" font-size="10.2" class="t">10</text>
<text transform="translate(389 411.9) scale(.95 1)" font-size="9.3">0</text>
<text transform="translate(411.6 418.2) scale(.8 1)" font-size="10.2" class="t">10</text>
<text transform="translate(420.2 411.9) scale(.95 1)" font-size="9.3">1</text>
<text transform="translate(442.9 418.2) scale(.8 1)" font-size="10.2" class="t">10</text>
<text transform="translate(451.5 411.9) scale(.95 1)" font-size="9.3">2</text>
<text transform="translate(474.1 418.2) scale(.8 1)" font-size="10.2" class="t">10</text>
<text transform="translate(482.8 411.9) scale(.95 1)" font-size="9.3">3</text>
<text transform="translate(503.1 418.2) scale(.8 1)" font-size="10.2" class="t">10</text>
<text transform="translate(512.9 411.9) scale(.95 1)" font-size="9.3">4</text>
<text transform="translate(377.4 401.8) rotate(-90)" font-size="8.2" text-anchor="middle">0</text>
<text transform="translate(377.4 325.7) rotate(-90)" font-size="8.2" text-anchor="middle">80</text>
<text transform="translate(367.8 365.2) rotate(-90)" font-size="9.4" text-anchor="middle">Counts</text>
<text x="444.6" y="436.1" font-size="15" text-anchor="middle" class="b">B220</text>
<path d="M38 534.4 39 535.4 40 533.3 41 534.1 42 531.7 43 530.3 44 529.3 45 526.7 46 524.8 47 521.4 48 521.5 49 518.9 50 515.7 51 513.3 52 508.2 53 507.6 54 504.9 55 498.6 56 493.7 57 487.8 58 479.6 59 470.9 60 464.5 61 461.6 62 464.5 63 467.8 64 477.4 65 488.1 66 496.6 67 505.7 68 513.2 69 518.5 70 521.3 71 524.8 72 526.1 73 527.8 74 530 75 532.2 76 532.3 77 533.1 78 531.9 79 533.3 80 534.5 81 535 82 534.6 83 534.1 84 534.9 85 534.1 86 535.3 87 534.1 88 534.3 89 534.5 90 534.2 91 535.1 92 534.6 93 535.1 94 535.1 95 535.5 96 534.3 97 533.5 98 535 99 534 100 535.5 101 534.4 102 535.3 103 534.1 104 534.4 105 532.8 106 534.1 107 534.5 108 534.5 109 534 110 533.8 111 534.9 112 533.9 113 533.5 114 534.4 115 534.4 116 534.3 117 535.5 118 533.8 119 533.6 120 535 121 534.8 122 534.1 123 534.6 124 533.4 125 535.3 126 534.5 127 534.5 128 533.6 129 535.5 130 533.6 131 533.9 132 534.8 133 532.6 134 534.9 135 534.8 136 533.9 137 535.4 138 534.1 139 534 140 534.4 141 534.4 142 534.4 143 534.5 144 534.1 145 534.1 146 533.8 147 533.9 148 535.1 149 533.8 150 535.5 151 534.3 152 534.3 153 534.4 154 534.9 155 533.4 156 535.4 157 534.5 158 534.3 159 533.9 160 535.3 L160 536 L38 536Z" fill="#bbbbbb" stroke="none"/>
<path d="M38 533.1 39 530.5 40 530.8 41 527.8 42 525.9 43 522.7 44 520.7 45 517 46 514.7 47 513.7 48 510.2 49 507.5 50 503.2 51 498.6 52 494.9 53 488.3 54 484.5 55 478.3 56 473.5 57 466.7 58 461.3 59 459.2 60 458.1 61 457.8 62 456.8 63 458.1 64 460.9 65 466.6 66 473.8 67 482.5 68 489.4 69 497 70 504.4 71 510.9 72 515.3 73 517.9 74 521.4 75 523.3 76 525 77 526.3 78 525.9 79 528.7 80 529.2 81 530.8 82 531.5 83 530.5 84 532.4 85 531.3 86 531.4 87 532.3 88 532.7 89 532.3 90 532.4 91 532 92 532 93 532.8 94 532.5 95 532.6 96 532 97 531.7 98 532.6 99 532.2 100 532.3 101 532.5 102 532.7 103 533.5 104 531.9 105 532.3 106 532.2 107 532.6 108 531.3 109 533.5 110 532.8" fill="none" stroke="#111" stroke-width="1.35" stroke-linejoin="round" stroke-dasharray="3.2 2.2"/>
<path d="M36.5 503 37.5 527.1 38.5 523.1 39.5 518.2 40.5 515.4 41.5 510.4 42.5 505.8 43.5 501.8 44.5 495.6 45.5 492.1 46.5 484.8 47.5 479.5 48.5 475.3 49.5 473.2 50.5 470.1 51.5 466.9 52.5 463.9 53.5 461.2 54.5 459.8 55.5 456.8 56.5 457.1 57.5 457.6 58.5 458.2 59.5 456.3 60.5 456 61.5 457.1 62.5 457.7 63.5 456.4 64.5 456 65.5 459 66.5 462.8 67.5 471.7 68.5 480.9 69.5 490.8 70.5 497.3 71.5 504.5 72.5 510.9 73.5 517.7 74.5 520.8 75.5 522.3 76.5 525.9 77.5 528.3 78.5 529.1 79.5 530.4 80.5 530 81.5 532.2 82.5 532.5 83.5 532.4 84.5 532.6 85.5 530.7 86.5 532.8 87.5 531.1 88.5 531.9 89.5 532.7 90.5 533 91.5 531.7 92.5 532.7 93.5 531.1 94.5 533.7 95.5 532.8 96.5 533.3 97.5 532 98.5 531.2 99.5 532.9 100.5 532.5 101.5 532.6 102.5 532.7 103.5 533.6 104.5 533.2 105.5 533.9 106.5 532.8 107.5 533.8 108.5 532.8 109.5 533 110.5 532.4 111.5 534.2 112.5 533.7 113.5 534 114.5 533.2 115.5 532.7 116.5 532.8 117.5 533.1 118.5 533.6 119.5 532.6 120.5 532.4 121.5 532.7 122.5 533.3 123.5 532.9 124.5 533.4 125.5 531.9 126.5 533.4 127.5 533.7 128.5 533.2 129.5 534.9 130.5 533.6 131.5 533.3 132.5 533.5 133.5 532.4 134.5 533.5 135.5 532.9 136.5 532.7 137.5 533.2 138.5 533 139.5 532.8 140.5 533.5 141.5 533.2 142.5 533.7 143.5 534.7 144.5 534.1 145.5 532.7 146.5 533.4 147.5 533.6 148.5 534.9 149.5 534.9 150.5 533.6 151.5 533.7 152.5 533.8 153.5 534.5 154.5 533.6 155.5 534.5 156.5 535.4 157.5 533.2 158.5 534.9 159.5 534.6" fill="none" stroke="#111" stroke-width="1.35" stroke-linejoin="round"/>
<path d="M38 534.4 39 535.4 40 533.3 41 534.1 42 531.7 43 530.3 44 529.3 45 526.7 46 524.8 47 521.4 48 521.5 49 518.9 50 515.7 51 513.3 52 508.2 53 507.6 54 504.9 55 498.6 56 493.7 57 487.8 58 479.6 59 470.9 60 464.5 61 461.6 62 464.5 63 467.8 64 477.4 65 488.1 66 496.6 67 505.7 68 513.2 69 518.5 70 521.3 71 524.8 72 526.1 73 527.8 74 530 75 532.2 76 532.3 77 533.1 78 531.9 79 533.3 80 534.5 81 535 82 534.6 83 534.1 84 534.9 85 534.1 86 535.3 87 534.1 88 534.3 89 534.5 90 534.2 91 535.1 92 534.6 93 535.1 94 535.1 95 535.5 96 534.3 97 533.5 98 535 99 534 100 535.5 101 534.4 102 535.3 103 534.1 104 534.4 105 532.8 106 534.1 107 534.5 108 534.5 109 534 110 533.8 111 534.9 112 533.9 113 533.5 114 534.4 115 534.4 116 534.3 117 535.5 118 533.8 119 533.6 120 535 121 534.8 122 534.1 123 534.6 124 533.4 125 535.3 126 534.5 127 534.5 128 533.6 129 535.5 130 533.6 131 533.9 132 534.8 133 532.6 134 534.9 135 534.8 136 533.9 137 535.4 138 534.1 139 534 140 534.4 141 534.4 142 534.4 143 534.5 144 534.1 145 534.1 146 533.8 147 533.9 148 535.1 149 533.8 150 535.5 151 534.3 152 534.3 153 534.4 154 534.9 155 533.4 156 535.4 157 534.5 158 534.3 159 533.9 160 535.3" fill="none" stroke="#111" stroke-width="1.35" stroke-linejoin="round"/>
<rect x="36.5" y="456" width="125" height="80" fill="none" stroke="#111" stroke-width="1.3"/>
<path d="M36.5 536v4M45.9 536v2.6M51.4 536v2.6M55.3 536v2.6M58.3 536v2.6M60.8 536v2.6M62.9 536v2.6M64.7 536v2.6M66.3 536v2.6M67.8 536v4M77.2 536v2.6M82.7 536v2.6M86.6 536v2.6M89.6 536v2.6M92.1 536v2.6M94.2 536v2.6M96 536v2.6M97.6 536v2.6M99 536v4M108.4 536v2.6M113.9 536v2.6M117.8 536v2.6M120.8 536v2.6M123.3 536v2.6M125.4 536v2.6M127.2 536v2.6M128.8 536v2.6M130.2 536v4M139.7 536v2.6M145.2 536v2.6M149.1 536v2.6M152.1 536v2.6M154.6 536v2.6M156.7 536v2.6M158.5 536v2.6M160.1 536v2.6M161.5 536v4" stroke="#111" stroke-width="1.1" fill="none"/>
<path d="M36.5 536h-4.5M36.5 534.1h-2.6M36.5 532.3h-2.6M36.5 530.4h-2.6M36.5 528.5h-2.6M36.5 526.7h-4.5M36.5 524.8h-2.6M36.5 522.9h-2.6M36.5 521.1h-2.6M36.5 519.2h-2.6M36.5 517.3h-4.5M36.5 515.5h-2.6M36.5 513.6h-2.6M36.5 511.7h-2.6M36.5 509.9h-2.6M36.5 508h-4.5M36.5 506.1h-2.6M36.5 504.3h-2.6M36.5 502.4h-2.6M36.5 500.5h-2.6M36.5 498.7h-4.5M36.5 496.8h-2.6M36.5 494.9h-2.6M36.5 493.1h-2.6M36.5 491.2h-2.6M36.5 489.3h-4.5M36.5 487.5h-2.6M36.5 485.6h-2.6M36.5 483.7h-2.6M36.5 481.9h-2.6M36.5 480h-4.5M36.5 478.1h-2.6M36.5 476.3h-2.6M36.5 474.4h-2.6M36.5 472.5h-2.6M36.5 470.7h-4.5M36.5 468.8h-2.6M36.5 466.9h-2.6M36.5 465.1h-2.6M36.5 463.2h-2.6M36.5 461.3h-4.5M36.5 459.5h-2.6M36.5 457.6h-2.6" stroke="#111" stroke-width="1" fill="none"/>
<text transform="translate(30.4 551.2) scale(.8 1)" font-size="10.2" class="t">10</text>
<text transform="translate(39 544.9) scale(.95 1)" font-size="9.3">0</text>
<text transform="translate(61.6 551.2) scale(.8 1)" font-size="10.2" class="t">10</text>
<text transform="translate(70.2 544.9) scale(.95 1)" font-size="9.3">1</text>
<text transform="translate(92.9 551.2) scale(.8 1)" font-size="10.2" class="t">10</text>
<text transform="translate(101.5 544.9) scale(.95 1)" font-size="9.3">2</text>
<text transform="translate(124.2 551.2) scale(.8 1)" font-size="10.2" class="t">10</text>
<text transform="translate(132.8 544.9) scale(.95 1)" font-size="9.3">3</text>
<text transform="translate(153.1 551.2) scale(.8 1)" font-size="10.2" class="t">10</text>
<text transform="translate(162.8 544.9) scale(.95 1)" font-size="9.3">4</text>
<text transform="translate(27.4 534.8) rotate(-90)" font-size="8.2" text-anchor="middle">0</text>
<text transform="translate(27.4 460.1) rotate(-90)" font-size="8.2" text-anchor="middle">80</text>
<text transform="translate(17.8 498) rotate(-90)" font-size="9.4" text-anchor="middle">Counts</text>
<text x="92.6" y="569.1" font-size="15" text-anchor="middle" class="b">CD4</text>
<path d="M211 534.9 212 534.6 213 534.3 214 534.1 215 532.3 216 530.3 217 528.3 218 525.1 219 524.5 220 523.6 221 520.9 222 518.8 223 515.4 224 514.1 225 509.7 226 508.5 227 505.3 228 499.4 229 497.8 230 491.8 231 486.3 232 480.6 233 473.4 234 468.5 235 465.1 236 464.3 237 465.8 238 470.5 239 483.7 240 494.1 241 501.2 242 508.9 243 513.8 244 519.6 245 522.5 246 525.8 247 527.6 248 530 249 530.3 250 530.3 251 532 252 533.4 253 534.1 254 534.5 255 532.9 256 533.6 257 532.9 258 533.1 259 533.8 260 534.5 261 534.8 262 533.9 263 533.5 264 533.8 265 534.9 266 535.2 267 533.8 268 533.7 269 534.4 270 534.6 271 534.2 272 534.6 273 534.5 274 534 275 534.7 276 535.2 277 533.7 278 533.8 279 534.2 280 535.2 281 535.1 282 534.8 283 534.4 284 534.5 285 535.1 286 533.2 287 533.3 288 535.3 289 534.1 290 534.7 291 534.5 292 534.1 293 534.9 294 533.4 295 534.2 296 534.8 297 534.3 298 534.2 299 534.8 300 534.9 301 534.5 302 533.1 303 535.3 304 532.9 305 533.4 306 535.5 307 533.4 308 533.9 309 534.1 310 533.5 311 535.1 312 534.1 313 535 314 534.9 315 534.6 316 534.4 317 535 318 535.1 319 534.4 320 534.5 321 533.9 322 534.4 323 535.5 324 534.4 325 534.4 326 535.2 327 534.2 328 533.4 329 533.6 330 535.5 331 534.3 332 533.9 333 535.5 L333 536 L211 536Z" fill="#bbbbbb" stroke="none"/>
<path d="M211 532 212 529.2 213 526.6 214 525.1 215 522.8 216 519.3 217 516.5 218 515.2 219 513 220 509 221 506.6 222 501.1 223 498.4 224 494.8 225 490.7 226 486.5 227 481.4 228 475.4 229 468.7 230 465.4 231 461.7 232 457.9 233 457.8 234 457.1 235 458.2 236 457.6 237 460.1 238 461.9 239 468.2 240 474.2 241 484.3 242 489.8 243 495.2 244 501.3 245 507 246 514.7 247 517.4 248 521.8 249 524.6 250 525.7 251 525.7 252 527.7 253 529.2 254 529.4 255 529.6 256 530.3 257 529.3 258 531.6 259 530.3 260 531.2 261 531.7 262 531.6 263 531 264 533.1 265 531.7 266 531.6 267 531.5 268 530.8 269 531.7 270 531.4 271 531.1 272 532.8 273 531.9 274 531.8 275 531.4 276 533.1 277 531.9 278 533.8 279 531.1 280 531.6 281 531.5 282 533.3 283 532.9 284 532.2 285 533 286 530.6 287 531.3 288 532.1 289 531.1 290 531.1 291 532 292 532.3 293 530.8 294 531.8 295 531.5 296 532 297 531.7 298 531.9 299 532.9 300 532.1 301 533.9 302 532.7 303 531.9 304 531.5 305 531.1 306 532 307 532.7 308 531.8 309 532.3 310 532.4" fill="none" stroke="#111" stroke-width="1.35" stroke-linejoin="round" stroke-dasharray="3.2 2.2"/>
<path d="M209.5 530 210.5 523.7 211.5 519.3 212.5 515.4 213.5 511.3 214.5 507.9 215.5 506 216.5 500.6 217.5 498 218.5 495.9 219.5 491.4 220.5 487.7 221.5 486.5 222.5 482.4 223.5 478.3 224.5 473.9 225.5 469.3 226.5 466.5 227.5 463.7 228.5 462.1 229.5 459.6 230.5 457.2 231.5 457.1 232.5 456.5 233.5 456.5 234.5 457.8 235.5 457.8 236.5 456.5 237.5 456.5 238.5 456.5 239.5 458.4 240.5 460.2 241.5 474.2 242.5 482.5 243.5 490.1 244.5 499.4 245.5 506.3 246.5 511.5 247.5 516.9 248.5 521.1 249.5 522.9 250.5 525.2 251.5 527.7 252.5 528 253.5 529.5 254.5 529.2 255.5 529.1 256.5 530.8 257.5 530.5 258.5 531.5 259.5 532.1 260.5 530.3 261.5 532 262.5 531.8 263.5 531.5 264.5 531.7 265.5 531.2 266.5 531.7 267.5 531 268.5 532.2 269.5 531.3 270.5 532.2 271.5 530.8 272.5 532.6 273.5 531.7 274.5 531.3 275.5 531.2 276.5 532.8 277.5 531.5 278.5 531.9 279.5 532.1 280.5 531.6 281.5 532.1 282.5 530.9 283.5 532.2 284.5 531.5 285.5 532.3 286.5 533.4 287.5 532.6 288.5 533.2 289.5 532.4 290.5 531.9 291.5 533.1 292.5 531.6 293.5 532.9 294.5 532.1 295.5 532.7 296.5 532.8 297.5 533 298.5 532.6 299.5 532.1 300.5 532.3 301.5 531.9 302.5 532.6 303.5 533 304.5 533.3 305.5 533.7 306.5 533.1 307.5 532.7 308.5 531.8 309.5 532.8 310.5 533 311.5 532.5 312.5 531.4 313.5 534.4 314.5 533 315.5 532.7 316.5 532.5 317.5 532.8 318.5 532.7 319.5 533.2 320.5 534.2 321.5 533.1 322.5 532.9 323.5 533.5 324.5 533.4 325.5 534.3 326.5 532.7 327.5 533.6 328.5 533.8 329.5 532.6 330.5 534.1 331.5 532.7 332.5 533.7" fill="none" stroke="#111" stroke-width="1.35" stroke-linejoin="round"/>
<path d="M211 534.9 212 534.6 213 534.3 214 534.1 215 532.3 216 530.3 217 528.3 218 525.1 219 524.5 220 523.6 221 520.9 222 518.8 223 515.4 224 514.1 225 509.7 226 508.5 227 505.3 228 499.4 229 497.8 230 491.8 231 486.3 232 480.6 233 473.4 234 468.5 235 465.1 236 464.3 237 465.8 238 470.5 239 483.7 240 494.1 241 501.2 242 508.9 243 513.8 244 519.6 245 522.5 246 525.8 247 527.6 248 530 249 530.3 250 530.3 251 532 252 533.4 253 534.1 254 534.5 255 532.9 256 533.6 257 532.9 258 533.1 259 533.8 260 534.5 261 534.8 262 533.9 263 533.5 264 533.8 265 534.9 266 535.2 267 533.8 268 533.7 269 534.4 270 534.6 271 534.2 272 534.6 273 534.5 274 534 275 534.7 276 535.2 277 533.7 278 533.8 279 534.2 280 535.2 281 535.1 282 534.8 283 534.4 284 534.5 285 535.1 286 533.2 287 533.3 288 535.3 289 534.1 290 534.7 291 534.5 292 534.1 293 534.9 294 533.4 295 534.2 296 534.8 297 534.3 298 534.2 299 534.8 300 534.9 301 534.5 302 533.1 303 535.3 304 532.9 305 533.4 306 535.5 307 533.4 308 533.9 309 534.1 310 533.5 311 535.1 312 534.1 313 535 314 534.9 315 534.6 316 534.4 317 535 318 535.1 319 534.4 320 534.5 321 533.9 322 534.4 323 535.5 324 534.4 325 534.4 326 535.2 327 534.2 328 533.4 329 533.6 330 535.5 331 534.3 332 533.9 333 535.5" fill="none" stroke="#111" stroke-width="1.35" stroke-linejoin="round"/>
<rect x="209.5" y="456.5" width="125" height="79.5" fill="none" stroke="#111" stroke-width="1.3"/>
<path d="M209.5 536v4M218.9 536v2.6M224.4 536v2.6M228.3 536v2.6M231.3 536v2.6M233.8 536v2.6M235.9 536v2.6M237.7 536v2.6M239.3 536v2.6M240.8 536v4M250.2 536v2.6M255.7 536v2.6M259.6 536v2.6M262.6 536v2.6M265.1 536v2.6M267.2 536v2.6M269 536v2.6M270.6 536v2.6M272 536v4M281.4 536v2.6M286.9 536v2.6M290.8 536v2.6M293.8 536v2.6M296.3 536v2.6M298.4 536v2.6M300.2 536v2.6M301.8 536v2.6M303.2 536v4M312.7 536v2.6M318.2 536v2.6M322.1 536v2.6M325.1 536v2.6M327.6 536v2.6M329.7 536v2.6M331.5 536v2.6M333.1 536v2.6M334.5 536v4" stroke="#111" stroke-width="1.1" fill="none"/>
<path d="M209.5 536h-4.5M209.5 534h-2.6M209.5 531.9h-2.6M209.5 529.9h-2.6M209.5 527.9h-2.6M209.5 525.9h-4.5M209.5 523.8h-2.6M209.5 521.8h-2.6M209.5 519.8h-2.6M209.5 517.8h-2.6M209.5 515.7h-4.5M209.5 513.7h-2.6M209.5 511.7h-2.6M209.5 509.7h-2.6M209.5 507.6h-2.6M209.5 505.6h-4.5M209.5 503.6h-2.6M209.5 501.6h-2.6M209.5 499.5h-2.6M209.5 497.5h-2.6M209.5 495.5h-4.5M209.5 493.5h-2.6M209.5 491.4h-2.6M209.5 489.4h-2.6M209.5 487.4h-2.6M209.5 485.4h-4.5M209.5 483.3h-2.6M209.5 481.3h-2.6M209.5 479.3h-2.6M209.5 477.3h-2.6M209.5 475.2h-4.5M209.5 473.2h-2.6M209.5 471.2h-2.6M209.5 469.2h-2.6M209.5 467.1h-2.6M209.5 465.1h-4.5M209.5 463.1h-2.6M209.5 461.1h-2.6M209.5 459h-2.6M209.5 457h-2.6" stroke="#111" stroke-width="1" fill="none"/>
<text transform="translate(203.4 551.2) scale(.8 1)" font-size="10.2" class="t">10</text>
<text transform="translate(212 544.9) scale(.95 1)" font-size="9.3">0</text>
<text transform="translate(234.7 551.2) scale(.8 1)" font-size="10.2" class="t">10</text>
<text transform="translate(243.2 544.9) scale(.95 1)" font-size="9.3">1</text>
<text transform="translate(265.9 551.2) scale(.8 1)" font-size="10.2" class="t">10</text>
<text transform="translate(274.5 544.9) scale(.95 1)" font-size="9.3">2</text>
<text transform="translate(297.1 551.2) scale(.8 1)" font-size="10.2" class="t">10</text>
<text transform="translate(305.8 544.9) scale(.95 1)" font-size="9.3">3</text>
<text transform="translate(326.1 551.2) scale(.8 1)" font-size="10.2" class="t">10</text>
<text transform="translate(335.9 544.9) scale(.95 1)" font-size="9.3">4</text>
<text transform="translate(200.4 534.8) rotate(-90)" font-size="8.2" text-anchor="middle">0</text>
<text transform="translate(200.4 463.9) rotate(-90)" font-size="8.2" text-anchor="middle">70</text>
<text transform="translate(190.8 498.2) rotate(-90)" font-size="9.4" text-anchor="middle">Counts</text>
<text x="267.6" y="569.1" font-size="15" text-anchor="middle" class="b">CD8</text>
<path d="M388 534.7 389 533.7 390 533.5 391 534.3 392 535.2 393 534.5 394 534 395 532.5 396 531.1 397 527.8 398 527.5 399 523.7 400 522.5 401 520.6 402 519.1 403 516.4 404 515.3 405 511.9 406 508.3 407 506.3 408 502.3 409 497.8 410 493.2 411 488.6 412 481.7 413 476.3 414 471.6 415 466.7 416 460.3 417 457.9 418 460.6 419 467.4 420 476.9 421 492.6 422 501.9 423 511.8 424 518.8 425 522.8 426 524.9 427 527.3 428 529 429 530.4 430 532.2 431 533.3 432 532.9 433 533.4 434 532.8 435 533.8 436 533.8 437 533.8 438 533.9 439 533.3 440 535.5 441 533.5 442 532.9 443 532.8 444 532.7 445 533.5 446 533.4 447 533.9 448 533.1 449 533.5 450 533.3 451 535.2 452 534.3 453 533.3 454 534.3 455 535.4 456 533 457 534.8 458 533.1 459 532.7 460 534.3 461 535 462 534.6 463 533.7 464 534.1 465 535.4 466 534.4 467 534 468 534.7 469 533.3 470 533.2 471 534.7 472 533.8 473 534.5 474 534.4 475 533 476 534 477 535.3 478 533.8 479 533.7 480 534.9 481 534.7 482 534.1 483 535 484 535.5 485 533.7 486 533.6 487 533.4 488 534.4 489 534.3 490 534.7 491 534.1 492 534.2 493 534.4 494 533.6 495 534.2 496 534.9 497 535.5 498 533.2 499 533.1 500 535.1 501 533.4 502 535.3 503 534.7 504 535 505 534.5 506 535.2 507 534.1 508 533.3 509 534.8 L509 536 L388 536Z" fill="#bbbbbb" stroke="none"/>
<path d="M388 531.3 389 529.5 390 528.6 391 527.7 392 525 393 523 394 522.5 395 519.2 396 519.7 397 517.3 398 515.7 399 514 400 511.9 401 509.7 402 508.7 403 502.7 404 499.2 405 494.8 406 491 407 487.2 408 483.1 409 479.1 410 476.9 411 472.6 412 470.6 413 467.7 414 463.8 415 462.3 416 458.8 417 458 418 459.7 419 461.6 420 470.5 421 477.6 422 488.4 423 495.4 424 504.3 425 510.5 426 515.5 427 518.1 428 520.4 429 522.5 430 524.5 431 526.7 432 526.5 433 528.3 434 527.4 435 527.5 436 529.9 437 529.1 438 528.8 439 530.2 440 530.4 441 531.1 442 532.7 443 530.6 444 530.5 445 531.4 446 530.4 447 531 448 531.3 449 531.1 450 532.1 451 531.2 452 531 453 530 454 531.5 455 531.6 456 530.9 457 530 458 531 459 532.4 460 532.3 461 531.5 462 532.3 463 531.9 464 532.7 465 532.1 466 531.5 467 531.5 468 530.7 469 532.5 470 532.3 471 533 472 531.2 473 531.1 474 532.5 475 531.5 476 532.3 477 531.9 478 531.2 479 532.7 480 533.4 481 532.9 482 531.9 483 531.9 484 531.8 485 532.6 486 531.6 487 532 488 531.5 489 531.1 490 532.8 491 531.7 492 530.7 493 532.2 494 532.7 495 532 496 532.6 497 532.5 498 531.7 499 532.1 500 532.8" fill="none" stroke="#111" stroke-width="1.35" stroke-linejoin="round" stroke-dasharray="3.2 2.2"/>
<path d="M386 531.2 387 531 388 528.3 389 527.3 390 525.2 391 519.4 392 519.4 393 515.5 394 514.1 395 510.9 396 508.6 397 505.7 398 502.7 399 500.1 400 498.4 401 493.5 402 490.2 403 482.4 404 476.9 405 473.7 406 472.2 407 468 408 468.5 409 464.2 410 464 411 461.9 412 460.4 413 459.5 414 457.7 415 456.5 416 456.5 417 456.6 418 457.4 419 457.9 420 466.3 421 477.3 422 486.6 423 494 424 502.2 425 508.2 426 513.8 427 518.6 428 519.4 429 521.9 430 523.9 431 525.1 432 525.4 433 526.5 434 527.5 435 527.8 436 528.1 437 529.4 438 529.8 439 528.3 440 530.9 441 532.3 442 532.5 443 532.2 444 531 445 532 446 533 447 530.9 448 532.8 449 531.9 450 530.9 451 534.2 452 530.5 453 531.8 454 531.7 455 532.4 456 532.2 457 531.7 458 530.6 459 531.9 460 531.9 461 532.5 462 531.9 463 531 464 532.7 465 532.6 466 533 467 532.6 468 533.6 469 532.9 470 531.6 471 533 472 533.1 473 532.9 474 532.5 475 533.1 476 533.4 477 532.6 478 531.8 479 532.1 480 533.2 481 533.2 482 533.5 483 532.2 484 532.9 485 534.3 486 533.5 487 532.9 488 533.8 489 532.7 490 532.6 491 532.1 492 534.1 493 532.7 494 532 495 533.7 496 533.4 497 532.6 498 533 499 533.6 500 532.5 501 532.8 502 532.6 503 534.1 504 533.9 505 533.2 506 533.9 507 533.6 508 533.7 509 533.2" fill="none" stroke="#111" stroke-width="1.35" stroke-linejoin="round"/>
<path d="M388 534.7 389 533.7 390 533.5 391 534.3 392 535.2 393 534.5 394 534 395 532.5 396 531.1 397 527.8 398 527.5 399 523.7 400 522.5 401 520.6 402 519.1 403 516.4 404 515.3 405 511.9 406 508.3 407 506.3 408 502.3 409 497.8 410 493.2 411 488.6 412 481.7 413 476.3 414 471.6 415 466.7 416 460.3 417 457.9 418 460.6 419 467.4 420 476.9 421 492.6 422 501.9 423 511.8 424 518.8 425 522.8 426 524.9 427 527.3 428 529 429 530.4 430 532.2 431 533.3 432 532.9 433 533.4 434 532.8 435 533.8 436 533.8 437 533.8 438 533.9 439 533.3 440 535.5 441 533.5 442 532.9 443 532.8 444 532.7 445 533.5 446 533.4 447 533.9 448 533.1 449 533.5 450 533.3 451 535.2 452 534.3 453 533.3 454 534.3 455 535.4 456 533 457 534.8 458 533.1 459 532.7 460 534.3 461 535 462 534.6 463 533.7 464 534.1 465 535.4 466 534.4 467 534 468 534.7 469 533.3 470 533.2 471 534.7 472 533.8 473 534.5 474 534.4 475 533 476 534 477 535.3 478 533.8 479 533.7 480 534.9 481 534.7 482 534.1 483 535 484 535.5 485 533.7 486 533.6 487 533.4 488 534.4 489 534.3 490 534.7 491 534.1 492 534.2 493 534.4 494 533.6 495 534.2 496 534.9 497 535.5 498 533.2 499 533.1 500 535.1 501 533.4 502 535.3 503 534.7 504 535 505 534.5 506 535.2 507 534.1 508 533.3 509 534.8" fill="none" stroke="#111" stroke-width="1.35" stroke-linejoin="round"/>
<rect x="386" y="456.5" width="125" height="79.5" fill="none" stroke="#111" stroke-width="1.3"/>
<path d="M386 536v4M395.4 536v2.6M400.9 536v2.6M404.8 536v2.6M407.8 536v2.6M410.3 536v2.6M412.4 536v2.6M414.2 536v2.6M415.8 536v2.6M417.2 536v4M426.7 536v2.6M432.2 536v2.6M436.1 536v2.6M439.1 536v2.6M441.6 536v2.6M443.7 536v2.6M445.5 536v2.6M447.1 536v2.6M448.5 536v4M457.9 536v2.6M463.4 536v2.6M467.3 536v2.6M470.3 536v2.6M472.8 536v2.6M474.9 536v2.6M476.7 536v2.6M478.3 536v2.6M479.8 536v4M489.2 536v2.6M494.7 536v2.6M498.6 536v2.6M501.6 536v2.6M504.1 536v2.6M506.2 536v2.6M508 536v2.6M509.6 536v2.6M511 536v4" stroke="#111" stroke-width="1.1" fill="none"/>
<path d="M386 536h-4.5M386 533.8h-2.6M386 531.6h-2.6M386 529.3h-2.6M386 527.1h-2.6M386 524.9h-4.5M386 522.7h-2.6M386 520.4h-2.6M386 518.2h-2.6M386 516h-2.6M386 513.8h-4.5M386 511.5h-2.6M386 509.3h-2.6M386 507.1h-2.6M386 504.9h-2.6M386 502.6h-4.5M386 500.4h-2.6M386 498.2h-2.6M386 496h-2.6M386 493.7h-2.6M386 491.5h-4.5M386 489.3h-2.6M386 487.1h-2.6M386 484.9h-2.6M386 482.6h-2.6M386 480.4h-4.5M386 478.2h-2.6M386 476h-2.6M386 473.7h-2.6M386 471.5h-2.6M386 469.3h-4.5M386 467.1h-2.6M386 464.8h-2.6M386 462.6h-2.6M386 460.4h-2.6M386 458.2h-4.5" stroke="#111" stroke-width="1" fill="none"/>
<text transform="translate(379.9 551.2) scale(.8 1)" font-size="10.2" class="t">10</text>
<text transform="translate(388.5 544.9) scale(.95 1)" font-size="9.3">0</text>
<text transform="translate(411.1 551.2) scale(.8 1)" font-size="10.2" class="t">10</text>
<text transform="translate(419.8 544.9) scale(.95 1)" font-size="9.3">1</text>
<text transform="translate(442.4 551.2) scale(.8 1)" font-size="10.2" class="t">10</text>
<text transform="translate(451 544.9) scale(.95 1)" font-size="9.3">2</text>
<text transform="translate(473.6 551.2) scale(.8 1)" font-size="10.2" class="t">10</text>
<text transform="translate(482.2 544.9) scale(.95 1)" font-size="9.3">3</text>
<text transform="translate(502.6 551.2) scale(.8 1)" font-size="10.2" class="t">10</text>
<text transform="translate(512.4 544.9) scale(.95 1)" font-size="9.3">4</text>
<text transform="translate(376.9 534.8) rotate(-90)" font-size="8.2" text-anchor="middle">0</text>
<text transform="translate(376.9 457) rotate(-90)" font-size="8.2" text-anchor="middle">70</text>
<text transform="translate(367.3 498.2) rotate(-90)" font-size="9.4" text-anchor="middle">Counts</text>
<text x="444.3" y="569.1" font-size="15" text-anchor="middle" class="b">NK1.1</text></svg>
</body></html>
